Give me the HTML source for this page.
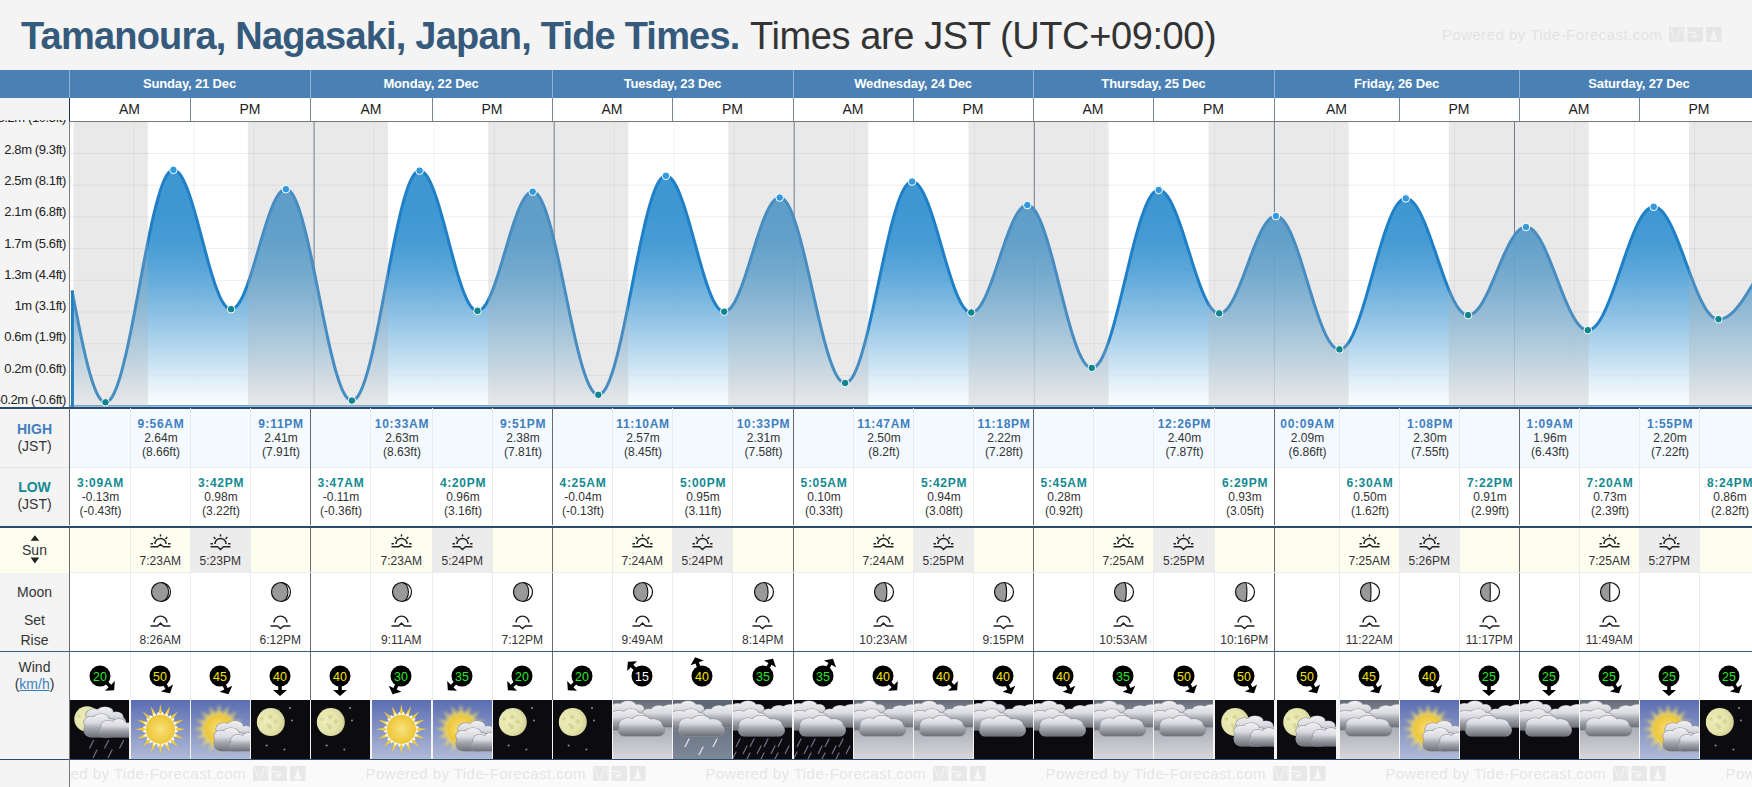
<!DOCTYPE html><html><head><meta charset="utf-8"><style>
*{margin:0;padding:0;box-sizing:border-box}
html,body{width:1752px;height:787px;overflow:hidden;background:#f4f4f4;font-family:"Liberation Sans",sans-serif;color:#222}
.a{position:absolute}
.c{position:absolute;text-align:center;white-space:nowrap}
</style></head><body><div class="a" style="left:21px;top:13px;font-size:38px;line-height:46px;white-space:nowrap"><b style="color:#355a7c;letter-spacing:-0.8px;margin-right:0px">Tamanoura, Nagasaki, Japan, Tide Times.</b> <span style="color:#333;letter-spacing:-0.4px">Times are JST (UTC+09:00)</span></div>
<div class="a" style="left:1442.0px;top:26.3px;font-size:15px;line-height:18px;letter-spacing:0.46px;color:#e3e3e3;white-space:nowrap">Powered by Tide-Forecast.com</div><svg class="a" style="left:1669.0px;top:26.9px" width="53" height="15" viewBox="0 0 53 15"><rect x="0" y="0" width="15.6" height="15" fill="#e6e6e6"/><rect x="18.5" y="0" width="15.4" height="15" fill="#e6e6e6"/><rect x="37" y="0" width="15.5" height="15" fill="#e6e6e6"/><path d="M1 1 C3 1 4 14 6.5 14 C9 14 10 1 12.5 1 C14 1 14.5 8 15.5 10" fill="none" stroke="#f4f4f4" stroke-width="1"/><path d="M18.5 5.5 H25.5 V10.5 M22.5 8 L25.5 11 L28.5 8" fill="none" stroke="#f4f4f4" stroke-width="1.1"/><path d="M44.7 1.5 L48.3 13.5 H41.2 Z" fill="#f4f4f4"/></svg>
<div class="a" style="left:0;top:70px;width:1752px;height:28px;background:#4a80b4"></div>
<div class="c" style="left:69px;top:70px;width:241px;height:28px;line-height:28px;color:#fff;font-weight:bold;font-size:13px;letter-spacing:-0.15px">Sunday, 21 Dec</div>
<div class="a" style="left:69px;top:70px;width:1px;height:28px;background:#8fb3d6"></div>
<div class="c" style="left:310px;top:70px;width:242px;height:28px;line-height:28px;color:#fff;font-weight:bold;font-size:13px;letter-spacing:-0.15px">Monday, 22 Dec</div>
<div class="a" style="left:310px;top:70px;width:1px;height:28px;background:#8fb3d6"></div>
<div class="c" style="left:552px;top:70px;width:241px;height:28px;line-height:28px;color:#fff;font-weight:bold;font-size:13px;letter-spacing:-0.15px">Tuesday, 23 Dec</div>
<div class="a" style="left:552px;top:70px;width:1px;height:28px;background:#8fb3d6"></div>
<div class="c" style="left:793px;top:70px;width:240px;height:28px;line-height:28px;color:#fff;font-weight:bold;font-size:13px;letter-spacing:-0.15px">Wednesday, 24 Dec</div>
<div class="a" style="left:793px;top:70px;width:1px;height:28px;background:#8fb3d6"></div>
<div class="c" style="left:1033px;top:70px;width:241px;height:28px;line-height:28px;color:#fff;font-weight:bold;font-size:13px;letter-spacing:-0.15px">Thursday, 25 Dec</div>
<div class="a" style="left:1033px;top:70px;width:1px;height:28px;background:#8fb3d6"></div>
<div class="c" style="left:1274px;top:70px;width:245px;height:28px;line-height:28px;color:#fff;font-weight:bold;font-size:13px;letter-spacing:-0.15px">Friday, 26 Dec</div>
<div class="a" style="left:1274px;top:70px;width:1px;height:28px;background:#8fb3d6"></div>
<div class="c" style="left:1519px;top:70px;width:240px;height:28px;line-height:28px;color:#fff;font-weight:bold;font-size:13px;letter-spacing:-0.15px">Saturday, 27 Dec</div>
<div class="a" style="left:1519px;top:70px;width:1px;height:28px;background:#8fb3d6"></div>
<div class="a" style="left:70px;top:98px;width:1682px;height:23px;background:#fff"></div>
<div class="c" style="left:69px;top:98px;width:121px;height:23px;line-height:23px;font-size:14px">AM</div>
<div class="c" style="left:190px;top:98px;width:120px;height:23px;line-height:23px;font-size:14px">PM</div>
<div class="a" style="left:190px;top:98px;width:1px;height:23px;background:#778899"></div>
<div class="a" style="left:69px;top:98px;width:1px;height:23px;background:#778899"></div>
<div class="c" style="left:310px;top:98px;width:122px;height:23px;line-height:23px;font-size:14px">AM</div>
<div class="c" style="left:432px;top:98px;width:120px;height:23px;line-height:23px;font-size:14px">PM</div>
<div class="a" style="left:432px;top:98px;width:1px;height:23px;background:#778899"></div>
<div class="a" style="left:310px;top:98px;width:1px;height:23px;background:#778899"></div>
<div class="c" style="left:552px;top:98px;width:120px;height:23px;line-height:23px;font-size:14px">AM</div>
<div class="c" style="left:672px;top:98px;width:121px;height:23px;line-height:23px;font-size:14px">PM</div>
<div class="a" style="left:672px;top:98px;width:1px;height:23px;background:#778899"></div>
<div class="a" style="left:552px;top:98px;width:1px;height:23px;background:#778899"></div>
<div class="c" style="left:793px;top:98px;width:120px;height:23px;line-height:23px;font-size:14px">AM</div>
<div class="c" style="left:913px;top:98px;width:120px;height:23px;line-height:23px;font-size:14px">PM</div>
<div class="a" style="left:913px;top:98px;width:1px;height:23px;background:#778899"></div>
<div class="a" style="left:793px;top:98px;width:1px;height:23px;background:#778899"></div>
<div class="c" style="left:1033px;top:98px;width:120px;height:23px;line-height:23px;font-size:14px">AM</div>
<div class="c" style="left:1153px;top:98px;width:121px;height:23px;line-height:23px;font-size:14px">PM</div>
<div class="a" style="left:1153px;top:98px;width:1px;height:23px;background:#778899"></div>
<div class="a" style="left:1033px;top:98px;width:1px;height:23px;background:#778899"></div>
<div class="c" style="left:1274px;top:98px;width:125px;height:23px;line-height:23px;font-size:14px">AM</div>
<div class="c" style="left:1399px;top:98px;width:120px;height:23px;line-height:23px;font-size:14px">PM</div>
<div class="a" style="left:1399px;top:98px;width:1px;height:23px;background:#778899"></div>
<div class="a" style="left:1274px;top:98px;width:1px;height:23px;background:#778899"></div>
<div class="c" style="left:1519px;top:98px;width:120px;height:23px;line-height:23px;font-size:14px">AM</div>
<div class="c" style="left:1639px;top:98px;width:120px;height:23px;line-height:23px;font-size:14px">PM</div>
<div class="a" style="left:1639px;top:98px;width:1px;height:23px;background:#778899"></div>
<div class="a" style="left:1519px;top:98px;width:1px;height:23px;background:#778899"></div>
<div class="a" style="left:69px;top:98px;width:1px;height:23px;background:#1d3550"></div>
<div class="a" style="left:69px;top:121px;width:1683px;height:1px;background:#7a7a7a"></div>
<svg class="a" style="left:0;top:0" width="1752" height="787" viewBox="0 0 1752 787"><defs><linearGradient id="fg" gradientUnits="userSpaceOnUse" x1="0" y1="170" x2="0" y2="407"><stop offset="0.000" stop-color="#2a8ccd" stop-opacity="0.90"/><stop offset="0.169" stop-color="#2a8ccd" stop-opacity="0.90"/><stop offset="0.295" stop-color="#2a8ccd" stop-opacity="0.87"/><stop offset="0.422" stop-color="#2a8ccd" stop-opacity="0.77"/><stop offset="0.549" stop-color="#2a8ccd" stop-opacity="0.62"/><stop offset="0.675" stop-color="#2a8ccd" stop-opacity="0.45"/><stop offset="0.802" stop-color="#2a8ccd" stop-opacity="0.27"/><stop offset="0.907" stop-color="#2a8ccd" stop-opacity="0.12"/><stop offset="1.000" stop-color="#2a8ccd" stop-opacity="0.00"/></linearGradient><clipPath id="cc"><rect x="70" y="122" width="1682" height="285"/></clipPath></defs><g clip-path="url(#cc)"><rect x="70" y="122" width="1682" height="285" fill="#fff"/><line x1="70" x2="1752" y1="121.8" y2="121.8" stroke="#000" stroke-opacity="0.07" stroke-width="1"/><line x1="70" x2="1752" y1="153.5" y2="153.5" stroke="#000" stroke-opacity="0.07" stroke-width="1"/><line x1="70" x2="1752" y1="185.2" y2="185.2" stroke="#000" stroke-opacity="0.07" stroke-width="1"/><line x1="70" x2="1752" y1="216.9" y2="216.9" stroke="#000" stroke-opacity="0.07" stroke-width="1"/><line x1="70" x2="1752" y1="248.6" y2="248.6" stroke="#000" stroke-opacity="0.07" stroke-width="1"/><line x1="70" x2="1752" y1="280.3" y2="280.3" stroke="#000" stroke-opacity="0.07" stroke-width="1"/><line x1="70" x2="1752" y1="312.0" y2="312.0" stroke="#000" stroke-opacity="0.07" stroke-width="1"/><line x1="70" x2="1752" y1="343.7" y2="343.7" stroke="#000" stroke-opacity="0.07" stroke-width="1"/><line x1="70" x2="1752" y1="375.4" y2="375.4" stroke="#000" stroke-opacity="0.07" stroke-width="1"/><line x1="70" x2="1752" y1="407.1" y2="407.1" stroke="#000" stroke-opacity="0.07" stroke-width="1"/><line x1="134.0" x2="134.0" y1="122" y2="407" stroke="#000" stroke-opacity="0.06" stroke-width="1"/><line x1="194.0" x2="194.0" y1="122" y2="407" stroke="#000" stroke-opacity="0.06" stroke-width="1"/><line x1="254.1" x2="254.1" y1="122" y2="407" stroke="#000" stroke-opacity="0.06" stroke-width="1"/><line x1="374.1" x2="374.1" y1="122" y2="407" stroke="#000" stroke-opacity="0.06" stroke-width="1"/><line x1="434.1" x2="434.1" y1="122" y2="407" stroke="#000" stroke-opacity="0.06" stroke-width="1"/><line x1="494.1" x2="494.1" y1="122" y2="407" stroke="#000" stroke-opacity="0.06" stroke-width="1"/><line x1="614.2" x2="614.2" y1="122" y2="407" stroke="#000" stroke-opacity="0.06" stroke-width="1"/><line x1="674.2" x2="674.2" y1="122" y2="407" stroke="#000" stroke-opacity="0.06" stroke-width="1"/><line x1="734.2" x2="734.2" y1="122" y2="407" stroke="#000" stroke-opacity="0.06" stroke-width="1"/><line x1="854.3" x2="854.3" y1="122" y2="407" stroke="#000" stroke-opacity="0.06" stroke-width="1"/><line x1="914.3" x2="914.3" y1="122" y2="407" stroke="#000" stroke-opacity="0.06" stroke-width="1"/><line x1="974.3" x2="974.3" y1="122" y2="407" stroke="#000" stroke-opacity="0.06" stroke-width="1"/><line x1="1094.3" x2="1094.3" y1="122" y2="407" stroke="#000" stroke-opacity="0.06" stroke-width="1"/><line x1="1154.4" x2="1154.4" y1="122" y2="407" stroke="#000" stroke-opacity="0.06" stroke-width="1"/><line x1="1214.4" x2="1214.4" y1="122" y2="407" stroke="#000" stroke-opacity="0.06" stroke-width="1"/><line x1="1334.4" x2="1334.4" y1="122" y2="407" stroke="#000" stroke-opacity="0.06" stroke-width="1"/><line x1="1394.4" x2="1394.4" y1="122" y2="407" stroke="#000" stroke-opacity="0.06" stroke-width="1"/><line x1="1454.5" x2="1454.5" y1="122" y2="407" stroke="#000" stroke-opacity="0.06" stroke-width="1"/><line x1="1574.5" x2="1574.5" y1="122" y2="407" stroke="#000" stroke-opacity="0.06" stroke-width="1"/><line x1="1634.5" x2="1634.5" y1="122" y2="407" stroke="#000" stroke-opacity="0.06" stroke-width="1"/><line x1="1694.5" x2="1694.5" y1="122" y2="407" stroke="#000" stroke-opacity="0.06" stroke-width="1"/><line x1="314.1" x2="314.1" y1="122" y2="407" stroke="#5a6a7a" stroke-width="1"/><line x1="554.2" x2="554.2" y1="122" y2="407" stroke="#5a6a7a" stroke-width="1"/><line x1="794.2" x2="794.2" y1="122" y2="407" stroke="#5a6a7a" stroke-width="1"/><line x1="1034.3" x2="1034.3" y1="122" y2="407" stroke="#5a6a7a" stroke-width="1"/><line x1="1274.4" x2="1274.4" y1="122" y2="407" stroke="#5a6a7a" stroke-width="1"/><line x1="1514.5" x2="1514.5" y1="122" y2="407" stroke="#5a6a7a" stroke-width="1"/><line x1="1754.6" x2="1754.6" y1="122" y2="407" stroke="#5a6a7a" stroke-width="1"/><path d="M72.00,290.62 L73.00,295.79 L74.00,300.96 L75.00,306.11 L76.00,311.24 L77.00,316.32 L78.00,321.36 L79.00,326.34 L80.00,331.24 L81.00,336.05 L82.00,340.78 L83.00,345.39 L84.00,349.89 L85.00,354.26 L86.00,358.49 L87.00,362.58 L88.01,366.51 L89.01,370.27 L90.01,373.86 L91.01,377.27 L92.01,380.49 L93.01,383.51 L94.01,386.32 L95.01,388.92 L96.01,391.31 L97.01,393.47 L98.01,395.41 L99.01,397.11 L100.01,398.58 L101.01,399.81 L102.01,400.79 L103.01,401.53 L104.01,402.03 L105.01,402.28 L106.01,402.28 L107.01,402.03 L108.01,401.53 L109.01,400.78 L110.01,399.79 L111.01,398.56 L112.01,397.08 L113.01,395.37 L114.01,393.42 L115.01,391.24 L116.01,388.83 L117.02,386.21 L118.02,383.37 L119.02,380.32 L120.02,377.07 L121.02,373.63 L122.02,369.99 L123.02,366.18 L124.02,362.19 L125.02,358.05 L126.02,353.74 L127.02,349.30 L128.02,344.72 L129.02,340.01 L130.02,335.18 L131.02,330.25 L132.02,325.23 L133.02,320.12 L134.02,314.94 L135.02,309.70 L136.02,304.40 L137.02,299.07 L138.02,293.71 L139.02,288.34 L140.02,282.95 L141.02,277.58 L142.02,272.22 L143.02,266.90 L144.02,261.61 L145.02,256.38 L146.02,251.21 L147.02,246.11 L148.03,241.11 L149.03,236.19 L150.03,231.39 L151.03,226.70 L152.03,222.14 L153.03,217.72 L154.03,213.44 L155.03,209.32 L156.03,205.37 L157.03,201.58 L158.03,197.98 L159.03,194.57 L160.03,191.35 L161.03,188.34 L162.03,185.54 L163.03,182.95 L164.03,180.58 L165.03,178.44 L166.03,176.54 L167.03,174.86 L168.03,173.43 L169.03,172.23 L170.03,171.28 L171.03,170.58 L172.03,170.12 L173.03,169.92 L174.03,169.95 L175.03,170.19 L176.03,170.64 L177.03,171.29 L178.04,172.15 L179.04,173.20 L180.04,174.45 L181.04,175.90 L182.04,177.53 L183.04,179.35 L184.04,181.34 L185.04,183.51 L186.04,185.84 L187.04,188.34 L188.04,190.98 L189.04,193.77 L190.04,196.70 L191.04,199.75 L192.04,202.92 L193.04,206.20 L194.04,209.58 L195.04,213.05 L196.04,216.59 L197.04,220.21 L198.04,223.88 L199.04,227.60 L200.04,231.35 L201.04,235.13 L202.04,238.92 L203.04,242.71 L204.04,246.49 L205.04,250.26 L206.04,253.99 L207.04,257.67 L208.05,261.31 L209.05,264.88 L210.05,268.37 L211.05,271.78 L212.05,275.09 L213.05,278.30 L214.05,281.39 L215.05,284.36 L216.05,287.20 L217.05,289.89 L218.05,292.44 L219.05,294.82 L220.05,297.05 L221.05,299.10 L222.05,300.98 L223.05,302.67 L224.05,304.18 L225.05,305.49 L226.05,306.61 L227.05,307.53 L228.05,308.25 L229.05,308.77 L230.05,309.07 L231.05,309.18 L232.05,309.08 L233.05,308.78 L234.05,308.29 L235.05,307.61 L236.05,306.73 L237.05,305.67 L238.06,304.42 L239.06,302.98 L240.06,301.38 L241.06,299.60 L242.06,297.65 L243.06,295.55 L244.06,293.29 L245.06,290.89 L246.06,288.35 L247.06,285.68 L248.06,282.90 L249.06,280.00 L250.06,277.00 L251.06,273.91 L252.06,270.74 L253.06,267.50 L254.06,264.20 L255.06,260.85 L256.06,257.46 L257.06,254.05 L258.06,250.61 L259.06,247.18 L260.06,243.75 L261.06,240.33 L262.06,236.95 L263.06,233.61 L264.06,230.32 L265.06,227.09 L266.06,223.93 L267.07,220.86 L268.07,217.87 L269.07,215.00 L270.07,212.23 L271.07,209.58 L272.07,207.07 L273.07,204.69 L274.07,202.46 L275.07,200.38 L276.07,198.47 L277.07,196.72 L278.07,195.14 L279.07,193.74 L280.07,192.52 L281.07,191.48 L282.07,190.64 L283.07,189.99 L284.07,189.53 L285.07,189.27 L286.07,189.20 L287.07,189.37 L288.07,189.76 L289.07,190.40 L290.07,191.28 L291.07,192.39 L292.07,193.73 L293.07,195.30 L294.07,197.10 L295.07,199.11 L296.07,201.35 L297.08,203.80 L298.08,206.45 L299.08,209.30 L300.08,212.35 L301.08,215.59 L302.08,219.00 L303.08,222.59 L304.08,226.34 L305.08,230.24 L306.08,234.30 L307.08,238.49 L308.08,242.80 L309.08,247.24 L310.08,251.78 L311.08,256.42 L312.08,261.15 L313.08,265.96 L314.08,270.83 L315.08,275.75 L316.08,280.72 L317.08,285.72 L318.08,290.74 L319.08,295.77 L320.08,300.80 L321.08,305.82 L322.08,310.81 L323.08,315.76 L324.08,320.67 L325.08,325.52 L326.08,330.30 L327.09,335.00 L328.09,339.61 L329.09,344.12 L330.09,348.51 L331.09,352.79 L332.09,356.93 L333.09,360.94 L334.09,364.79 L335.09,368.49 L336.09,372.01 L337.09,375.37 L338.09,378.54 L339.09,381.52 L340.09,384.31 L341.09,386.89 L342.09,389.27 L343.09,391.43 L344.09,393.37 L345.09,395.09 L346.09,396.59 L347.09,397.85 L348.09,398.88 L349.09,399.67 L350.09,400.23 L351.09,400.55 L352.09,400.63 L353.09,400.46 L354.09,400.05 L355.09,399.39 L356.09,398.48 L357.10,397.33 L358.10,395.94 L359.10,394.32 L360.10,392.46 L361.10,390.37 L362.10,388.05 L363.10,385.52 L364.10,382.76 L365.10,379.80 L366.10,376.64 L367.10,373.28 L368.10,369.73 L369.10,366.00 L370.10,362.10 L371.10,358.03 L372.10,353.81 L373.10,349.44 L374.10,344.93 L375.10,340.30 L376.10,335.54 L377.10,330.68 L378.10,325.73 L379.10,320.68 L380.10,315.57 L381.10,310.38 L382.10,305.15 L383.10,299.87 L384.10,294.56 L385.10,289.23 L386.10,283.89 L387.11,278.56 L388.11,273.25 L389.11,267.96 L390.11,262.71 L391.11,257.50 L392.11,252.36 L393.11,247.29 L394.11,242.31 L395.11,237.41 L396.11,232.62 L397.11,227.95 L398.11,223.40 L399.11,218.98 L400.11,214.71 L401.11,210.59 L402.11,206.63 L403.11,202.85 L404.11,199.24 L405.11,195.82 L406.11,192.59 L407.11,189.56 L408.11,186.74 L409.11,184.13 L410.11,181.74 L411.11,179.58 L412.11,177.64 L413.11,175.94 L414.11,174.47 L415.11,173.24 L416.11,172.26 L417.12,171.52 L418.12,171.02 L419.12,170.77 L420.12,170.77 L421.12,170.98 L422.12,171.39 L423.12,172.01 L424.12,172.83 L425.12,173.85 L426.12,175.07 L427.12,176.48 L428.12,178.08 L429.12,179.87 L430.12,181.84 L431.12,183.98 L432.12,186.29 L433.12,188.76 L434.12,191.38 L435.12,194.15 L436.12,197.05 L437.12,200.09 L438.12,203.25 L439.12,206.51 L440.12,209.88 L441.12,213.34 L442.12,216.88 L443.12,220.49 L444.12,224.16 L445.12,227.88 L446.12,231.64 L447.13,235.42 L448.13,239.22 L449.13,243.03 L450.13,246.83 L451.13,250.61 L452.13,254.36 L453.13,258.07 L454.13,261.73 L455.13,265.33 L456.13,268.86 L457.13,272.30 L458.13,275.65 L459.13,278.90 L460.13,282.04 L461.13,285.05 L462.13,287.94 L463.13,290.68 L464.13,293.28 L465.13,295.72 L466.13,298.00 L467.13,300.11 L468.13,302.05 L469.13,303.81 L470.13,305.38 L471.13,306.76 L472.13,307.94 L473.13,308.93 L474.13,309.71 L475.13,310.30 L476.13,310.67 L477.14,310.84 L478.14,310.81 L479.14,310.59 L480.14,310.17 L481.14,309.56 L482.14,308.76 L483.14,307.78 L484.14,306.61 L485.14,305.26 L486.14,303.74 L487.14,302.05 L488.14,300.19 L489.14,298.18 L490.14,296.01 L491.14,293.70 L492.14,291.25 L493.14,288.67 L494.14,285.97 L495.14,283.16 L496.14,280.24 L497.14,277.23 L498.14,274.14 L499.14,270.97 L500.14,267.74 L501.14,264.46 L502.14,261.13 L503.14,257.77 L504.14,254.39 L505.14,251.00 L506.14,247.61 L507.15,244.23 L508.15,240.87 L509.15,237.55 L510.15,234.28 L511.15,231.05 L512.15,227.90 L513.15,224.82 L514.15,221.82 L515.15,218.93 L516.15,216.13 L517.15,213.45 L518.15,210.89 L519.15,208.47 L520.15,206.18 L521.15,204.04 L522.15,202.05 L523.15,200.22 L524.15,198.56 L525.15,197.07 L526.15,195.75 L527.15,194.62 L528.15,193.66 L529.15,192.90 L530.15,192.32 L531.15,191.93 L532.15,191.74 L533.15,191.75 L534.15,191.98 L535.15,192.44 L536.15,193.14 L537.16,194.06 L538.16,195.21 L539.16,196.59 L540.16,198.18 L541.16,200.00 L542.16,202.02 L543.16,204.26 L544.16,206.70 L545.16,209.34 L546.16,212.17 L547.16,215.18 L548.16,218.37 L549.16,221.74 L550.16,225.27 L551.16,228.95 L552.16,232.78 L553.16,236.75 L554.16,240.85 L555.16,245.07 L556.16,249.40 L557.16,253.82 L558.16,258.34 L559.16,262.94 L560.16,267.61 L561.16,272.34 L562.16,277.11 L563.16,281.92 L564.16,286.76 L565.16,291.61 L566.16,296.47 L567.17,301.32 L568.17,306.15 L569.17,310.95 L570.17,315.71 L571.17,320.42 L572.17,325.06 L573.17,329.64 L574.17,334.13 L575.17,338.52 L576.17,342.82 L577.17,347.00 L578.17,351.05 L579.17,354.98 L580.17,358.76 L581.17,362.39 L582.17,365.87 L583.17,369.18 L584.17,372.31 L585.17,375.27 L586.17,378.03 L587.17,380.61 L588.17,382.98 L589.17,385.14 L590.17,387.10 L591.17,388.84 L592.17,390.37 L593.17,391.67 L594.17,392.74 L595.17,393.59 L596.17,394.21 L597.18,394.60 L598.18,394.75 L599.18,394.67 L600.18,394.36 L601.18,393.81 L602.18,393.02 L603.18,392.00 L604.18,390.75 L605.18,389.27 L606.18,387.56 L607.18,385.64 L608.18,383.49 L609.18,381.14 L610.18,378.57 L611.18,375.81 L612.18,372.84 L613.18,369.69 L614.18,366.36 L615.18,362.85 L616.18,359.17 L617.18,355.33 L618.18,351.34 L619.18,347.21 L620.18,342.94 L621.18,338.55 L622.18,334.04 L623.18,329.42 L624.18,324.71 L625.18,319.92 L626.18,315.05 L627.19,310.12 L628.19,305.13 L629.19,300.10 L630.19,295.03 L631.19,289.95 L632.19,284.86 L633.19,279.76 L634.19,274.68 L635.19,269.62 L636.19,264.60 L637.19,259.62 L638.19,254.69 L639.19,249.83 L640.19,245.05 L641.19,240.36 L642.19,235.76 L643.19,231.27 L644.19,226.90 L645.19,222.65 L646.19,218.54 L647.19,214.57 L648.19,210.76 L649.19,207.11 L650.19,203.63 L651.19,200.32 L652.19,197.20 L653.19,194.27 L654.19,191.53 L655.19,189.00 L656.19,186.68 L657.20,184.57 L658.20,182.68 L659.20,181.01 L660.20,179.57 L661.20,178.35 L662.20,177.37 L663.20,176.62 L664.20,176.11 L665.20,175.83 L666.20,175.79 L667.20,175.95 L668.20,176.31 L669.20,176.87 L670.20,177.62 L671.20,178.56 L672.20,179.69 L673.20,181.01 L674.20,182.50 L675.20,184.18 L676.20,186.03 L677.20,188.04 L678.20,190.22 L679.20,192.55 L680.20,195.03 L681.20,197.66 L682.20,200.41 L683.20,203.29 L684.20,206.29 L685.20,209.40 L686.20,212.61 L687.21,215.90 L688.21,219.28 L689.21,222.73 L690.21,226.24 L691.21,229.80 L692.21,233.40 L693.21,237.03 L694.21,240.68 L695.21,244.34 L696.21,248.00 L697.21,251.64 L698.21,255.27 L699.21,258.86 L700.21,262.40 L701.21,265.89 L702.21,269.32 L703.21,272.67 L704.21,275.94 L705.21,279.11 L706.21,282.19 L707.21,285.15 L708.21,287.99 L709.21,290.70 L710.21,293.28 L711.21,295.71 L712.21,297.99 L713.21,300.11 L714.21,302.08 L715.21,303.87 L716.21,305.48 L717.22,306.92 L718.22,308.18 L719.22,309.25 L720.22,310.12 L721.22,310.81 L722.22,311.30 L723.22,311.60 L724.22,311.69 L725.22,311.60 L726.22,311.33 L727.22,310.87 L728.22,310.24 L729.22,309.42 L730.22,308.44 L731.22,307.27 L732.22,305.94 L733.22,304.45 L734.22,302.80 L735.22,300.99 L736.22,299.03 L737.22,296.93 L738.22,294.70 L739.22,292.33 L740.22,289.85 L741.22,287.25 L742.22,284.55 L743.22,281.76 L744.22,278.87 L745.22,275.91 L746.22,272.88 L747.23,269.80 L748.23,266.66 L749.23,263.49 L750.23,260.28 L751.23,257.06 L752.23,253.83 L753.23,250.61 L754.23,247.39 L755.23,244.20 L756.23,241.05 L757.23,237.93 L758.23,234.88 L759.23,231.88 L760.23,228.96 L761.23,226.12 L762.23,223.37 L763.23,220.72 L764.23,218.18 L765.23,215.75 L766.23,213.45 L767.23,211.29 L768.23,209.26 L769.23,207.37 L770.23,205.64 L771.23,204.07 L772.23,202.65 L773.23,201.41 L774.23,200.33 L775.23,199.43 L776.23,198.71 L777.24,198.16 L778.24,197.80 L779.24,197.61 L780.24,197.62 L781.24,197.83 L782.24,198.26 L783.24,198.90 L784.24,199.75 L785.24,200.82 L786.24,202.08 L787.24,203.56 L788.24,205.23 L789.24,207.10 L790.24,209.16 L791.24,211.41 L792.24,213.84 L793.24,216.45 L794.24,219.23 L795.24,222.18 L796.24,225.28 L797.24,228.53 L798.24,231.92 L799.24,235.45 L800.24,239.11 L801.24,242.88 L802.24,246.77 L803.24,250.75 L804.24,254.83 L805.24,258.99 L806.24,263.22 L807.25,267.51 L808.25,271.86 L809.25,276.25 L810.25,280.67 L811.25,285.11 L812.25,289.57 L813.25,294.03 L814.25,298.47 L815.25,302.90 L816.25,307.30 L817.25,311.67 L818.25,315.98 L819.25,320.23 L820.25,324.41 L821.25,328.52 L822.25,332.53 L823.25,336.45 L824.25,340.26 L825.25,343.96 L826.25,347.53 L827.25,350.97 L828.25,354.27 L829.25,357.42 L830.25,360.42 L831.25,363.25 L832.25,365.92 L833.25,368.41 L834.25,370.72 L835.25,372.84 L836.25,374.78 L837.25,376.52 L838.26,378.06 L839.26,379.39 L840.26,380.52 L841.26,381.44 L842.26,382.15 L843.26,382.65 L844.26,382.94 L845.26,383.01 L846.26,382.86 L847.26,382.49 L848.26,381.90 L849.26,381.09 L850.26,380.07 L851.26,378.82 L852.26,377.37 L853.26,375.71 L854.26,373.84 L855.26,371.78 L856.26,369.51 L857.26,367.06 L858.26,364.41 L859.26,361.59 L860.26,358.59 L861.26,355.43 L862.26,352.10 L863.26,348.62 L864.26,345.00 L865.26,341.24 L866.26,337.35 L867.26,333.33 L868.27,329.21 L869.27,324.98 L870.27,320.66 L871.27,316.25 L872.27,311.77 L873.27,307.23 L874.27,302.63 L875.27,297.98 L876.27,293.30 L877.27,288.60 L878.27,283.88 L879.27,279.16 L880.27,274.45 L881.27,269.76 L882.27,265.09 L883.27,260.46 L884.27,255.87 L885.27,251.35 L886.27,246.89 L887.27,242.52 L888.27,238.22 L889.27,234.03 L890.27,229.94 L891.27,225.97 L892.27,222.12 L893.27,218.41 L894.27,214.83 L895.27,211.40 L896.27,208.13 L897.27,205.02 L898.28,202.09 L899.28,199.32 L900.28,196.74 L901.28,194.35 L902.28,192.16 L903.28,190.16 L904.28,188.36 L905.28,186.77 L906.28,185.39 L907.28,184.22 L908.28,183.27 L909.28,182.53 L910.28,182.02 L911.28,181.73 L912.28,181.65 L913.28,181.78 L914.28,182.08 L915.28,182.58 L916.28,183.25 L917.28,184.10 L918.28,185.13 L919.28,186.34 L920.28,187.71 L921.28,189.26 L922.28,190.96 L923.28,192.83 L924.28,194.84 L925.28,197.01 L926.28,199.32 L927.28,201.76 L928.29,204.32 L929.29,207.01 L930.29,209.82 L931.29,212.72 L932.29,215.73 L933.29,218.82 L934.29,221.99 L935.29,225.23 L936.29,228.54 L937.29,231.89 L938.29,235.29 L939.29,238.73 L940.29,242.18 L941.29,245.65 L942.29,249.13 L943.29,252.60 L944.29,256.05 L945.29,259.48 L946.29,262.87 L947.29,266.22 L948.29,269.51 L949.29,272.74 L950.29,275.90 L951.29,278.98 L952.29,281.97 L953.29,284.86 L954.29,287.64 L955.29,290.31 L956.29,292.86 L957.29,295.27 L958.30,297.56 L959.30,299.70 L960.30,301.69 L961.30,303.53 L962.30,305.20 L963.30,306.72 L964.30,308.07 L965.30,309.24 L966.30,310.24 L967.30,311.06 L968.30,311.71 L969.30,312.17 L970.30,312.44 L971.30,312.53 L972.30,312.45 L973.30,312.20 L974.30,311.77 L975.30,311.19 L976.30,310.43 L977.30,309.52 L978.30,308.45 L979.30,307.22 L980.30,305.83 L981.30,304.30 L982.30,302.63 L983.30,300.82 L984.30,298.87 L985.30,296.81 L986.30,294.62 L987.30,292.32 L988.31,289.91 L989.31,287.40 L990.31,284.81 L991.31,282.13 L992.31,279.38 L993.31,276.57 L994.31,273.70 L995.31,270.78 L996.31,267.83 L997.31,264.85 L998.31,261.85 L999.31,258.84 L1000.31,255.83 L1001.31,252.82 L1002.31,249.84 L1003.31,246.89 L1004.31,243.97 L1005.31,241.10 L1006.31,238.29 L1007.31,235.54 L1008.31,232.86 L1009.31,230.27 L1010.31,227.76 L1011.31,225.36 L1012.31,223.06 L1013.31,220.87 L1014.31,218.80 L1015.31,216.86 L1016.31,215.04 L1017.31,213.37 L1018.32,211.84 L1019.32,210.46 L1020.32,209.23 L1021.32,208.15 L1022.32,207.24 L1023.32,206.49 L1024.32,205.90 L1025.32,205.48 L1026.32,205.23 L1027.32,205.14 L1028.32,205.24 L1029.32,205.53 L1030.32,206.01 L1031.32,206.68 L1032.32,207.54 L1033.32,208.59 L1034.32,209.83 L1035.32,211.24 L1036.32,212.84 L1037.32,214.61 L1038.32,216.55 L1039.32,218.65 L1040.32,220.92 L1041.32,223.34 L1042.32,225.91 L1043.32,228.63 L1044.32,231.48 L1045.32,234.47 L1046.32,237.58 L1047.32,240.80 L1048.33,244.13 L1049.33,247.56 L1050.33,251.09 L1051.33,254.70 L1052.33,258.38 L1053.33,262.13 L1054.33,265.94 L1055.33,269.80 L1056.33,273.70 L1057.33,277.63 L1058.33,281.58 L1059.33,285.54 L1060.33,289.50 L1061.33,293.46 L1062.33,297.40 L1063.33,301.31 L1064.33,305.19 L1065.33,309.02 L1066.33,312.80 L1067.33,316.52 L1068.33,320.17 L1069.33,323.74 L1070.33,327.22 L1071.33,330.60 L1072.33,333.88 L1073.33,337.05 L1074.33,340.09 L1075.33,343.01 L1076.33,345.80 L1077.33,348.44 L1078.34,350.94 L1079.34,353.29 L1080.34,355.47 L1081.34,357.50 L1082.34,359.35 L1083.34,361.03 L1084.34,362.54 L1085.34,363.86 L1086.34,365.01 L1087.34,365.96 L1088.34,366.73 L1089.34,367.31 L1090.34,367.69 L1091.34,367.88 L1092.34,367.88 L1093.34,367.69 L1094.34,367.29 L1095.34,366.71 L1096.34,365.92 L1097.34,364.95 L1098.34,363.79 L1099.34,362.44 L1100.34,360.90 L1101.34,359.18 L1102.34,357.29 L1103.34,355.22 L1104.34,352.99 L1105.34,350.59 L1106.34,348.03 L1107.34,345.32 L1108.35,342.47 L1109.35,339.47 L1110.35,336.34 L1111.35,333.09 L1112.35,329.71 L1113.35,326.22 L1114.35,322.63 L1115.35,318.94 L1116.35,315.16 L1117.35,311.30 L1118.35,307.37 L1119.35,303.38 L1120.35,299.34 L1121.35,295.25 L1122.35,291.12 L1123.35,286.97 L1124.35,282.80 L1125.35,278.62 L1126.35,274.44 L1127.35,270.27 L1128.35,266.12 L1129.35,262.00 L1130.35,257.91 L1131.35,253.88 L1132.35,249.90 L1133.35,245.98 L1134.35,242.13 L1135.35,238.37 L1136.35,234.70 L1137.35,231.12 L1138.36,227.65 L1139.36,224.30 L1140.36,221.06 L1141.36,217.95 L1142.36,214.98 L1143.36,212.15 L1144.36,209.47 L1145.36,206.93 L1146.36,204.56 L1147.36,202.36 L1148.36,200.32 L1149.36,198.46 L1150.36,196.77 L1151.36,195.27 L1152.36,193.95 L1153.36,192.82 L1154.36,191.88 L1155.36,191.13 L1156.36,190.57 L1157.36,190.21 L1158.36,190.05 L1159.36,190.08 L1160.36,190.27 L1161.36,190.63 L1162.36,191.16 L1163.36,191.84 L1164.36,192.69 L1165.36,193.70 L1166.36,194.87 L1167.36,196.19 L1168.37,197.65 L1169.37,199.27 L1170.37,201.02 L1171.37,202.91 L1172.37,204.94 L1173.37,207.09 L1174.37,209.35 L1175.37,211.74 L1176.37,214.23 L1177.37,216.82 L1178.37,219.51 L1179.37,222.28 L1180.37,225.13 L1181.37,228.06 L1182.37,231.05 L1183.37,234.09 L1184.37,237.18 L1185.37,240.31 L1186.37,243.47 L1187.37,246.65 L1188.37,249.85 L1189.37,253.05 L1190.37,256.25 L1191.37,259.44 L1192.37,262.60 L1193.37,265.74 L1194.37,268.84 L1195.37,271.89 L1196.37,274.89 L1197.37,277.82 L1198.38,280.68 L1199.38,283.47 L1200.38,286.17 L1201.38,288.78 L1202.38,291.29 L1203.38,293.69 L1204.38,295.98 L1205.38,298.14 L1206.38,300.19 L1207.38,302.10 L1208.38,303.88 L1209.38,305.51 L1210.38,307.00 L1211.38,308.35 L1212.38,309.54 L1213.38,310.57 L1214.38,311.44 L1215.38,312.16 L1216.38,312.71 L1217.38,313.09 L1218.38,313.32 L1219.38,313.37 L1220.38,313.27 L1221.38,313.02 L1222.38,312.62 L1223.38,312.08 L1224.38,311.39 L1225.38,310.55 L1226.38,309.58 L1227.38,308.47 L1228.39,307.22 L1229.39,305.84 L1230.39,304.34 L1231.39,302.71 L1232.39,300.97 L1233.39,299.11 L1234.39,297.15 L1235.39,295.10 L1236.39,292.94 L1237.39,290.70 L1238.39,288.38 L1239.39,285.99 L1240.39,283.53 L1241.39,281.02 L1242.39,278.45 L1243.39,275.85 L1244.39,273.20 L1245.39,270.54 L1246.39,267.85 L1247.39,265.15 L1248.39,262.46 L1249.39,259.77 L1250.39,257.09 L1251.39,254.44 L1252.39,251.82 L1253.39,249.24 L1254.39,246.71 L1255.39,244.23 L1256.39,241.82 L1257.39,239.47 L1258.40,237.21 L1259.40,235.02 L1260.40,232.93 L1261.40,230.94 L1262.40,229.05 L1263.40,227.27 L1264.40,225.61 L1265.40,224.06 L1266.40,222.64 L1267.40,221.35 L1268.40,220.19 L1269.40,219.17 L1270.40,218.29 L1271.40,217.55 L1272.40,216.96 L1273.40,216.52 L1274.40,216.22 L1275.40,216.07 L1276.40,216.07 L1277.40,216.23 L1278.40,216.56 L1279.40,217.05 L1280.40,217.70 L1281.40,218.50 L1282.40,219.47 L1283.40,220.59 L1284.40,221.86 L1285.40,223.28 L1286.40,224.85 L1287.40,226.56 L1288.41,228.40 L1289.41,230.38 L1290.41,232.49 L1291.41,234.72 L1292.41,237.07 L1293.41,239.53 L1294.41,242.09 L1295.41,244.76 L1296.41,247.51 L1297.41,250.36 L1298.41,253.28 L1299.41,256.28 L1300.41,259.34 L1301.41,262.45 L1302.41,265.62 L1303.41,268.83 L1304.41,272.07 L1305.41,275.34 L1306.41,278.63 L1307.41,281.93 L1308.41,285.23 L1309.41,288.52 L1310.41,291.80 L1311.41,295.06 L1312.41,298.28 L1313.41,301.47 L1314.41,304.61 L1315.41,307.70 L1316.41,310.73 L1317.41,313.69 L1318.42,316.58 L1319.42,319.38 L1320.42,322.09 L1321.42,324.71 L1322.42,327.22 L1323.42,329.62 L1324.42,331.91 L1325.42,334.08 L1326.42,336.12 L1327.42,338.04 L1328.42,339.82 L1329.42,341.45 L1330.42,342.95 L1331.42,344.29 L1332.42,345.49 L1333.42,346.53 L1334.42,347.42 L1335.42,348.15 L1336.42,348.72 L1337.42,349.12 L1338.42,349.37 L1339.42,349.45 L1340.42,349.37 L1341.42,349.11 L1342.42,348.69 L1343.42,348.10 L1344.42,347.34 L1345.42,346.42 L1346.42,345.34 L1347.42,344.09 L1348.43,342.69 L1349.43,341.14 L1350.43,339.43 L1351.43,337.58 L1352.43,335.58 L1353.43,333.45 L1354.43,331.18 L1355.43,328.78 L1356.43,326.27 L1357.43,323.63 L1358.43,320.88 L1359.43,318.03 L1360.43,315.08 L1361.43,312.03 L1362.43,308.90 L1363.43,305.70 L1364.43,302.42 L1365.43,299.07 L1366.43,295.67 L1367.43,292.23 L1368.43,288.74 L1369.43,285.21 L1370.43,281.67 L1371.43,278.10 L1372.43,274.53 L1373.43,270.95 L1374.43,267.38 L1375.43,263.83 L1376.43,260.30 L1377.43,256.80 L1378.44,253.33 L1379.44,249.92 L1380.44,246.56 L1381.44,243.25 L1382.44,240.02 L1383.44,236.87 L1384.44,233.79 L1385.44,230.81 L1386.44,227.92 L1387.44,225.14 L1388.44,222.47 L1389.44,219.91 L1390.44,217.47 L1391.44,215.16 L1392.44,212.98 L1393.44,210.94 L1394.44,209.04 L1395.44,207.29 L1396.44,205.68 L1397.44,204.23 L1398.44,202.93 L1399.44,201.80 L1400.44,200.82 L1401.44,200.01 L1402.44,199.37 L1403.44,198.89 L1404.44,198.58 L1405.44,198.44 L1406.44,198.46 L1407.44,198.64 L1408.45,198.96 L1409.45,199.42 L1410.45,200.04 L1411.45,200.79 L1412.45,201.69 L1413.45,202.73 L1414.45,203.91 L1415.45,205.22 L1416.45,206.66 L1417.45,208.23 L1418.45,209.92 L1419.45,211.73 L1420.45,213.65 L1421.45,215.69 L1422.45,217.83 L1423.45,220.06 L1424.45,222.39 L1425.45,224.81 L1426.45,227.31 L1427.45,229.88 L1428.45,232.52 L1429.45,235.22 L1430.45,237.98 L1431.45,240.79 L1432.45,243.63 L1433.45,246.51 L1434.45,249.42 L1435.45,252.34 L1436.45,255.27 L1437.45,258.21 L1438.46,261.15 L1439.46,264.07 L1440.46,266.97 L1441.46,269.85 L1442.46,272.70 L1443.46,275.50 L1444.46,278.26 L1445.46,280.96 L1446.46,283.60 L1447.46,286.18 L1448.46,288.68 L1449.46,291.09 L1450.46,293.42 L1451.46,295.66 L1452.46,297.80 L1453.46,299.83 L1454.46,301.75 L1455.46,303.56 L1456.46,305.26 L1457.46,306.82 L1458.46,308.26 L1459.46,309.57 L1460.46,310.75 L1461.46,311.79 L1462.46,312.69 L1463.46,313.44 L1464.46,314.06 L1465.46,314.52 L1466.46,314.84 L1467.46,315.02 L1468.47,315.04 L1469.47,314.94 L1470.47,314.70 L1471.47,314.33 L1472.47,313.84 L1473.47,313.22 L1474.47,312.47 L1475.47,311.60 L1476.47,310.62 L1477.47,309.51 L1478.47,308.29 L1479.47,306.97 L1480.47,305.53 L1481.47,304.00 L1482.47,302.36 L1483.47,300.64 L1484.47,298.82 L1485.47,296.93 L1486.47,294.96 L1487.47,292.92 L1488.47,290.81 L1489.47,288.64 L1490.47,286.43 L1491.47,284.16 L1492.47,281.86 L1493.47,279.53 L1494.47,277.17 L1495.47,274.79 L1496.47,272.40 L1497.47,270.01 L1498.48,267.62 L1499.48,265.24 L1500.48,262.88 L1501.48,260.54 L1502.48,258.23 L1503.48,255.96 L1504.48,253.73 L1505.48,251.56 L1506.48,249.44 L1507.48,247.39 L1508.48,245.40 L1509.48,243.50 L1510.48,241.67 L1511.48,239.93 L1512.48,238.28 L1513.48,236.73 L1514.48,235.27 L1515.48,233.93 L1516.48,232.69 L1517.48,231.57 L1518.48,230.56 L1519.48,229.67 L1520.48,228.91 L1521.48,228.27 L1522.48,227.75 L1523.48,227.36 L1524.48,227.10 L1525.48,226.97 L1526.48,226.97 L1527.48,227.11 L1528.49,227.37 L1529.49,227.77 L1530.49,228.30 L1531.49,228.96 L1532.49,229.75 L1533.49,230.66 L1534.49,231.69 L1535.49,232.85 L1536.49,234.13 L1537.49,235.52 L1538.49,237.02 L1539.49,238.63 L1540.49,240.34 L1541.49,242.15 L1542.49,244.05 L1543.49,246.05 L1544.49,248.12 L1545.49,250.28 L1546.49,252.51 L1547.49,254.80 L1548.49,257.16 L1549.49,259.57 L1550.49,262.03 L1551.49,264.54 L1552.49,267.08 L1553.49,269.65 L1554.49,272.24 L1555.49,274.85 L1556.49,277.47 L1557.49,280.09 L1558.50,282.71 L1559.50,285.31 L1560.50,287.90 L1561.50,290.47 L1562.50,293.00 L1563.50,295.50 L1564.50,297.95 L1565.50,300.36 L1566.50,302.70 L1567.50,304.99 L1568.50,307.20 L1569.50,309.35 L1570.50,311.41 L1571.50,313.39 L1572.50,315.28 L1573.50,317.07 L1574.50,318.76 L1575.50,320.35 L1576.50,321.84 L1577.50,323.21 L1578.50,324.46 L1579.50,325.60 L1580.50,326.62 L1581.50,327.51 L1582.50,328.27 L1583.50,328.91 L1584.50,329.42 L1585.50,329.79 L1586.50,330.04 L1587.50,330.15 L1588.51,330.12 L1589.51,329.96 L1590.51,329.65 L1591.51,329.21 L1592.51,328.63 L1593.51,327.91 L1594.51,327.06 L1595.51,326.07 L1596.51,324.95 L1597.51,323.70 L1598.51,322.33 L1599.51,320.84 L1600.51,319.22 L1601.51,317.49 L1602.51,315.65 L1603.51,313.70 L1604.51,311.65 L1605.51,309.50 L1606.51,307.26 L1607.51,304.93 L1608.51,302.51 L1609.51,300.02 L1610.51,297.46 L1611.51,294.83 L1612.51,292.14 L1613.51,289.39 L1614.51,286.60 L1615.51,283.77 L1616.51,280.90 L1617.51,278.01 L1618.52,275.09 L1619.52,272.16 L1620.52,269.22 L1621.52,266.28 L1622.52,263.34 L1623.52,260.42 L1624.52,257.51 L1625.52,254.63 L1626.52,251.78 L1627.52,248.96 L1628.52,246.20 L1629.52,243.48 L1630.52,240.82 L1631.52,238.22 L1632.52,235.69 L1633.52,233.24 L1634.52,230.87 L1635.52,228.58 L1636.52,226.38 L1637.52,224.28 L1638.52,222.28 L1639.52,220.39 L1640.52,218.60 L1641.52,216.93 L1642.52,215.37 L1643.52,213.94 L1644.52,212.63 L1645.52,211.45 L1646.52,210.39 L1647.52,209.47 L1648.53,208.69 L1649.53,208.04 L1650.53,207.52 L1651.53,207.15 L1652.53,206.92 L1653.53,206.82 L1654.53,206.87 L1655.53,207.04 L1656.53,207.35 L1657.53,207.79 L1658.53,208.35 L1659.53,209.05 L1660.53,209.87 L1661.53,210.82 L1662.53,211.89 L1663.53,213.08 L1664.53,214.39 L1665.53,215.81 L1666.53,217.34 L1667.53,218.98 L1668.53,220.72 L1669.53,222.57 L1670.53,224.50 L1671.53,226.53 L1672.53,228.64 L1673.53,230.84 L1674.53,233.11 L1675.53,235.45 L1676.53,237.85 L1677.53,240.32 L1678.54,242.84 L1679.54,245.40 L1680.54,248.01 L1681.54,250.65 L1682.54,253.32 L1683.54,256.01 L1684.54,258.72 L1685.54,261.44 L1686.54,264.17 L1687.54,266.89 L1688.54,269.60 L1689.54,272.29 L1690.54,274.97 L1691.54,277.62 L1692.54,280.23 L1693.54,282.80 L1694.54,285.33 L1695.54,287.80 L1696.54,290.22 L1697.54,292.57 L1698.54,294.85 L1699.54,297.06 L1700.54,299.18 L1701.54,301.23 L1702.54,303.18 L1703.54,305.04 L1704.54,306.80 L1705.54,308.46 L1706.54,310.01 L1707.54,311.45 L1708.55,312.77 L1709.55,313.98 L1710.55,315.08 L1711.55,316.04 L1712.55,316.89 L1713.55,317.60 L1714.55,318.19 L1715.55,318.65 L1716.55,318.98 L1717.55,319.18 L1718.55,319.25 L1719.55,319.21 L1720.55,319.10 L1721.55,318.92 L1722.55,318.68 L1723.55,318.36 L1724.55,317.97 L1725.55,317.51 L1726.55,316.98 L1727.55,316.39 L1728.55,315.73 L1729.55,315.00 L1730.55,314.21 L1731.55,313.36 L1732.55,312.45 L1733.55,311.47 L1734.55,310.44 L1735.55,309.36 L1736.55,308.22 L1737.55,307.02 L1738.56,305.78 L1739.56,304.49 L1740.56,303.16 L1741.56,301.78 L1742.56,300.36 L1743.56,298.90 L1744.56,297.41 L1745.56,295.88 L1746.56,294.32 L1747.56,292.74 L1748.56,291.13 L1749.56,289.50 L1750.56,287.85 L1751.56,286.18 L1752.56,284.50 L1753.56,282.81 L1754.56,281.11 L1755.56,279.41 L1756.00,278.66 L1756.00,407 L72.00,407 Z" fill="#fff" fill-opacity="0.75"/><path d="M72.00,290.62 L73.00,295.79 L74.00,300.96 L75.00,306.11 L76.00,311.24 L77.00,316.32 L78.00,321.36 L79.00,326.34 L80.00,331.24 L81.00,336.05 L82.00,340.78 L83.00,345.39 L84.00,349.89 L85.00,354.26 L86.00,358.49 L87.00,362.58 L88.01,366.51 L89.01,370.27 L90.01,373.86 L91.01,377.27 L92.01,380.49 L93.01,383.51 L94.01,386.32 L95.01,388.92 L96.01,391.31 L97.01,393.47 L98.01,395.41 L99.01,397.11 L100.01,398.58 L101.01,399.81 L102.01,400.79 L103.01,401.53 L104.01,402.03 L105.01,402.28 L106.01,402.28 L107.01,402.03 L108.01,401.53 L109.01,400.78 L110.01,399.79 L111.01,398.56 L112.01,397.08 L113.01,395.37 L114.01,393.42 L115.01,391.24 L116.01,388.83 L117.02,386.21 L118.02,383.37 L119.02,380.32 L120.02,377.07 L121.02,373.63 L122.02,369.99 L123.02,366.18 L124.02,362.19 L125.02,358.05 L126.02,353.74 L127.02,349.30 L128.02,344.72 L129.02,340.01 L130.02,335.18 L131.02,330.25 L132.02,325.23 L133.02,320.12 L134.02,314.94 L135.02,309.70 L136.02,304.40 L137.02,299.07 L138.02,293.71 L139.02,288.34 L140.02,282.95 L141.02,277.58 L142.02,272.22 L143.02,266.90 L144.02,261.61 L145.02,256.38 L146.02,251.21 L147.02,246.11 L148.03,241.11 L149.03,236.19 L150.03,231.39 L151.03,226.70 L152.03,222.14 L153.03,217.72 L154.03,213.44 L155.03,209.32 L156.03,205.37 L157.03,201.58 L158.03,197.98 L159.03,194.57 L160.03,191.35 L161.03,188.34 L162.03,185.54 L163.03,182.95 L164.03,180.58 L165.03,178.44 L166.03,176.54 L167.03,174.86 L168.03,173.43 L169.03,172.23 L170.03,171.28 L171.03,170.58 L172.03,170.12 L173.03,169.92 L174.03,169.95 L175.03,170.19 L176.03,170.64 L177.03,171.29 L178.04,172.15 L179.04,173.20 L180.04,174.45 L181.04,175.90 L182.04,177.53 L183.04,179.35 L184.04,181.34 L185.04,183.51 L186.04,185.84 L187.04,188.34 L188.04,190.98 L189.04,193.77 L190.04,196.70 L191.04,199.75 L192.04,202.92 L193.04,206.20 L194.04,209.58 L195.04,213.05 L196.04,216.59 L197.04,220.21 L198.04,223.88 L199.04,227.60 L200.04,231.35 L201.04,235.13 L202.04,238.92 L203.04,242.71 L204.04,246.49 L205.04,250.26 L206.04,253.99 L207.04,257.67 L208.05,261.31 L209.05,264.88 L210.05,268.37 L211.05,271.78 L212.05,275.09 L213.05,278.30 L214.05,281.39 L215.05,284.36 L216.05,287.20 L217.05,289.89 L218.05,292.44 L219.05,294.82 L220.05,297.05 L221.05,299.10 L222.05,300.98 L223.05,302.67 L224.05,304.18 L225.05,305.49 L226.05,306.61 L227.05,307.53 L228.05,308.25 L229.05,308.77 L230.05,309.07 L231.05,309.18 L232.05,309.08 L233.05,308.78 L234.05,308.29 L235.05,307.61 L236.05,306.73 L237.05,305.67 L238.06,304.42 L239.06,302.98 L240.06,301.38 L241.06,299.60 L242.06,297.65 L243.06,295.55 L244.06,293.29 L245.06,290.89 L246.06,288.35 L247.06,285.68 L248.06,282.90 L249.06,280.00 L250.06,277.00 L251.06,273.91 L252.06,270.74 L253.06,267.50 L254.06,264.20 L255.06,260.85 L256.06,257.46 L257.06,254.05 L258.06,250.61 L259.06,247.18 L260.06,243.75 L261.06,240.33 L262.06,236.95 L263.06,233.61 L264.06,230.32 L265.06,227.09 L266.06,223.93 L267.07,220.86 L268.07,217.87 L269.07,215.00 L270.07,212.23 L271.07,209.58 L272.07,207.07 L273.07,204.69 L274.07,202.46 L275.07,200.38 L276.07,198.47 L277.07,196.72 L278.07,195.14 L279.07,193.74 L280.07,192.52 L281.07,191.48 L282.07,190.64 L283.07,189.99 L284.07,189.53 L285.07,189.27 L286.07,189.20 L287.07,189.37 L288.07,189.76 L289.07,190.40 L290.07,191.28 L291.07,192.39 L292.07,193.73 L293.07,195.30 L294.07,197.10 L295.07,199.11 L296.07,201.35 L297.08,203.80 L298.08,206.45 L299.08,209.30 L300.08,212.35 L301.08,215.59 L302.08,219.00 L303.08,222.59 L304.08,226.34 L305.08,230.24 L306.08,234.30 L307.08,238.49 L308.08,242.80 L309.08,247.24 L310.08,251.78 L311.08,256.42 L312.08,261.15 L313.08,265.96 L314.08,270.83 L315.08,275.75 L316.08,280.72 L317.08,285.72 L318.08,290.74 L319.08,295.77 L320.08,300.80 L321.08,305.82 L322.08,310.81 L323.08,315.76 L324.08,320.67 L325.08,325.52 L326.08,330.30 L327.09,335.00 L328.09,339.61 L329.09,344.12 L330.09,348.51 L331.09,352.79 L332.09,356.93 L333.09,360.94 L334.09,364.79 L335.09,368.49 L336.09,372.01 L337.09,375.37 L338.09,378.54 L339.09,381.52 L340.09,384.31 L341.09,386.89 L342.09,389.27 L343.09,391.43 L344.09,393.37 L345.09,395.09 L346.09,396.59 L347.09,397.85 L348.09,398.88 L349.09,399.67 L350.09,400.23 L351.09,400.55 L352.09,400.63 L353.09,400.46 L354.09,400.05 L355.09,399.39 L356.09,398.48 L357.10,397.33 L358.10,395.94 L359.10,394.32 L360.10,392.46 L361.10,390.37 L362.10,388.05 L363.10,385.52 L364.10,382.76 L365.10,379.80 L366.10,376.64 L367.10,373.28 L368.10,369.73 L369.10,366.00 L370.10,362.10 L371.10,358.03 L372.10,353.81 L373.10,349.44 L374.10,344.93 L375.10,340.30 L376.10,335.54 L377.10,330.68 L378.10,325.73 L379.10,320.68 L380.10,315.57 L381.10,310.38 L382.10,305.15 L383.10,299.87 L384.10,294.56 L385.10,289.23 L386.10,283.89 L387.11,278.56 L388.11,273.25 L389.11,267.96 L390.11,262.71 L391.11,257.50 L392.11,252.36 L393.11,247.29 L394.11,242.31 L395.11,237.41 L396.11,232.62 L397.11,227.95 L398.11,223.40 L399.11,218.98 L400.11,214.71 L401.11,210.59 L402.11,206.63 L403.11,202.85 L404.11,199.24 L405.11,195.82 L406.11,192.59 L407.11,189.56 L408.11,186.74 L409.11,184.13 L410.11,181.74 L411.11,179.58 L412.11,177.64 L413.11,175.94 L414.11,174.47 L415.11,173.24 L416.11,172.26 L417.12,171.52 L418.12,171.02 L419.12,170.77 L420.12,170.77 L421.12,170.98 L422.12,171.39 L423.12,172.01 L424.12,172.83 L425.12,173.85 L426.12,175.07 L427.12,176.48 L428.12,178.08 L429.12,179.87 L430.12,181.84 L431.12,183.98 L432.12,186.29 L433.12,188.76 L434.12,191.38 L435.12,194.15 L436.12,197.05 L437.12,200.09 L438.12,203.25 L439.12,206.51 L440.12,209.88 L441.12,213.34 L442.12,216.88 L443.12,220.49 L444.12,224.16 L445.12,227.88 L446.12,231.64 L447.13,235.42 L448.13,239.22 L449.13,243.03 L450.13,246.83 L451.13,250.61 L452.13,254.36 L453.13,258.07 L454.13,261.73 L455.13,265.33 L456.13,268.86 L457.13,272.30 L458.13,275.65 L459.13,278.90 L460.13,282.04 L461.13,285.05 L462.13,287.94 L463.13,290.68 L464.13,293.28 L465.13,295.72 L466.13,298.00 L467.13,300.11 L468.13,302.05 L469.13,303.81 L470.13,305.38 L471.13,306.76 L472.13,307.94 L473.13,308.93 L474.13,309.71 L475.13,310.30 L476.13,310.67 L477.14,310.84 L478.14,310.81 L479.14,310.59 L480.14,310.17 L481.14,309.56 L482.14,308.76 L483.14,307.78 L484.14,306.61 L485.14,305.26 L486.14,303.74 L487.14,302.05 L488.14,300.19 L489.14,298.18 L490.14,296.01 L491.14,293.70 L492.14,291.25 L493.14,288.67 L494.14,285.97 L495.14,283.16 L496.14,280.24 L497.14,277.23 L498.14,274.14 L499.14,270.97 L500.14,267.74 L501.14,264.46 L502.14,261.13 L503.14,257.77 L504.14,254.39 L505.14,251.00 L506.14,247.61 L507.15,244.23 L508.15,240.87 L509.15,237.55 L510.15,234.28 L511.15,231.05 L512.15,227.90 L513.15,224.82 L514.15,221.82 L515.15,218.93 L516.15,216.13 L517.15,213.45 L518.15,210.89 L519.15,208.47 L520.15,206.18 L521.15,204.04 L522.15,202.05 L523.15,200.22 L524.15,198.56 L525.15,197.07 L526.15,195.75 L527.15,194.62 L528.15,193.66 L529.15,192.90 L530.15,192.32 L531.15,191.93 L532.15,191.74 L533.15,191.75 L534.15,191.98 L535.15,192.44 L536.15,193.14 L537.16,194.06 L538.16,195.21 L539.16,196.59 L540.16,198.18 L541.16,200.00 L542.16,202.02 L543.16,204.26 L544.16,206.70 L545.16,209.34 L546.16,212.17 L547.16,215.18 L548.16,218.37 L549.16,221.74 L550.16,225.27 L551.16,228.95 L552.16,232.78 L553.16,236.75 L554.16,240.85 L555.16,245.07 L556.16,249.40 L557.16,253.82 L558.16,258.34 L559.16,262.94 L560.16,267.61 L561.16,272.34 L562.16,277.11 L563.16,281.92 L564.16,286.76 L565.16,291.61 L566.16,296.47 L567.17,301.32 L568.17,306.15 L569.17,310.95 L570.17,315.71 L571.17,320.42 L572.17,325.06 L573.17,329.64 L574.17,334.13 L575.17,338.52 L576.17,342.82 L577.17,347.00 L578.17,351.05 L579.17,354.98 L580.17,358.76 L581.17,362.39 L582.17,365.87 L583.17,369.18 L584.17,372.31 L585.17,375.27 L586.17,378.03 L587.17,380.61 L588.17,382.98 L589.17,385.14 L590.17,387.10 L591.17,388.84 L592.17,390.37 L593.17,391.67 L594.17,392.74 L595.17,393.59 L596.17,394.21 L597.18,394.60 L598.18,394.75 L599.18,394.67 L600.18,394.36 L601.18,393.81 L602.18,393.02 L603.18,392.00 L604.18,390.75 L605.18,389.27 L606.18,387.56 L607.18,385.64 L608.18,383.49 L609.18,381.14 L610.18,378.57 L611.18,375.81 L612.18,372.84 L613.18,369.69 L614.18,366.36 L615.18,362.85 L616.18,359.17 L617.18,355.33 L618.18,351.34 L619.18,347.21 L620.18,342.94 L621.18,338.55 L622.18,334.04 L623.18,329.42 L624.18,324.71 L625.18,319.92 L626.18,315.05 L627.19,310.12 L628.19,305.13 L629.19,300.10 L630.19,295.03 L631.19,289.95 L632.19,284.86 L633.19,279.76 L634.19,274.68 L635.19,269.62 L636.19,264.60 L637.19,259.62 L638.19,254.69 L639.19,249.83 L640.19,245.05 L641.19,240.36 L642.19,235.76 L643.19,231.27 L644.19,226.90 L645.19,222.65 L646.19,218.54 L647.19,214.57 L648.19,210.76 L649.19,207.11 L650.19,203.63 L651.19,200.32 L652.19,197.20 L653.19,194.27 L654.19,191.53 L655.19,189.00 L656.19,186.68 L657.20,184.57 L658.20,182.68 L659.20,181.01 L660.20,179.57 L661.20,178.35 L662.20,177.37 L663.20,176.62 L664.20,176.11 L665.20,175.83 L666.20,175.79 L667.20,175.95 L668.20,176.31 L669.20,176.87 L670.20,177.62 L671.20,178.56 L672.20,179.69 L673.20,181.01 L674.20,182.50 L675.20,184.18 L676.20,186.03 L677.20,188.04 L678.20,190.22 L679.20,192.55 L680.20,195.03 L681.20,197.66 L682.20,200.41 L683.20,203.29 L684.20,206.29 L685.20,209.40 L686.20,212.61 L687.21,215.90 L688.21,219.28 L689.21,222.73 L690.21,226.24 L691.21,229.80 L692.21,233.40 L693.21,237.03 L694.21,240.68 L695.21,244.34 L696.21,248.00 L697.21,251.64 L698.21,255.27 L699.21,258.86 L700.21,262.40 L701.21,265.89 L702.21,269.32 L703.21,272.67 L704.21,275.94 L705.21,279.11 L706.21,282.19 L707.21,285.15 L708.21,287.99 L709.21,290.70 L710.21,293.28 L711.21,295.71 L712.21,297.99 L713.21,300.11 L714.21,302.08 L715.21,303.87 L716.21,305.48 L717.22,306.92 L718.22,308.18 L719.22,309.25 L720.22,310.12 L721.22,310.81 L722.22,311.30 L723.22,311.60 L724.22,311.69 L725.22,311.60 L726.22,311.33 L727.22,310.87 L728.22,310.24 L729.22,309.42 L730.22,308.44 L731.22,307.27 L732.22,305.94 L733.22,304.45 L734.22,302.80 L735.22,300.99 L736.22,299.03 L737.22,296.93 L738.22,294.70 L739.22,292.33 L740.22,289.85 L741.22,287.25 L742.22,284.55 L743.22,281.76 L744.22,278.87 L745.22,275.91 L746.22,272.88 L747.23,269.80 L748.23,266.66 L749.23,263.49 L750.23,260.28 L751.23,257.06 L752.23,253.83 L753.23,250.61 L754.23,247.39 L755.23,244.20 L756.23,241.05 L757.23,237.93 L758.23,234.88 L759.23,231.88 L760.23,228.96 L761.23,226.12 L762.23,223.37 L763.23,220.72 L764.23,218.18 L765.23,215.75 L766.23,213.45 L767.23,211.29 L768.23,209.26 L769.23,207.37 L770.23,205.64 L771.23,204.07 L772.23,202.65 L773.23,201.41 L774.23,200.33 L775.23,199.43 L776.23,198.71 L777.24,198.16 L778.24,197.80 L779.24,197.61 L780.24,197.62 L781.24,197.83 L782.24,198.26 L783.24,198.90 L784.24,199.75 L785.24,200.82 L786.24,202.08 L787.24,203.56 L788.24,205.23 L789.24,207.10 L790.24,209.16 L791.24,211.41 L792.24,213.84 L793.24,216.45 L794.24,219.23 L795.24,222.18 L796.24,225.28 L797.24,228.53 L798.24,231.92 L799.24,235.45 L800.24,239.11 L801.24,242.88 L802.24,246.77 L803.24,250.75 L804.24,254.83 L805.24,258.99 L806.24,263.22 L807.25,267.51 L808.25,271.86 L809.25,276.25 L810.25,280.67 L811.25,285.11 L812.25,289.57 L813.25,294.03 L814.25,298.47 L815.25,302.90 L816.25,307.30 L817.25,311.67 L818.25,315.98 L819.25,320.23 L820.25,324.41 L821.25,328.52 L822.25,332.53 L823.25,336.45 L824.25,340.26 L825.25,343.96 L826.25,347.53 L827.25,350.97 L828.25,354.27 L829.25,357.42 L830.25,360.42 L831.25,363.25 L832.25,365.92 L833.25,368.41 L834.25,370.72 L835.25,372.84 L836.25,374.78 L837.25,376.52 L838.26,378.06 L839.26,379.39 L840.26,380.52 L841.26,381.44 L842.26,382.15 L843.26,382.65 L844.26,382.94 L845.26,383.01 L846.26,382.86 L847.26,382.49 L848.26,381.90 L849.26,381.09 L850.26,380.07 L851.26,378.82 L852.26,377.37 L853.26,375.71 L854.26,373.84 L855.26,371.78 L856.26,369.51 L857.26,367.06 L858.26,364.41 L859.26,361.59 L860.26,358.59 L861.26,355.43 L862.26,352.10 L863.26,348.62 L864.26,345.00 L865.26,341.24 L866.26,337.35 L867.26,333.33 L868.27,329.21 L869.27,324.98 L870.27,320.66 L871.27,316.25 L872.27,311.77 L873.27,307.23 L874.27,302.63 L875.27,297.98 L876.27,293.30 L877.27,288.60 L878.27,283.88 L879.27,279.16 L880.27,274.45 L881.27,269.76 L882.27,265.09 L883.27,260.46 L884.27,255.87 L885.27,251.35 L886.27,246.89 L887.27,242.52 L888.27,238.22 L889.27,234.03 L890.27,229.94 L891.27,225.97 L892.27,222.12 L893.27,218.41 L894.27,214.83 L895.27,211.40 L896.27,208.13 L897.27,205.02 L898.28,202.09 L899.28,199.32 L900.28,196.74 L901.28,194.35 L902.28,192.16 L903.28,190.16 L904.28,188.36 L905.28,186.77 L906.28,185.39 L907.28,184.22 L908.28,183.27 L909.28,182.53 L910.28,182.02 L911.28,181.73 L912.28,181.65 L913.28,181.78 L914.28,182.08 L915.28,182.58 L916.28,183.25 L917.28,184.10 L918.28,185.13 L919.28,186.34 L920.28,187.71 L921.28,189.26 L922.28,190.96 L923.28,192.83 L924.28,194.84 L925.28,197.01 L926.28,199.32 L927.28,201.76 L928.29,204.32 L929.29,207.01 L930.29,209.82 L931.29,212.72 L932.29,215.73 L933.29,218.82 L934.29,221.99 L935.29,225.23 L936.29,228.54 L937.29,231.89 L938.29,235.29 L939.29,238.73 L940.29,242.18 L941.29,245.65 L942.29,249.13 L943.29,252.60 L944.29,256.05 L945.29,259.48 L946.29,262.87 L947.29,266.22 L948.29,269.51 L949.29,272.74 L950.29,275.90 L951.29,278.98 L952.29,281.97 L953.29,284.86 L954.29,287.64 L955.29,290.31 L956.29,292.86 L957.29,295.27 L958.30,297.56 L959.30,299.70 L960.30,301.69 L961.30,303.53 L962.30,305.20 L963.30,306.72 L964.30,308.07 L965.30,309.24 L966.30,310.24 L967.30,311.06 L968.30,311.71 L969.30,312.17 L970.30,312.44 L971.30,312.53 L972.30,312.45 L973.30,312.20 L974.30,311.77 L975.30,311.19 L976.30,310.43 L977.30,309.52 L978.30,308.45 L979.30,307.22 L980.30,305.83 L981.30,304.30 L982.30,302.63 L983.30,300.82 L984.30,298.87 L985.30,296.81 L986.30,294.62 L987.30,292.32 L988.31,289.91 L989.31,287.40 L990.31,284.81 L991.31,282.13 L992.31,279.38 L993.31,276.57 L994.31,273.70 L995.31,270.78 L996.31,267.83 L997.31,264.85 L998.31,261.85 L999.31,258.84 L1000.31,255.83 L1001.31,252.82 L1002.31,249.84 L1003.31,246.89 L1004.31,243.97 L1005.31,241.10 L1006.31,238.29 L1007.31,235.54 L1008.31,232.86 L1009.31,230.27 L1010.31,227.76 L1011.31,225.36 L1012.31,223.06 L1013.31,220.87 L1014.31,218.80 L1015.31,216.86 L1016.31,215.04 L1017.31,213.37 L1018.32,211.84 L1019.32,210.46 L1020.32,209.23 L1021.32,208.15 L1022.32,207.24 L1023.32,206.49 L1024.32,205.90 L1025.32,205.48 L1026.32,205.23 L1027.32,205.14 L1028.32,205.24 L1029.32,205.53 L1030.32,206.01 L1031.32,206.68 L1032.32,207.54 L1033.32,208.59 L1034.32,209.83 L1035.32,211.24 L1036.32,212.84 L1037.32,214.61 L1038.32,216.55 L1039.32,218.65 L1040.32,220.92 L1041.32,223.34 L1042.32,225.91 L1043.32,228.63 L1044.32,231.48 L1045.32,234.47 L1046.32,237.58 L1047.32,240.80 L1048.33,244.13 L1049.33,247.56 L1050.33,251.09 L1051.33,254.70 L1052.33,258.38 L1053.33,262.13 L1054.33,265.94 L1055.33,269.80 L1056.33,273.70 L1057.33,277.63 L1058.33,281.58 L1059.33,285.54 L1060.33,289.50 L1061.33,293.46 L1062.33,297.40 L1063.33,301.31 L1064.33,305.19 L1065.33,309.02 L1066.33,312.80 L1067.33,316.52 L1068.33,320.17 L1069.33,323.74 L1070.33,327.22 L1071.33,330.60 L1072.33,333.88 L1073.33,337.05 L1074.33,340.09 L1075.33,343.01 L1076.33,345.80 L1077.33,348.44 L1078.34,350.94 L1079.34,353.29 L1080.34,355.47 L1081.34,357.50 L1082.34,359.35 L1083.34,361.03 L1084.34,362.54 L1085.34,363.86 L1086.34,365.01 L1087.34,365.96 L1088.34,366.73 L1089.34,367.31 L1090.34,367.69 L1091.34,367.88 L1092.34,367.88 L1093.34,367.69 L1094.34,367.29 L1095.34,366.71 L1096.34,365.92 L1097.34,364.95 L1098.34,363.79 L1099.34,362.44 L1100.34,360.90 L1101.34,359.18 L1102.34,357.29 L1103.34,355.22 L1104.34,352.99 L1105.34,350.59 L1106.34,348.03 L1107.34,345.32 L1108.35,342.47 L1109.35,339.47 L1110.35,336.34 L1111.35,333.09 L1112.35,329.71 L1113.35,326.22 L1114.35,322.63 L1115.35,318.94 L1116.35,315.16 L1117.35,311.30 L1118.35,307.37 L1119.35,303.38 L1120.35,299.34 L1121.35,295.25 L1122.35,291.12 L1123.35,286.97 L1124.35,282.80 L1125.35,278.62 L1126.35,274.44 L1127.35,270.27 L1128.35,266.12 L1129.35,262.00 L1130.35,257.91 L1131.35,253.88 L1132.35,249.90 L1133.35,245.98 L1134.35,242.13 L1135.35,238.37 L1136.35,234.70 L1137.35,231.12 L1138.36,227.65 L1139.36,224.30 L1140.36,221.06 L1141.36,217.95 L1142.36,214.98 L1143.36,212.15 L1144.36,209.47 L1145.36,206.93 L1146.36,204.56 L1147.36,202.36 L1148.36,200.32 L1149.36,198.46 L1150.36,196.77 L1151.36,195.27 L1152.36,193.95 L1153.36,192.82 L1154.36,191.88 L1155.36,191.13 L1156.36,190.57 L1157.36,190.21 L1158.36,190.05 L1159.36,190.08 L1160.36,190.27 L1161.36,190.63 L1162.36,191.16 L1163.36,191.84 L1164.36,192.69 L1165.36,193.70 L1166.36,194.87 L1167.36,196.19 L1168.37,197.65 L1169.37,199.27 L1170.37,201.02 L1171.37,202.91 L1172.37,204.94 L1173.37,207.09 L1174.37,209.35 L1175.37,211.74 L1176.37,214.23 L1177.37,216.82 L1178.37,219.51 L1179.37,222.28 L1180.37,225.13 L1181.37,228.06 L1182.37,231.05 L1183.37,234.09 L1184.37,237.18 L1185.37,240.31 L1186.37,243.47 L1187.37,246.65 L1188.37,249.85 L1189.37,253.05 L1190.37,256.25 L1191.37,259.44 L1192.37,262.60 L1193.37,265.74 L1194.37,268.84 L1195.37,271.89 L1196.37,274.89 L1197.37,277.82 L1198.38,280.68 L1199.38,283.47 L1200.38,286.17 L1201.38,288.78 L1202.38,291.29 L1203.38,293.69 L1204.38,295.98 L1205.38,298.14 L1206.38,300.19 L1207.38,302.10 L1208.38,303.88 L1209.38,305.51 L1210.38,307.00 L1211.38,308.35 L1212.38,309.54 L1213.38,310.57 L1214.38,311.44 L1215.38,312.16 L1216.38,312.71 L1217.38,313.09 L1218.38,313.32 L1219.38,313.37 L1220.38,313.27 L1221.38,313.02 L1222.38,312.62 L1223.38,312.08 L1224.38,311.39 L1225.38,310.55 L1226.38,309.58 L1227.38,308.47 L1228.39,307.22 L1229.39,305.84 L1230.39,304.34 L1231.39,302.71 L1232.39,300.97 L1233.39,299.11 L1234.39,297.15 L1235.39,295.10 L1236.39,292.94 L1237.39,290.70 L1238.39,288.38 L1239.39,285.99 L1240.39,283.53 L1241.39,281.02 L1242.39,278.45 L1243.39,275.85 L1244.39,273.20 L1245.39,270.54 L1246.39,267.85 L1247.39,265.15 L1248.39,262.46 L1249.39,259.77 L1250.39,257.09 L1251.39,254.44 L1252.39,251.82 L1253.39,249.24 L1254.39,246.71 L1255.39,244.23 L1256.39,241.82 L1257.39,239.47 L1258.40,237.21 L1259.40,235.02 L1260.40,232.93 L1261.40,230.94 L1262.40,229.05 L1263.40,227.27 L1264.40,225.61 L1265.40,224.06 L1266.40,222.64 L1267.40,221.35 L1268.40,220.19 L1269.40,219.17 L1270.40,218.29 L1271.40,217.55 L1272.40,216.96 L1273.40,216.52 L1274.40,216.22 L1275.40,216.07 L1276.40,216.07 L1277.40,216.23 L1278.40,216.56 L1279.40,217.05 L1280.40,217.70 L1281.40,218.50 L1282.40,219.47 L1283.40,220.59 L1284.40,221.86 L1285.40,223.28 L1286.40,224.85 L1287.40,226.56 L1288.41,228.40 L1289.41,230.38 L1290.41,232.49 L1291.41,234.72 L1292.41,237.07 L1293.41,239.53 L1294.41,242.09 L1295.41,244.76 L1296.41,247.51 L1297.41,250.36 L1298.41,253.28 L1299.41,256.28 L1300.41,259.34 L1301.41,262.45 L1302.41,265.62 L1303.41,268.83 L1304.41,272.07 L1305.41,275.34 L1306.41,278.63 L1307.41,281.93 L1308.41,285.23 L1309.41,288.52 L1310.41,291.80 L1311.41,295.06 L1312.41,298.28 L1313.41,301.47 L1314.41,304.61 L1315.41,307.70 L1316.41,310.73 L1317.41,313.69 L1318.42,316.58 L1319.42,319.38 L1320.42,322.09 L1321.42,324.71 L1322.42,327.22 L1323.42,329.62 L1324.42,331.91 L1325.42,334.08 L1326.42,336.12 L1327.42,338.04 L1328.42,339.82 L1329.42,341.45 L1330.42,342.95 L1331.42,344.29 L1332.42,345.49 L1333.42,346.53 L1334.42,347.42 L1335.42,348.15 L1336.42,348.72 L1337.42,349.12 L1338.42,349.37 L1339.42,349.45 L1340.42,349.37 L1341.42,349.11 L1342.42,348.69 L1343.42,348.10 L1344.42,347.34 L1345.42,346.42 L1346.42,345.34 L1347.42,344.09 L1348.43,342.69 L1349.43,341.14 L1350.43,339.43 L1351.43,337.58 L1352.43,335.58 L1353.43,333.45 L1354.43,331.18 L1355.43,328.78 L1356.43,326.27 L1357.43,323.63 L1358.43,320.88 L1359.43,318.03 L1360.43,315.08 L1361.43,312.03 L1362.43,308.90 L1363.43,305.70 L1364.43,302.42 L1365.43,299.07 L1366.43,295.67 L1367.43,292.23 L1368.43,288.74 L1369.43,285.21 L1370.43,281.67 L1371.43,278.10 L1372.43,274.53 L1373.43,270.95 L1374.43,267.38 L1375.43,263.83 L1376.43,260.30 L1377.43,256.80 L1378.44,253.33 L1379.44,249.92 L1380.44,246.56 L1381.44,243.25 L1382.44,240.02 L1383.44,236.87 L1384.44,233.79 L1385.44,230.81 L1386.44,227.92 L1387.44,225.14 L1388.44,222.47 L1389.44,219.91 L1390.44,217.47 L1391.44,215.16 L1392.44,212.98 L1393.44,210.94 L1394.44,209.04 L1395.44,207.29 L1396.44,205.68 L1397.44,204.23 L1398.44,202.93 L1399.44,201.80 L1400.44,200.82 L1401.44,200.01 L1402.44,199.37 L1403.44,198.89 L1404.44,198.58 L1405.44,198.44 L1406.44,198.46 L1407.44,198.64 L1408.45,198.96 L1409.45,199.42 L1410.45,200.04 L1411.45,200.79 L1412.45,201.69 L1413.45,202.73 L1414.45,203.91 L1415.45,205.22 L1416.45,206.66 L1417.45,208.23 L1418.45,209.92 L1419.45,211.73 L1420.45,213.65 L1421.45,215.69 L1422.45,217.83 L1423.45,220.06 L1424.45,222.39 L1425.45,224.81 L1426.45,227.31 L1427.45,229.88 L1428.45,232.52 L1429.45,235.22 L1430.45,237.98 L1431.45,240.79 L1432.45,243.63 L1433.45,246.51 L1434.45,249.42 L1435.45,252.34 L1436.45,255.27 L1437.45,258.21 L1438.46,261.15 L1439.46,264.07 L1440.46,266.97 L1441.46,269.85 L1442.46,272.70 L1443.46,275.50 L1444.46,278.26 L1445.46,280.96 L1446.46,283.60 L1447.46,286.18 L1448.46,288.68 L1449.46,291.09 L1450.46,293.42 L1451.46,295.66 L1452.46,297.80 L1453.46,299.83 L1454.46,301.75 L1455.46,303.56 L1456.46,305.26 L1457.46,306.82 L1458.46,308.26 L1459.46,309.57 L1460.46,310.75 L1461.46,311.79 L1462.46,312.69 L1463.46,313.44 L1464.46,314.06 L1465.46,314.52 L1466.46,314.84 L1467.46,315.02 L1468.47,315.04 L1469.47,314.94 L1470.47,314.70 L1471.47,314.33 L1472.47,313.84 L1473.47,313.22 L1474.47,312.47 L1475.47,311.60 L1476.47,310.62 L1477.47,309.51 L1478.47,308.29 L1479.47,306.97 L1480.47,305.53 L1481.47,304.00 L1482.47,302.36 L1483.47,300.64 L1484.47,298.82 L1485.47,296.93 L1486.47,294.96 L1487.47,292.92 L1488.47,290.81 L1489.47,288.64 L1490.47,286.43 L1491.47,284.16 L1492.47,281.86 L1493.47,279.53 L1494.47,277.17 L1495.47,274.79 L1496.47,272.40 L1497.47,270.01 L1498.48,267.62 L1499.48,265.24 L1500.48,262.88 L1501.48,260.54 L1502.48,258.23 L1503.48,255.96 L1504.48,253.73 L1505.48,251.56 L1506.48,249.44 L1507.48,247.39 L1508.48,245.40 L1509.48,243.50 L1510.48,241.67 L1511.48,239.93 L1512.48,238.28 L1513.48,236.73 L1514.48,235.27 L1515.48,233.93 L1516.48,232.69 L1517.48,231.57 L1518.48,230.56 L1519.48,229.67 L1520.48,228.91 L1521.48,228.27 L1522.48,227.75 L1523.48,227.36 L1524.48,227.10 L1525.48,226.97 L1526.48,226.97 L1527.48,227.11 L1528.49,227.37 L1529.49,227.77 L1530.49,228.30 L1531.49,228.96 L1532.49,229.75 L1533.49,230.66 L1534.49,231.69 L1535.49,232.85 L1536.49,234.13 L1537.49,235.52 L1538.49,237.02 L1539.49,238.63 L1540.49,240.34 L1541.49,242.15 L1542.49,244.05 L1543.49,246.05 L1544.49,248.12 L1545.49,250.28 L1546.49,252.51 L1547.49,254.80 L1548.49,257.16 L1549.49,259.57 L1550.49,262.03 L1551.49,264.54 L1552.49,267.08 L1553.49,269.65 L1554.49,272.24 L1555.49,274.85 L1556.49,277.47 L1557.49,280.09 L1558.50,282.71 L1559.50,285.31 L1560.50,287.90 L1561.50,290.47 L1562.50,293.00 L1563.50,295.50 L1564.50,297.95 L1565.50,300.36 L1566.50,302.70 L1567.50,304.99 L1568.50,307.20 L1569.50,309.35 L1570.50,311.41 L1571.50,313.39 L1572.50,315.28 L1573.50,317.07 L1574.50,318.76 L1575.50,320.35 L1576.50,321.84 L1577.50,323.21 L1578.50,324.46 L1579.50,325.60 L1580.50,326.62 L1581.50,327.51 L1582.50,328.27 L1583.50,328.91 L1584.50,329.42 L1585.50,329.79 L1586.50,330.04 L1587.50,330.15 L1588.51,330.12 L1589.51,329.96 L1590.51,329.65 L1591.51,329.21 L1592.51,328.63 L1593.51,327.91 L1594.51,327.06 L1595.51,326.07 L1596.51,324.95 L1597.51,323.70 L1598.51,322.33 L1599.51,320.84 L1600.51,319.22 L1601.51,317.49 L1602.51,315.65 L1603.51,313.70 L1604.51,311.65 L1605.51,309.50 L1606.51,307.26 L1607.51,304.93 L1608.51,302.51 L1609.51,300.02 L1610.51,297.46 L1611.51,294.83 L1612.51,292.14 L1613.51,289.39 L1614.51,286.60 L1615.51,283.77 L1616.51,280.90 L1617.51,278.01 L1618.52,275.09 L1619.52,272.16 L1620.52,269.22 L1621.52,266.28 L1622.52,263.34 L1623.52,260.42 L1624.52,257.51 L1625.52,254.63 L1626.52,251.78 L1627.52,248.96 L1628.52,246.20 L1629.52,243.48 L1630.52,240.82 L1631.52,238.22 L1632.52,235.69 L1633.52,233.24 L1634.52,230.87 L1635.52,228.58 L1636.52,226.38 L1637.52,224.28 L1638.52,222.28 L1639.52,220.39 L1640.52,218.60 L1641.52,216.93 L1642.52,215.37 L1643.52,213.94 L1644.52,212.63 L1645.52,211.45 L1646.52,210.39 L1647.52,209.47 L1648.53,208.69 L1649.53,208.04 L1650.53,207.52 L1651.53,207.15 L1652.53,206.92 L1653.53,206.82 L1654.53,206.87 L1655.53,207.04 L1656.53,207.35 L1657.53,207.79 L1658.53,208.35 L1659.53,209.05 L1660.53,209.87 L1661.53,210.82 L1662.53,211.89 L1663.53,213.08 L1664.53,214.39 L1665.53,215.81 L1666.53,217.34 L1667.53,218.98 L1668.53,220.72 L1669.53,222.57 L1670.53,224.50 L1671.53,226.53 L1672.53,228.64 L1673.53,230.84 L1674.53,233.11 L1675.53,235.45 L1676.53,237.85 L1677.53,240.32 L1678.54,242.84 L1679.54,245.40 L1680.54,248.01 L1681.54,250.65 L1682.54,253.32 L1683.54,256.01 L1684.54,258.72 L1685.54,261.44 L1686.54,264.17 L1687.54,266.89 L1688.54,269.60 L1689.54,272.29 L1690.54,274.97 L1691.54,277.62 L1692.54,280.23 L1693.54,282.80 L1694.54,285.33 L1695.54,287.80 L1696.54,290.22 L1697.54,292.57 L1698.54,294.85 L1699.54,297.06 L1700.54,299.18 L1701.54,301.23 L1702.54,303.18 L1703.54,305.04 L1704.54,306.80 L1705.54,308.46 L1706.54,310.01 L1707.54,311.45 L1708.55,312.77 L1709.55,313.98 L1710.55,315.08 L1711.55,316.04 L1712.55,316.89 L1713.55,317.60 L1714.55,318.19 L1715.55,318.65 L1716.55,318.98 L1717.55,319.18 L1718.55,319.25 L1719.55,319.21 L1720.55,319.10 L1721.55,318.92 L1722.55,318.68 L1723.55,318.36 L1724.55,317.97 L1725.55,317.51 L1726.55,316.98 L1727.55,316.39 L1728.55,315.73 L1729.55,315.00 L1730.55,314.21 L1731.55,313.36 L1732.55,312.45 L1733.55,311.47 L1734.55,310.44 L1735.55,309.36 L1736.55,308.22 L1737.55,307.02 L1738.56,305.78 L1739.56,304.49 L1740.56,303.16 L1741.56,301.78 L1742.56,300.36 L1743.56,298.90 L1744.56,297.41 L1745.56,295.88 L1746.56,294.32 L1747.56,292.74 L1748.56,291.13 L1749.56,289.50 L1750.56,287.85 L1751.56,286.18 L1752.56,284.50 L1753.56,282.81 L1754.56,281.11 L1755.56,279.41 L1756.00,278.66 L1756.00,407 L72.00,407 Z" fill="url(#fg)"/><path d="M72.00,290.62 L73.00,295.79 L74.00,300.96 L75.00,306.11 L76.00,311.24 L77.00,316.32 L78.00,321.36 L79.00,326.34 L80.00,331.24 L81.00,336.05 L82.00,340.78 L83.00,345.39 L84.00,349.89 L85.00,354.26 L86.00,358.49 L87.00,362.58 L88.01,366.51 L89.01,370.27 L90.01,373.86 L91.01,377.27 L92.01,380.49 L93.01,383.51 L94.01,386.32 L95.01,388.92 L96.01,391.31 L97.01,393.47 L98.01,395.41 L99.01,397.11 L100.01,398.58 L101.01,399.81 L102.01,400.79 L103.01,401.53 L104.01,402.03 L105.01,402.28 L106.01,402.28 L107.01,402.03 L108.01,401.53 L109.01,400.78 L110.01,399.79 L111.01,398.56 L112.01,397.08 L113.01,395.37 L114.01,393.42 L115.01,391.24 L116.01,388.83 L117.02,386.21 L118.02,383.37 L119.02,380.32 L120.02,377.07 L121.02,373.63 L122.02,369.99 L123.02,366.18 L124.02,362.19 L125.02,358.05 L126.02,353.74 L127.02,349.30 L128.02,344.72 L129.02,340.01 L130.02,335.18 L131.02,330.25 L132.02,325.23 L133.02,320.12 L134.02,314.94 L135.02,309.70 L136.02,304.40 L137.02,299.07 L138.02,293.71 L139.02,288.34 L140.02,282.95 L141.02,277.58 L142.02,272.22 L143.02,266.90 L144.02,261.61 L145.02,256.38 L146.02,251.21 L147.02,246.11 L148.03,241.11 L149.03,236.19 L150.03,231.39 L151.03,226.70 L152.03,222.14 L153.03,217.72 L154.03,213.44 L155.03,209.32 L156.03,205.37 L157.03,201.58 L158.03,197.98 L159.03,194.57 L160.03,191.35 L161.03,188.34 L162.03,185.54 L163.03,182.95 L164.03,180.58 L165.03,178.44 L166.03,176.54 L167.03,174.86 L168.03,173.43 L169.03,172.23 L170.03,171.28 L171.03,170.58 L172.03,170.12 L173.03,169.92 L174.03,169.95 L175.03,170.19 L176.03,170.64 L177.03,171.29 L178.04,172.15 L179.04,173.20 L180.04,174.45 L181.04,175.90 L182.04,177.53 L183.04,179.35 L184.04,181.34 L185.04,183.51 L186.04,185.84 L187.04,188.34 L188.04,190.98 L189.04,193.77 L190.04,196.70 L191.04,199.75 L192.04,202.92 L193.04,206.20 L194.04,209.58 L195.04,213.05 L196.04,216.59 L197.04,220.21 L198.04,223.88 L199.04,227.60 L200.04,231.35 L201.04,235.13 L202.04,238.92 L203.04,242.71 L204.04,246.49 L205.04,250.26 L206.04,253.99 L207.04,257.67 L208.05,261.31 L209.05,264.88 L210.05,268.37 L211.05,271.78 L212.05,275.09 L213.05,278.30 L214.05,281.39 L215.05,284.36 L216.05,287.20 L217.05,289.89 L218.05,292.44 L219.05,294.82 L220.05,297.05 L221.05,299.10 L222.05,300.98 L223.05,302.67 L224.05,304.18 L225.05,305.49 L226.05,306.61 L227.05,307.53 L228.05,308.25 L229.05,308.77 L230.05,309.07 L231.05,309.18 L232.05,309.08 L233.05,308.78 L234.05,308.29 L235.05,307.61 L236.05,306.73 L237.05,305.67 L238.06,304.42 L239.06,302.98 L240.06,301.38 L241.06,299.60 L242.06,297.65 L243.06,295.55 L244.06,293.29 L245.06,290.89 L246.06,288.35 L247.06,285.68 L248.06,282.90 L249.06,280.00 L250.06,277.00 L251.06,273.91 L252.06,270.74 L253.06,267.50 L254.06,264.20 L255.06,260.85 L256.06,257.46 L257.06,254.05 L258.06,250.61 L259.06,247.18 L260.06,243.75 L261.06,240.33 L262.06,236.95 L263.06,233.61 L264.06,230.32 L265.06,227.09 L266.06,223.93 L267.07,220.86 L268.07,217.87 L269.07,215.00 L270.07,212.23 L271.07,209.58 L272.07,207.07 L273.07,204.69 L274.07,202.46 L275.07,200.38 L276.07,198.47 L277.07,196.72 L278.07,195.14 L279.07,193.74 L280.07,192.52 L281.07,191.48 L282.07,190.64 L283.07,189.99 L284.07,189.53 L285.07,189.27 L286.07,189.20 L287.07,189.37 L288.07,189.76 L289.07,190.40 L290.07,191.28 L291.07,192.39 L292.07,193.73 L293.07,195.30 L294.07,197.10 L295.07,199.11 L296.07,201.35 L297.08,203.80 L298.08,206.45 L299.08,209.30 L300.08,212.35 L301.08,215.59 L302.08,219.00 L303.08,222.59 L304.08,226.34 L305.08,230.24 L306.08,234.30 L307.08,238.49 L308.08,242.80 L309.08,247.24 L310.08,251.78 L311.08,256.42 L312.08,261.15 L313.08,265.96 L314.08,270.83 L315.08,275.75 L316.08,280.72 L317.08,285.72 L318.08,290.74 L319.08,295.77 L320.08,300.80 L321.08,305.82 L322.08,310.81 L323.08,315.76 L324.08,320.67 L325.08,325.52 L326.08,330.30 L327.09,335.00 L328.09,339.61 L329.09,344.12 L330.09,348.51 L331.09,352.79 L332.09,356.93 L333.09,360.94 L334.09,364.79 L335.09,368.49 L336.09,372.01 L337.09,375.37 L338.09,378.54 L339.09,381.52 L340.09,384.31 L341.09,386.89 L342.09,389.27 L343.09,391.43 L344.09,393.37 L345.09,395.09 L346.09,396.59 L347.09,397.85 L348.09,398.88 L349.09,399.67 L350.09,400.23 L351.09,400.55 L352.09,400.63 L353.09,400.46 L354.09,400.05 L355.09,399.39 L356.09,398.48 L357.10,397.33 L358.10,395.94 L359.10,394.32 L360.10,392.46 L361.10,390.37 L362.10,388.05 L363.10,385.52 L364.10,382.76 L365.10,379.80 L366.10,376.64 L367.10,373.28 L368.10,369.73 L369.10,366.00 L370.10,362.10 L371.10,358.03 L372.10,353.81 L373.10,349.44 L374.10,344.93 L375.10,340.30 L376.10,335.54 L377.10,330.68 L378.10,325.73 L379.10,320.68 L380.10,315.57 L381.10,310.38 L382.10,305.15 L383.10,299.87 L384.10,294.56 L385.10,289.23 L386.10,283.89 L387.11,278.56 L388.11,273.25 L389.11,267.96 L390.11,262.71 L391.11,257.50 L392.11,252.36 L393.11,247.29 L394.11,242.31 L395.11,237.41 L396.11,232.62 L397.11,227.95 L398.11,223.40 L399.11,218.98 L400.11,214.71 L401.11,210.59 L402.11,206.63 L403.11,202.85 L404.11,199.24 L405.11,195.82 L406.11,192.59 L407.11,189.56 L408.11,186.74 L409.11,184.13 L410.11,181.74 L411.11,179.58 L412.11,177.64 L413.11,175.94 L414.11,174.47 L415.11,173.24 L416.11,172.26 L417.12,171.52 L418.12,171.02 L419.12,170.77 L420.12,170.77 L421.12,170.98 L422.12,171.39 L423.12,172.01 L424.12,172.83 L425.12,173.85 L426.12,175.07 L427.12,176.48 L428.12,178.08 L429.12,179.87 L430.12,181.84 L431.12,183.98 L432.12,186.29 L433.12,188.76 L434.12,191.38 L435.12,194.15 L436.12,197.05 L437.12,200.09 L438.12,203.25 L439.12,206.51 L440.12,209.88 L441.12,213.34 L442.12,216.88 L443.12,220.49 L444.12,224.16 L445.12,227.88 L446.12,231.64 L447.13,235.42 L448.13,239.22 L449.13,243.03 L450.13,246.83 L451.13,250.61 L452.13,254.36 L453.13,258.07 L454.13,261.73 L455.13,265.33 L456.13,268.86 L457.13,272.30 L458.13,275.65 L459.13,278.90 L460.13,282.04 L461.13,285.05 L462.13,287.94 L463.13,290.68 L464.13,293.28 L465.13,295.72 L466.13,298.00 L467.13,300.11 L468.13,302.05 L469.13,303.81 L470.13,305.38 L471.13,306.76 L472.13,307.94 L473.13,308.93 L474.13,309.71 L475.13,310.30 L476.13,310.67 L477.14,310.84 L478.14,310.81 L479.14,310.59 L480.14,310.17 L481.14,309.56 L482.14,308.76 L483.14,307.78 L484.14,306.61 L485.14,305.26 L486.14,303.74 L487.14,302.05 L488.14,300.19 L489.14,298.18 L490.14,296.01 L491.14,293.70 L492.14,291.25 L493.14,288.67 L494.14,285.97 L495.14,283.16 L496.14,280.24 L497.14,277.23 L498.14,274.14 L499.14,270.97 L500.14,267.74 L501.14,264.46 L502.14,261.13 L503.14,257.77 L504.14,254.39 L505.14,251.00 L506.14,247.61 L507.15,244.23 L508.15,240.87 L509.15,237.55 L510.15,234.28 L511.15,231.05 L512.15,227.90 L513.15,224.82 L514.15,221.82 L515.15,218.93 L516.15,216.13 L517.15,213.45 L518.15,210.89 L519.15,208.47 L520.15,206.18 L521.15,204.04 L522.15,202.05 L523.15,200.22 L524.15,198.56 L525.15,197.07 L526.15,195.75 L527.15,194.62 L528.15,193.66 L529.15,192.90 L530.15,192.32 L531.15,191.93 L532.15,191.74 L533.15,191.75 L534.15,191.98 L535.15,192.44 L536.15,193.14 L537.16,194.06 L538.16,195.21 L539.16,196.59 L540.16,198.18 L541.16,200.00 L542.16,202.02 L543.16,204.26 L544.16,206.70 L545.16,209.34 L546.16,212.17 L547.16,215.18 L548.16,218.37 L549.16,221.74 L550.16,225.27 L551.16,228.95 L552.16,232.78 L553.16,236.75 L554.16,240.85 L555.16,245.07 L556.16,249.40 L557.16,253.82 L558.16,258.34 L559.16,262.94 L560.16,267.61 L561.16,272.34 L562.16,277.11 L563.16,281.92 L564.16,286.76 L565.16,291.61 L566.16,296.47 L567.17,301.32 L568.17,306.15 L569.17,310.95 L570.17,315.71 L571.17,320.42 L572.17,325.06 L573.17,329.64 L574.17,334.13 L575.17,338.52 L576.17,342.82 L577.17,347.00 L578.17,351.05 L579.17,354.98 L580.17,358.76 L581.17,362.39 L582.17,365.87 L583.17,369.18 L584.17,372.31 L585.17,375.27 L586.17,378.03 L587.17,380.61 L588.17,382.98 L589.17,385.14 L590.17,387.10 L591.17,388.84 L592.17,390.37 L593.17,391.67 L594.17,392.74 L595.17,393.59 L596.17,394.21 L597.18,394.60 L598.18,394.75 L599.18,394.67 L600.18,394.36 L601.18,393.81 L602.18,393.02 L603.18,392.00 L604.18,390.75 L605.18,389.27 L606.18,387.56 L607.18,385.64 L608.18,383.49 L609.18,381.14 L610.18,378.57 L611.18,375.81 L612.18,372.84 L613.18,369.69 L614.18,366.36 L615.18,362.85 L616.18,359.17 L617.18,355.33 L618.18,351.34 L619.18,347.21 L620.18,342.94 L621.18,338.55 L622.18,334.04 L623.18,329.42 L624.18,324.71 L625.18,319.92 L626.18,315.05 L627.19,310.12 L628.19,305.13 L629.19,300.10 L630.19,295.03 L631.19,289.95 L632.19,284.86 L633.19,279.76 L634.19,274.68 L635.19,269.62 L636.19,264.60 L637.19,259.62 L638.19,254.69 L639.19,249.83 L640.19,245.05 L641.19,240.36 L642.19,235.76 L643.19,231.27 L644.19,226.90 L645.19,222.65 L646.19,218.54 L647.19,214.57 L648.19,210.76 L649.19,207.11 L650.19,203.63 L651.19,200.32 L652.19,197.20 L653.19,194.27 L654.19,191.53 L655.19,189.00 L656.19,186.68 L657.20,184.57 L658.20,182.68 L659.20,181.01 L660.20,179.57 L661.20,178.35 L662.20,177.37 L663.20,176.62 L664.20,176.11 L665.20,175.83 L666.20,175.79 L667.20,175.95 L668.20,176.31 L669.20,176.87 L670.20,177.62 L671.20,178.56 L672.20,179.69 L673.20,181.01 L674.20,182.50 L675.20,184.18 L676.20,186.03 L677.20,188.04 L678.20,190.22 L679.20,192.55 L680.20,195.03 L681.20,197.66 L682.20,200.41 L683.20,203.29 L684.20,206.29 L685.20,209.40 L686.20,212.61 L687.21,215.90 L688.21,219.28 L689.21,222.73 L690.21,226.24 L691.21,229.80 L692.21,233.40 L693.21,237.03 L694.21,240.68 L695.21,244.34 L696.21,248.00 L697.21,251.64 L698.21,255.27 L699.21,258.86 L700.21,262.40 L701.21,265.89 L702.21,269.32 L703.21,272.67 L704.21,275.94 L705.21,279.11 L706.21,282.19 L707.21,285.15 L708.21,287.99 L709.21,290.70 L710.21,293.28 L711.21,295.71 L712.21,297.99 L713.21,300.11 L714.21,302.08 L715.21,303.87 L716.21,305.48 L717.22,306.92 L718.22,308.18 L719.22,309.25 L720.22,310.12 L721.22,310.81 L722.22,311.30 L723.22,311.60 L724.22,311.69 L725.22,311.60 L726.22,311.33 L727.22,310.87 L728.22,310.24 L729.22,309.42 L730.22,308.44 L731.22,307.27 L732.22,305.94 L733.22,304.45 L734.22,302.80 L735.22,300.99 L736.22,299.03 L737.22,296.93 L738.22,294.70 L739.22,292.33 L740.22,289.85 L741.22,287.25 L742.22,284.55 L743.22,281.76 L744.22,278.87 L745.22,275.91 L746.22,272.88 L747.23,269.80 L748.23,266.66 L749.23,263.49 L750.23,260.28 L751.23,257.06 L752.23,253.83 L753.23,250.61 L754.23,247.39 L755.23,244.20 L756.23,241.05 L757.23,237.93 L758.23,234.88 L759.23,231.88 L760.23,228.96 L761.23,226.12 L762.23,223.37 L763.23,220.72 L764.23,218.18 L765.23,215.75 L766.23,213.45 L767.23,211.29 L768.23,209.26 L769.23,207.37 L770.23,205.64 L771.23,204.07 L772.23,202.65 L773.23,201.41 L774.23,200.33 L775.23,199.43 L776.23,198.71 L777.24,198.16 L778.24,197.80 L779.24,197.61 L780.24,197.62 L781.24,197.83 L782.24,198.26 L783.24,198.90 L784.24,199.75 L785.24,200.82 L786.24,202.08 L787.24,203.56 L788.24,205.23 L789.24,207.10 L790.24,209.16 L791.24,211.41 L792.24,213.84 L793.24,216.45 L794.24,219.23 L795.24,222.18 L796.24,225.28 L797.24,228.53 L798.24,231.92 L799.24,235.45 L800.24,239.11 L801.24,242.88 L802.24,246.77 L803.24,250.75 L804.24,254.83 L805.24,258.99 L806.24,263.22 L807.25,267.51 L808.25,271.86 L809.25,276.25 L810.25,280.67 L811.25,285.11 L812.25,289.57 L813.25,294.03 L814.25,298.47 L815.25,302.90 L816.25,307.30 L817.25,311.67 L818.25,315.98 L819.25,320.23 L820.25,324.41 L821.25,328.52 L822.25,332.53 L823.25,336.45 L824.25,340.26 L825.25,343.96 L826.25,347.53 L827.25,350.97 L828.25,354.27 L829.25,357.42 L830.25,360.42 L831.25,363.25 L832.25,365.92 L833.25,368.41 L834.25,370.72 L835.25,372.84 L836.25,374.78 L837.25,376.52 L838.26,378.06 L839.26,379.39 L840.26,380.52 L841.26,381.44 L842.26,382.15 L843.26,382.65 L844.26,382.94 L845.26,383.01 L846.26,382.86 L847.26,382.49 L848.26,381.90 L849.26,381.09 L850.26,380.07 L851.26,378.82 L852.26,377.37 L853.26,375.71 L854.26,373.84 L855.26,371.78 L856.26,369.51 L857.26,367.06 L858.26,364.41 L859.26,361.59 L860.26,358.59 L861.26,355.43 L862.26,352.10 L863.26,348.62 L864.26,345.00 L865.26,341.24 L866.26,337.35 L867.26,333.33 L868.27,329.21 L869.27,324.98 L870.27,320.66 L871.27,316.25 L872.27,311.77 L873.27,307.23 L874.27,302.63 L875.27,297.98 L876.27,293.30 L877.27,288.60 L878.27,283.88 L879.27,279.16 L880.27,274.45 L881.27,269.76 L882.27,265.09 L883.27,260.46 L884.27,255.87 L885.27,251.35 L886.27,246.89 L887.27,242.52 L888.27,238.22 L889.27,234.03 L890.27,229.94 L891.27,225.97 L892.27,222.12 L893.27,218.41 L894.27,214.83 L895.27,211.40 L896.27,208.13 L897.27,205.02 L898.28,202.09 L899.28,199.32 L900.28,196.74 L901.28,194.35 L902.28,192.16 L903.28,190.16 L904.28,188.36 L905.28,186.77 L906.28,185.39 L907.28,184.22 L908.28,183.27 L909.28,182.53 L910.28,182.02 L911.28,181.73 L912.28,181.65 L913.28,181.78 L914.28,182.08 L915.28,182.58 L916.28,183.25 L917.28,184.10 L918.28,185.13 L919.28,186.34 L920.28,187.71 L921.28,189.26 L922.28,190.96 L923.28,192.83 L924.28,194.84 L925.28,197.01 L926.28,199.32 L927.28,201.76 L928.29,204.32 L929.29,207.01 L930.29,209.82 L931.29,212.72 L932.29,215.73 L933.29,218.82 L934.29,221.99 L935.29,225.23 L936.29,228.54 L937.29,231.89 L938.29,235.29 L939.29,238.73 L940.29,242.18 L941.29,245.65 L942.29,249.13 L943.29,252.60 L944.29,256.05 L945.29,259.48 L946.29,262.87 L947.29,266.22 L948.29,269.51 L949.29,272.74 L950.29,275.90 L951.29,278.98 L952.29,281.97 L953.29,284.86 L954.29,287.64 L955.29,290.31 L956.29,292.86 L957.29,295.27 L958.30,297.56 L959.30,299.70 L960.30,301.69 L961.30,303.53 L962.30,305.20 L963.30,306.72 L964.30,308.07 L965.30,309.24 L966.30,310.24 L967.30,311.06 L968.30,311.71 L969.30,312.17 L970.30,312.44 L971.30,312.53 L972.30,312.45 L973.30,312.20 L974.30,311.77 L975.30,311.19 L976.30,310.43 L977.30,309.52 L978.30,308.45 L979.30,307.22 L980.30,305.83 L981.30,304.30 L982.30,302.63 L983.30,300.82 L984.30,298.87 L985.30,296.81 L986.30,294.62 L987.30,292.32 L988.31,289.91 L989.31,287.40 L990.31,284.81 L991.31,282.13 L992.31,279.38 L993.31,276.57 L994.31,273.70 L995.31,270.78 L996.31,267.83 L997.31,264.85 L998.31,261.85 L999.31,258.84 L1000.31,255.83 L1001.31,252.82 L1002.31,249.84 L1003.31,246.89 L1004.31,243.97 L1005.31,241.10 L1006.31,238.29 L1007.31,235.54 L1008.31,232.86 L1009.31,230.27 L1010.31,227.76 L1011.31,225.36 L1012.31,223.06 L1013.31,220.87 L1014.31,218.80 L1015.31,216.86 L1016.31,215.04 L1017.31,213.37 L1018.32,211.84 L1019.32,210.46 L1020.32,209.23 L1021.32,208.15 L1022.32,207.24 L1023.32,206.49 L1024.32,205.90 L1025.32,205.48 L1026.32,205.23 L1027.32,205.14 L1028.32,205.24 L1029.32,205.53 L1030.32,206.01 L1031.32,206.68 L1032.32,207.54 L1033.32,208.59 L1034.32,209.83 L1035.32,211.24 L1036.32,212.84 L1037.32,214.61 L1038.32,216.55 L1039.32,218.65 L1040.32,220.92 L1041.32,223.34 L1042.32,225.91 L1043.32,228.63 L1044.32,231.48 L1045.32,234.47 L1046.32,237.58 L1047.32,240.80 L1048.33,244.13 L1049.33,247.56 L1050.33,251.09 L1051.33,254.70 L1052.33,258.38 L1053.33,262.13 L1054.33,265.94 L1055.33,269.80 L1056.33,273.70 L1057.33,277.63 L1058.33,281.58 L1059.33,285.54 L1060.33,289.50 L1061.33,293.46 L1062.33,297.40 L1063.33,301.31 L1064.33,305.19 L1065.33,309.02 L1066.33,312.80 L1067.33,316.52 L1068.33,320.17 L1069.33,323.74 L1070.33,327.22 L1071.33,330.60 L1072.33,333.88 L1073.33,337.05 L1074.33,340.09 L1075.33,343.01 L1076.33,345.80 L1077.33,348.44 L1078.34,350.94 L1079.34,353.29 L1080.34,355.47 L1081.34,357.50 L1082.34,359.35 L1083.34,361.03 L1084.34,362.54 L1085.34,363.86 L1086.34,365.01 L1087.34,365.96 L1088.34,366.73 L1089.34,367.31 L1090.34,367.69 L1091.34,367.88 L1092.34,367.88 L1093.34,367.69 L1094.34,367.29 L1095.34,366.71 L1096.34,365.92 L1097.34,364.95 L1098.34,363.79 L1099.34,362.44 L1100.34,360.90 L1101.34,359.18 L1102.34,357.29 L1103.34,355.22 L1104.34,352.99 L1105.34,350.59 L1106.34,348.03 L1107.34,345.32 L1108.35,342.47 L1109.35,339.47 L1110.35,336.34 L1111.35,333.09 L1112.35,329.71 L1113.35,326.22 L1114.35,322.63 L1115.35,318.94 L1116.35,315.16 L1117.35,311.30 L1118.35,307.37 L1119.35,303.38 L1120.35,299.34 L1121.35,295.25 L1122.35,291.12 L1123.35,286.97 L1124.35,282.80 L1125.35,278.62 L1126.35,274.44 L1127.35,270.27 L1128.35,266.12 L1129.35,262.00 L1130.35,257.91 L1131.35,253.88 L1132.35,249.90 L1133.35,245.98 L1134.35,242.13 L1135.35,238.37 L1136.35,234.70 L1137.35,231.12 L1138.36,227.65 L1139.36,224.30 L1140.36,221.06 L1141.36,217.95 L1142.36,214.98 L1143.36,212.15 L1144.36,209.47 L1145.36,206.93 L1146.36,204.56 L1147.36,202.36 L1148.36,200.32 L1149.36,198.46 L1150.36,196.77 L1151.36,195.27 L1152.36,193.95 L1153.36,192.82 L1154.36,191.88 L1155.36,191.13 L1156.36,190.57 L1157.36,190.21 L1158.36,190.05 L1159.36,190.08 L1160.36,190.27 L1161.36,190.63 L1162.36,191.16 L1163.36,191.84 L1164.36,192.69 L1165.36,193.70 L1166.36,194.87 L1167.36,196.19 L1168.37,197.65 L1169.37,199.27 L1170.37,201.02 L1171.37,202.91 L1172.37,204.94 L1173.37,207.09 L1174.37,209.35 L1175.37,211.74 L1176.37,214.23 L1177.37,216.82 L1178.37,219.51 L1179.37,222.28 L1180.37,225.13 L1181.37,228.06 L1182.37,231.05 L1183.37,234.09 L1184.37,237.18 L1185.37,240.31 L1186.37,243.47 L1187.37,246.65 L1188.37,249.85 L1189.37,253.05 L1190.37,256.25 L1191.37,259.44 L1192.37,262.60 L1193.37,265.74 L1194.37,268.84 L1195.37,271.89 L1196.37,274.89 L1197.37,277.82 L1198.38,280.68 L1199.38,283.47 L1200.38,286.17 L1201.38,288.78 L1202.38,291.29 L1203.38,293.69 L1204.38,295.98 L1205.38,298.14 L1206.38,300.19 L1207.38,302.10 L1208.38,303.88 L1209.38,305.51 L1210.38,307.00 L1211.38,308.35 L1212.38,309.54 L1213.38,310.57 L1214.38,311.44 L1215.38,312.16 L1216.38,312.71 L1217.38,313.09 L1218.38,313.32 L1219.38,313.37 L1220.38,313.27 L1221.38,313.02 L1222.38,312.62 L1223.38,312.08 L1224.38,311.39 L1225.38,310.55 L1226.38,309.58 L1227.38,308.47 L1228.39,307.22 L1229.39,305.84 L1230.39,304.34 L1231.39,302.71 L1232.39,300.97 L1233.39,299.11 L1234.39,297.15 L1235.39,295.10 L1236.39,292.94 L1237.39,290.70 L1238.39,288.38 L1239.39,285.99 L1240.39,283.53 L1241.39,281.02 L1242.39,278.45 L1243.39,275.85 L1244.39,273.20 L1245.39,270.54 L1246.39,267.85 L1247.39,265.15 L1248.39,262.46 L1249.39,259.77 L1250.39,257.09 L1251.39,254.44 L1252.39,251.82 L1253.39,249.24 L1254.39,246.71 L1255.39,244.23 L1256.39,241.82 L1257.39,239.47 L1258.40,237.21 L1259.40,235.02 L1260.40,232.93 L1261.40,230.94 L1262.40,229.05 L1263.40,227.27 L1264.40,225.61 L1265.40,224.06 L1266.40,222.64 L1267.40,221.35 L1268.40,220.19 L1269.40,219.17 L1270.40,218.29 L1271.40,217.55 L1272.40,216.96 L1273.40,216.52 L1274.40,216.22 L1275.40,216.07 L1276.40,216.07 L1277.40,216.23 L1278.40,216.56 L1279.40,217.05 L1280.40,217.70 L1281.40,218.50 L1282.40,219.47 L1283.40,220.59 L1284.40,221.86 L1285.40,223.28 L1286.40,224.85 L1287.40,226.56 L1288.41,228.40 L1289.41,230.38 L1290.41,232.49 L1291.41,234.72 L1292.41,237.07 L1293.41,239.53 L1294.41,242.09 L1295.41,244.76 L1296.41,247.51 L1297.41,250.36 L1298.41,253.28 L1299.41,256.28 L1300.41,259.34 L1301.41,262.45 L1302.41,265.62 L1303.41,268.83 L1304.41,272.07 L1305.41,275.34 L1306.41,278.63 L1307.41,281.93 L1308.41,285.23 L1309.41,288.52 L1310.41,291.80 L1311.41,295.06 L1312.41,298.28 L1313.41,301.47 L1314.41,304.61 L1315.41,307.70 L1316.41,310.73 L1317.41,313.69 L1318.42,316.58 L1319.42,319.38 L1320.42,322.09 L1321.42,324.71 L1322.42,327.22 L1323.42,329.62 L1324.42,331.91 L1325.42,334.08 L1326.42,336.12 L1327.42,338.04 L1328.42,339.82 L1329.42,341.45 L1330.42,342.95 L1331.42,344.29 L1332.42,345.49 L1333.42,346.53 L1334.42,347.42 L1335.42,348.15 L1336.42,348.72 L1337.42,349.12 L1338.42,349.37 L1339.42,349.45 L1340.42,349.37 L1341.42,349.11 L1342.42,348.69 L1343.42,348.10 L1344.42,347.34 L1345.42,346.42 L1346.42,345.34 L1347.42,344.09 L1348.43,342.69 L1349.43,341.14 L1350.43,339.43 L1351.43,337.58 L1352.43,335.58 L1353.43,333.45 L1354.43,331.18 L1355.43,328.78 L1356.43,326.27 L1357.43,323.63 L1358.43,320.88 L1359.43,318.03 L1360.43,315.08 L1361.43,312.03 L1362.43,308.90 L1363.43,305.70 L1364.43,302.42 L1365.43,299.07 L1366.43,295.67 L1367.43,292.23 L1368.43,288.74 L1369.43,285.21 L1370.43,281.67 L1371.43,278.10 L1372.43,274.53 L1373.43,270.95 L1374.43,267.38 L1375.43,263.83 L1376.43,260.30 L1377.43,256.80 L1378.44,253.33 L1379.44,249.92 L1380.44,246.56 L1381.44,243.25 L1382.44,240.02 L1383.44,236.87 L1384.44,233.79 L1385.44,230.81 L1386.44,227.92 L1387.44,225.14 L1388.44,222.47 L1389.44,219.91 L1390.44,217.47 L1391.44,215.16 L1392.44,212.98 L1393.44,210.94 L1394.44,209.04 L1395.44,207.29 L1396.44,205.68 L1397.44,204.23 L1398.44,202.93 L1399.44,201.80 L1400.44,200.82 L1401.44,200.01 L1402.44,199.37 L1403.44,198.89 L1404.44,198.58 L1405.44,198.44 L1406.44,198.46 L1407.44,198.64 L1408.45,198.96 L1409.45,199.42 L1410.45,200.04 L1411.45,200.79 L1412.45,201.69 L1413.45,202.73 L1414.45,203.91 L1415.45,205.22 L1416.45,206.66 L1417.45,208.23 L1418.45,209.92 L1419.45,211.73 L1420.45,213.65 L1421.45,215.69 L1422.45,217.83 L1423.45,220.06 L1424.45,222.39 L1425.45,224.81 L1426.45,227.31 L1427.45,229.88 L1428.45,232.52 L1429.45,235.22 L1430.45,237.98 L1431.45,240.79 L1432.45,243.63 L1433.45,246.51 L1434.45,249.42 L1435.45,252.34 L1436.45,255.27 L1437.45,258.21 L1438.46,261.15 L1439.46,264.07 L1440.46,266.97 L1441.46,269.85 L1442.46,272.70 L1443.46,275.50 L1444.46,278.26 L1445.46,280.96 L1446.46,283.60 L1447.46,286.18 L1448.46,288.68 L1449.46,291.09 L1450.46,293.42 L1451.46,295.66 L1452.46,297.80 L1453.46,299.83 L1454.46,301.75 L1455.46,303.56 L1456.46,305.26 L1457.46,306.82 L1458.46,308.26 L1459.46,309.57 L1460.46,310.75 L1461.46,311.79 L1462.46,312.69 L1463.46,313.44 L1464.46,314.06 L1465.46,314.52 L1466.46,314.84 L1467.46,315.02 L1468.47,315.04 L1469.47,314.94 L1470.47,314.70 L1471.47,314.33 L1472.47,313.84 L1473.47,313.22 L1474.47,312.47 L1475.47,311.60 L1476.47,310.62 L1477.47,309.51 L1478.47,308.29 L1479.47,306.97 L1480.47,305.53 L1481.47,304.00 L1482.47,302.36 L1483.47,300.64 L1484.47,298.82 L1485.47,296.93 L1486.47,294.96 L1487.47,292.92 L1488.47,290.81 L1489.47,288.64 L1490.47,286.43 L1491.47,284.16 L1492.47,281.86 L1493.47,279.53 L1494.47,277.17 L1495.47,274.79 L1496.47,272.40 L1497.47,270.01 L1498.48,267.62 L1499.48,265.24 L1500.48,262.88 L1501.48,260.54 L1502.48,258.23 L1503.48,255.96 L1504.48,253.73 L1505.48,251.56 L1506.48,249.44 L1507.48,247.39 L1508.48,245.40 L1509.48,243.50 L1510.48,241.67 L1511.48,239.93 L1512.48,238.28 L1513.48,236.73 L1514.48,235.27 L1515.48,233.93 L1516.48,232.69 L1517.48,231.57 L1518.48,230.56 L1519.48,229.67 L1520.48,228.91 L1521.48,228.27 L1522.48,227.75 L1523.48,227.36 L1524.48,227.10 L1525.48,226.97 L1526.48,226.97 L1527.48,227.11 L1528.49,227.37 L1529.49,227.77 L1530.49,228.30 L1531.49,228.96 L1532.49,229.75 L1533.49,230.66 L1534.49,231.69 L1535.49,232.85 L1536.49,234.13 L1537.49,235.52 L1538.49,237.02 L1539.49,238.63 L1540.49,240.34 L1541.49,242.15 L1542.49,244.05 L1543.49,246.05 L1544.49,248.12 L1545.49,250.28 L1546.49,252.51 L1547.49,254.80 L1548.49,257.16 L1549.49,259.57 L1550.49,262.03 L1551.49,264.54 L1552.49,267.08 L1553.49,269.65 L1554.49,272.24 L1555.49,274.85 L1556.49,277.47 L1557.49,280.09 L1558.50,282.71 L1559.50,285.31 L1560.50,287.90 L1561.50,290.47 L1562.50,293.00 L1563.50,295.50 L1564.50,297.95 L1565.50,300.36 L1566.50,302.70 L1567.50,304.99 L1568.50,307.20 L1569.50,309.35 L1570.50,311.41 L1571.50,313.39 L1572.50,315.28 L1573.50,317.07 L1574.50,318.76 L1575.50,320.35 L1576.50,321.84 L1577.50,323.21 L1578.50,324.46 L1579.50,325.60 L1580.50,326.62 L1581.50,327.51 L1582.50,328.27 L1583.50,328.91 L1584.50,329.42 L1585.50,329.79 L1586.50,330.04 L1587.50,330.15 L1588.51,330.12 L1589.51,329.96 L1590.51,329.65 L1591.51,329.21 L1592.51,328.63 L1593.51,327.91 L1594.51,327.06 L1595.51,326.07 L1596.51,324.95 L1597.51,323.70 L1598.51,322.33 L1599.51,320.84 L1600.51,319.22 L1601.51,317.49 L1602.51,315.65 L1603.51,313.70 L1604.51,311.65 L1605.51,309.50 L1606.51,307.26 L1607.51,304.93 L1608.51,302.51 L1609.51,300.02 L1610.51,297.46 L1611.51,294.83 L1612.51,292.14 L1613.51,289.39 L1614.51,286.60 L1615.51,283.77 L1616.51,280.90 L1617.51,278.01 L1618.52,275.09 L1619.52,272.16 L1620.52,269.22 L1621.52,266.28 L1622.52,263.34 L1623.52,260.42 L1624.52,257.51 L1625.52,254.63 L1626.52,251.78 L1627.52,248.96 L1628.52,246.20 L1629.52,243.48 L1630.52,240.82 L1631.52,238.22 L1632.52,235.69 L1633.52,233.24 L1634.52,230.87 L1635.52,228.58 L1636.52,226.38 L1637.52,224.28 L1638.52,222.28 L1639.52,220.39 L1640.52,218.60 L1641.52,216.93 L1642.52,215.37 L1643.52,213.94 L1644.52,212.63 L1645.52,211.45 L1646.52,210.39 L1647.52,209.47 L1648.53,208.69 L1649.53,208.04 L1650.53,207.52 L1651.53,207.15 L1652.53,206.92 L1653.53,206.82 L1654.53,206.87 L1655.53,207.04 L1656.53,207.35 L1657.53,207.79 L1658.53,208.35 L1659.53,209.05 L1660.53,209.87 L1661.53,210.82 L1662.53,211.89 L1663.53,213.08 L1664.53,214.39 L1665.53,215.81 L1666.53,217.34 L1667.53,218.98 L1668.53,220.72 L1669.53,222.57 L1670.53,224.50 L1671.53,226.53 L1672.53,228.64 L1673.53,230.84 L1674.53,233.11 L1675.53,235.45 L1676.53,237.85 L1677.53,240.32 L1678.54,242.84 L1679.54,245.40 L1680.54,248.01 L1681.54,250.65 L1682.54,253.32 L1683.54,256.01 L1684.54,258.72 L1685.54,261.44 L1686.54,264.17 L1687.54,266.89 L1688.54,269.60 L1689.54,272.29 L1690.54,274.97 L1691.54,277.62 L1692.54,280.23 L1693.54,282.80 L1694.54,285.33 L1695.54,287.80 L1696.54,290.22 L1697.54,292.57 L1698.54,294.85 L1699.54,297.06 L1700.54,299.18 L1701.54,301.23 L1702.54,303.18 L1703.54,305.04 L1704.54,306.80 L1705.54,308.46 L1706.54,310.01 L1707.54,311.45 L1708.55,312.77 L1709.55,313.98 L1710.55,315.08 L1711.55,316.04 L1712.55,316.89 L1713.55,317.60 L1714.55,318.19 L1715.55,318.65 L1716.55,318.98 L1717.55,319.18 L1718.55,319.25 L1719.55,319.21 L1720.55,319.10 L1721.55,318.92 L1722.55,318.68 L1723.55,318.36 L1724.55,317.97 L1725.55,317.51 L1726.55,316.98 L1727.55,316.39 L1728.55,315.73 L1729.55,315.00 L1730.55,314.21 L1731.55,313.36 L1732.55,312.45 L1733.55,311.47 L1734.55,310.44 L1735.55,309.36 L1736.55,308.22 L1737.55,307.02 L1738.56,305.78 L1739.56,304.49 L1740.56,303.16 L1741.56,301.78 L1742.56,300.36 L1743.56,298.90 L1744.56,297.41 L1745.56,295.88 L1746.56,294.32 L1747.56,292.74 L1748.56,291.13 L1749.56,289.50 L1750.56,287.85 L1751.56,286.18 L1752.56,284.50 L1753.56,282.81 L1754.56,281.11 L1755.56,279.41 L1756.00,278.66" fill="none" stroke="#1f80c8" stroke-width="3" stroke-linejoin="round"/><line x1="72.5" x2="72.5" y1="290.6" y2="407" stroke="#1f80c8" stroke-width="3"/><line x1="70" x2="1752" y1="405.8" y2="405.8" stroke="#2a86cf" stroke-width="1.2"/><rect x="73.50" y="122" width="74.35" height="285" fill="#b0b0b0" fill-opacity="0.28"/><rect x="247.89" y="122" width="140.05" height="285" fill="#b0b0b0" fill-opacity="0.28"/><rect x="488.14" y="122" width="140.05" height="285" fill="#b0b0b0" fill-opacity="0.28"/><rect x="728.22" y="122" width="140.05" height="285" fill="#b0b0b0" fill-opacity="0.28"/><rect x="968.47" y="122" width="140.05" height="285" fill="#b0b0b0" fill-opacity="0.28"/><rect x="1208.55" y="122" width="140.05" height="285" fill="#b0b0b0" fill-opacity="0.28"/><rect x="1448.79" y="122" width="139.89" height="285" fill="#b0b0b0" fill-opacity="0.28"/><rect x="1689.04" y="122" width="139.75" height="285" fill="#b0b0b0" fill-opacity="0.28"/><circle cx="40.0" cy="186.7" r="3.8" fill="#3399dd" stroke="#fff" stroke-width="1"/><circle cx="105.5" cy="402.3" r="3.8" fill="#0f8590" stroke="#fff" stroke-width="1"/><circle cx="173.4" cy="169.9" r="3.8" fill="#3399dd" stroke="#fff" stroke-width="1"/><circle cx="231.1" cy="309.2" r="3.8" fill="#0f8590" stroke="#fff" stroke-width="1"/><circle cx="285.9" cy="189.2" r="3.8" fill="#3399dd" stroke="#fff" stroke-width="1"/><circle cx="351.9" cy="400.6" r="3.8" fill="#0f8590" stroke="#fff" stroke-width="1"/><circle cx="419.6" cy="170.7" r="3.8" fill="#3399dd" stroke="#fff" stroke-width="1"/><circle cx="477.5" cy="310.9" r="3.8" fill="#0f8590" stroke="#fff" stroke-width="1"/><circle cx="532.7" cy="191.7" r="3.8" fill="#3399dd" stroke="#fff" stroke-width="1"/><circle cx="598.3" cy="394.8" r="3.8" fill="#0f8590" stroke="#fff" stroke-width="1"/><circle cx="665.9" cy="175.8" r="3.8" fill="#3399dd" stroke="#fff" stroke-width="1"/><circle cx="724.2" cy="311.7" r="3.8" fill="#0f8590" stroke="#fff" stroke-width="1"/><circle cx="779.7" cy="197.6" r="3.8" fill="#3399dd" stroke="#fff" stroke-width="1"/><circle cx="845.1" cy="383.0" r="3.8" fill="#0f8590" stroke="#fff" stroke-width="1"/><circle cx="912.1" cy="181.6" r="3.8" fill="#3399dd" stroke="#fff" stroke-width="1"/><circle cx="971.3" cy="312.5" r="3.8" fill="#0f8590" stroke="#fff" stroke-width="1"/><circle cx="1027.3" cy="205.1" r="3.8" fill="#3399dd" stroke="#fff" stroke-width="1"/><circle cx="1091.8" cy="367.9" r="3.8" fill="#0f8590" stroke="#fff" stroke-width="1"/><circle cx="1158.7" cy="190.0" r="3.8" fill="#3399dd" stroke="#fff" stroke-width="1"/><circle cx="1219.2" cy="313.4" r="3.8" fill="#0f8590" stroke="#fff" stroke-width="1"/><circle cx="1275.9" cy="216.0" r="3.8" fill="#3399dd" stroke="#fff" stroke-width="1"/><circle cx="1339.4" cy="349.4" r="3.8" fill="#0f8590" stroke="#fff" stroke-width="1"/><circle cx="1405.8" cy="198.4" r="3.8" fill="#3399dd" stroke="#fff" stroke-width="1"/><circle cx="1468.1" cy="315.1" r="3.8" fill="#0f8590" stroke="#fff" stroke-width="1"/><circle cx="1526.0" cy="227.0" r="3.8" fill="#3399dd" stroke="#fff" stroke-width="1"/><circle cx="1587.8" cy="330.2" r="3.8" fill="#0f8590" stroke="#fff" stroke-width="1"/><circle cx="1653.7" cy="206.8" r="3.8" fill="#3399dd" stroke="#fff" stroke-width="1"/><circle cx="1718.5" cy="319.2" r="3.8" fill="#0f8590" stroke="#fff" stroke-width="1"/><circle cx="1793.6" cy="237.9" r="3.8" fill="#3399dd" stroke="#fff" stroke-width="1"/></g><line x1="69.5" x2="69.5" y1="121" y2="407" stroke="#808080" stroke-width="1"/></svg>
<div class="a ylab" style="right:1686px;top:111.3px;font-size:13px;line-height:14px;letter-spacing:-0.4px;white-space:nowrap;color:#222">3.2m (10.5ft)</div>
<div class="a ylab" style="right:1686px;top:142.6px;font-size:13px;line-height:14px;letter-spacing:-0.4px;white-space:nowrap;color:#222">2.8m (9.3ft)</div>
<div class="a ylab" style="right:1686px;top:173.9px;font-size:13px;line-height:14px;letter-spacing:-0.4px;white-space:nowrap;color:#222">2.5m (8.1ft)</div>
<div class="a ylab" style="right:1686px;top:205.2px;font-size:13px;line-height:14px;letter-spacing:-0.4px;white-space:nowrap;color:#222">2.1m (6.8ft)</div>
<div class="a ylab" style="right:1686px;top:236.5px;font-size:13px;line-height:14px;letter-spacing:-0.4px;white-space:nowrap;color:#222">1.7m (5.6ft)</div>
<div class="a ylab" style="right:1686px;top:267.8px;font-size:13px;line-height:14px;letter-spacing:-0.4px;white-space:nowrap;color:#222">1.3m (4.4ft)</div>
<div class="a ylab" style="right:1686px;top:299.1px;font-size:13px;line-height:14px;letter-spacing:-0.4px;white-space:nowrap;color:#222">1m (3.1ft)</div>
<div class="a ylab" style="right:1686px;top:330.4px;font-size:13px;line-height:14px;letter-spacing:-0.4px;white-space:nowrap;color:#222">0.6m (1.9ft)</div>
<div class="a ylab" style="right:1686px;top:361.7px;font-size:13px;line-height:14px;letter-spacing:-0.4px;white-space:nowrap;color:#222">0.2m (0.6ft)</div>
<div class="a ylab" style="right:1686px;top:393.0px;font-size:13px;line-height:14px;letter-spacing:-0.4px;white-space:nowrap;color:#222">-0.2m (-0.6ft)</div>
<div class="a" style="left:0;top:98px;width:69px;height:22px;background:#f4f4f4"></div>
<div class="a" style="left:0;top:407px;width:1752px;height:2px;background:#2c4a6a"></div>
<div class="a" style="left:0;top:409px;width:69px;height:117px;background:#f4f4f4"></div>
<div class="a" style="left:70px;top:409px;width:1682px;height:58px;background:#f4faff"></div>
<div class="a" style="left:70px;top:468px;width:1682px;height:58px;background:#fff"></div>
<div class="a" style="left:70px;top:467px;width:1682px;height:1px;background:#e9eef2"></div>
<div class="a" style="left:69px;top:408px;width:1px;height:117px;background:#6a6a6a"></div>
<div class="a" style="left:130px;top:408px;width:1px;height:117px;background:#e8ecef"></div>
<div class="a" style="left:190px;top:408px;width:1px;height:117px;background:#e8ecef"></div>
<div class="a" style="left:250px;top:408px;width:1px;height:117px;background:#e8ecef"></div>
<div class="a" style="left:310px;top:408px;width:1px;height:117px;background:#6a6a6a"></div>
<div class="a" style="left:370px;top:408px;width:1px;height:117px;background:#e8ecef"></div>
<div class="a" style="left:432px;top:408px;width:1px;height:117px;background:#e8ecef"></div>
<div class="a" style="left:492px;top:408px;width:1px;height:117px;background:#e8ecef"></div>
<div class="a" style="left:552px;top:408px;width:1px;height:117px;background:#6a6a6a"></div>
<div class="a" style="left:612px;top:408px;width:1px;height:117px;background:#e8ecef"></div>
<div class="a" style="left:672px;top:408px;width:1px;height:117px;background:#e8ecef"></div>
<div class="a" style="left:732px;top:408px;width:1px;height:117px;background:#e8ecef"></div>
<div class="a" style="left:793px;top:408px;width:1px;height:117px;background:#6a6a6a"></div>
<div class="a" style="left:853px;top:408px;width:1px;height:117px;background:#e8ecef"></div>
<div class="a" style="left:913px;top:408px;width:1px;height:117px;background:#e8ecef"></div>
<div class="a" style="left:973px;top:408px;width:1px;height:117px;background:#e8ecef"></div>
<div class="a" style="left:1033px;top:408px;width:1px;height:117px;background:#6a6a6a"></div>
<div class="a" style="left:1093px;top:408px;width:1px;height:117px;background:#e8ecef"></div>
<div class="a" style="left:1153px;top:408px;width:1px;height:117px;background:#e8ecef"></div>
<div class="a" style="left:1214px;top:408px;width:1px;height:117px;background:#e8ecef"></div>
<div class="a" style="left:1274px;top:408px;width:1px;height:117px;background:#6a6a6a"></div>
<div class="a" style="left:1339px;top:408px;width:1px;height:117px;background:#e8ecef"></div>
<div class="a" style="left:1399px;top:408px;width:1px;height:117px;background:#e8ecef"></div>
<div class="a" style="left:1459px;top:408px;width:1px;height:117px;background:#e8ecef"></div>
<div class="a" style="left:1519px;top:408px;width:1px;height:117px;background:#6a6a6a"></div>
<div class="a" style="left:1579px;top:408px;width:1px;height:117px;background:#e8ecef"></div>
<div class="a" style="left:1639px;top:408px;width:1px;height:117px;background:#e8ecef"></div>
<div class="a" style="left:1699px;top:408px;width:1px;height:117px;background:#e8ecef"></div>
<div class="a" style="left:0;top:467px;width:69px;height:1px;background:#e6e6e6"></div><div class="c" style="left:0;top:421px;width:69px;font-size:14px;line-height:17px"><b style="color:#3f7fbf">HIGH</b><br><span style="color:#333">(JST)</span></div>
<div class="c" style="left:0;top:479px;width:69px;font-size:14px;line-height:17px"><b style="color:#138a92">LOW</b><br><span style="color:#333">(JST)</span></div>
<div class="c" style="left:131px;top:417px;width:60px;font-size:12px;line-height:14px;color:#333"><b style="color:#3f7fbf;letter-spacing:0.7px">9:56AM</b><br>2.64m<br>(8.66ft)</div>
<div class="c" style="left:251px;top:417px;width:60px;font-size:12px;line-height:14px;color:#333"><b style="color:#3f7fbf;letter-spacing:0.7px">9:11PM</b><br>2.41m<br>(7.91ft)</div>
<div class="c" style="left:493px;top:417px;width:60px;font-size:12px;line-height:14px;color:#333"><b style="color:#3f7fbf;letter-spacing:0.7px">9:51PM</b><br>2.38m<br>(7.81ft)</div>
<div class="c" style="left:613px;top:417px;width:60px;font-size:12px;line-height:14px;color:#333"><b style="color:#3f7fbf;letter-spacing:0.7px">11:10AM</b><br>2.57m<br>(8.45ft)</div>
<div class="c" style="left:733px;top:417px;width:61px;font-size:12px;line-height:14px;color:#333"><b style="color:#3f7fbf;letter-spacing:0.7px">10:33PM</b><br>2.31m<br>(7.58ft)</div>
<div class="c" style="left:854px;top:417px;width:60px;font-size:12px;line-height:14px;color:#333"><b style="color:#3f7fbf;letter-spacing:0.7px">11:47AM</b><br>2.50m<br>(8.2ft)</div>
<div class="c" style="left:974px;top:417px;width:60px;font-size:12px;line-height:14px;color:#333"><b style="color:#3f7fbf;letter-spacing:0.7px">11:18PM</b><br>2.22m<br>(7.28ft)</div>
<div class="c" style="left:1154px;top:417px;width:61px;font-size:12px;line-height:14px;color:#333"><b style="color:#3f7fbf;letter-spacing:0.7px">12:26PM</b><br>2.40m<br>(7.87ft)</div>
<div class="c" style="left:1275px;top:417px;width:65px;font-size:12px;line-height:14px;color:#333"><b style="color:#3f7fbf;letter-spacing:0.7px">00:09AM</b><br>2.09m<br>(6.86ft)</div>
<div class="c" style="left:1400px;top:417px;width:60px;font-size:12px;line-height:14px;color:#333"><b style="color:#3f7fbf;letter-spacing:0.7px">1:08PM</b><br>2.30m<br>(7.55ft)</div>
<div class="c" style="left:1520px;top:417px;width:60px;font-size:12px;line-height:14px;color:#333"><b style="color:#3f7fbf;letter-spacing:0.7px">1:09AM</b><br>1.96m<br>(6.43ft)</div>
<div class="c" style="left:1640px;top:417px;width:60px;font-size:12px;line-height:14px;color:#333"><b style="color:#3f7fbf;letter-spacing:0.7px">1:55PM</b><br>2.20m<br>(7.22ft)</div>
<div class="c" style="left:371px;top:417px;width:62px;font-size:12px;line-height:14px;color:#333"><b style="color:#3f7fbf;letter-spacing:0.7px">10:33AM</b><br>2.63m<br>(8.63ft)</div>
<div class="c" style="left:70px;top:476px;width:61px;font-size:12px;line-height:14px;color:#333"><b style="color:#138a92;letter-spacing:0.7px">3:09AM</b><br>-0.13m<br>(-0.43ft)</div>
<div class="c" style="left:191px;top:476px;width:60px;font-size:12px;line-height:14px;color:#333"><b style="color:#138a92;letter-spacing:0.7px">3:42PM</b><br>0.98m<br>(3.22ft)</div>
<div class="c" style="left:311px;top:476px;width:60px;font-size:12px;line-height:14px;color:#333"><b style="color:#138a92;letter-spacing:0.7px">3:47AM</b><br>-0.11m<br>(-0.36ft)</div>
<div class="c" style="left:433px;top:476px;width:60px;font-size:12px;line-height:14px;color:#333"><b style="color:#138a92;letter-spacing:0.7px">4:20PM</b><br>0.96m<br>(3.16ft)</div>
<div class="c" style="left:553px;top:476px;width:60px;font-size:12px;line-height:14px;color:#333"><b style="color:#138a92;letter-spacing:0.7px">4:25AM</b><br>-0.04m<br>(-0.13ft)</div>
<div class="c" style="left:673px;top:476px;width:60px;font-size:12px;line-height:14px;color:#333"><b style="color:#138a92;letter-spacing:0.7px">5:00PM</b><br>0.95m<br>(3.11ft)</div>
<div class="c" style="left:794px;top:476px;width:60px;font-size:12px;line-height:14px;color:#333"><b style="color:#138a92;letter-spacing:0.7px">5:05AM</b><br>0.10m<br>(0.33ft)</div>
<div class="c" style="left:914px;top:476px;width:60px;font-size:12px;line-height:14px;color:#333"><b style="color:#138a92;letter-spacing:0.7px">5:42PM</b><br>0.94m<br>(3.08ft)</div>
<div class="c" style="left:1034px;top:476px;width:60px;font-size:12px;line-height:14px;color:#333"><b style="color:#138a92;letter-spacing:0.7px">5:45AM</b><br>0.28m<br>(0.92ft)</div>
<div class="c" style="left:1215px;top:476px;width:60px;font-size:12px;line-height:14px;color:#333"><b style="color:#138a92;letter-spacing:0.7px">6:29PM</b><br>0.93m<br>(3.05ft)</div>
<div class="c" style="left:1340px;top:476px;width:60px;font-size:12px;line-height:14px;color:#333"><b style="color:#138a92;letter-spacing:0.7px">6:30AM</b><br>0.50m<br>(1.62ft)</div>
<div class="c" style="left:1460px;top:476px;width:60px;font-size:12px;line-height:14px;color:#333"><b style="color:#138a92;letter-spacing:0.7px">7:22PM</b><br>0.91m<br>(2.99ft)</div>
<div class="c" style="left:1580px;top:476px;width:60px;font-size:12px;line-height:14px;color:#333"><b style="color:#138a92;letter-spacing:0.7px">7:20AM</b><br>0.73m<br>(2.39ft)</div>
<div class="c" style="left:1700px;top:476px;width:60px;font-size:12px;line-height:14px;color:#333"><b style="color:#138a92;letter-spacing:0.7px">8:24PM</b><br>0.86m<br>(2.82ft)</div>
<div class="a" style="left:0;top:526px;width:1752px;height:2px;background:#2c4a6a"></div>
<div class="a" style="left:0;top:528px;width:1752px;height:45px;background:#fdfdf0"></div>
<div class="a" style="left:70px;top:573px;width:1682px;height:79px;background:#fff"></div>
<div class="a" style="left:0;top:573px;width:69px;height:79px;background:#f4f4f4"></div>
<div class="a" style="left:190px;top:528px;width:60px;height:45px;background:#ececec"></div>
<div class="a" style="left:432px;top:528px;width:60px;height:45px;background:#ececec"></div>
<div class="a" style="left:672px;top:528px;width:60px;height:45px;background:#ececec"></div>
<div class="a" style="left:913px;top:528px;width:60px;height:45px;background:#ececec"></div>
<div class="a" style="left:1153px;top:528px;width:61px;height:45px;background:#ececec"></div>
<div class="a" style="left:1399px;top:528px;width:60px;height:45px;background:#ececec"></div>
<div class="a" style="left:1639px;top:528px;width:60px;height:45px;background:#ececec"></div>
<div class="a" style="left:69px;top:528px;width:1px;height:124px;background:#6a6a6a"></div>
<div class="a" style="left:130px;top:528px;width:1px;height:124px;background:#ebebeb"></div>
<div class="a" style="left:190px;top:528px;width:1px;height:124px;background:#ebebeb"></div>
<div class="a" style="left:250px;top:528px;width:1px;height:124px;background:#ebebeb"></div>
<div class="a" style="left:310px;top:528px;width:1px;height:124px;background:#6a6a6a"></div>
<div class="a" style="left:370px;top:528px;width:1px;height:124px;background:#ebebeb"></div>
<div class="a" style="left:432px;top:528px;width:1px;height:124px;background:#ebebeb"></div>
<div class="a" style="left:492px;top:528px;width:1px;height:124px;background:#ebebeb"></div>
<div class="a" style="left:552px;top:528px;width:1px;height:124px;background:#6a6a6a"></div>
<div class="a" style="left:612px;top:528px;width:1px;height:124px;background:#ebebeb"></div>
<div class="a" style="left:672px;top:528px;width:1px;height:124px;background:#ebebeb"></div>
<div class="a" style="left:732px;top:528px;width:1px;height:124px;background:#ebebeb"></div>
<div class="a" style="left:793px;top:528px;width:1px;height:124px;background:#6a6a6a"></div>
<div class="a" style="left:853px;top:528px;width:1px;height:124px;background:#ebebeb"></div>
<div class="a" style="left:913px;top:528px;width:1px;height:124px;background:#ebebeb"></div>
<div class="a" style="left:973px;top:528px;width:1px;height:124px;background:#ebebeb"></div>
<div class="a" style="left:1033px;top:528px;width:1px;height:124px;background:#6a6a6a"></div>
<div class="a" style="left:1093px;top:528px;width:1px;height:124px;background:#ebebeb"></div>
<div class="a" style="left:1153px;top:528px;width:1px;height:124px;background:#ebebeb"></div>
<div class="a" style="left:1214px;top:528px;width:1px;height:124px;background:#ebebeb"></div>
<div class="a" style="left:1274px;top:528px;width:1px;height:124px;background:#6a6a6a"></div>
<div class="a" style="left:1339px;top:528px;width:1px;height:124px;background:#ebebeb"></div>
<div class="a" style="left:1399px;top:528px;width:1px;height:124px;background:#ebebeb"></div>
<div class="a" style="left:1459px;top:528px;width:1px;height:124px;background:#ebebeb"></div>
<div class="a" style="left:1519px;top:528px;width:1px;height:124px;background:#6a6a6a"></div>
<div class="a" style="left:1579px;top:528px;width:1px;height:124px;background:#ebebeb"></div>
<div class="a" style="left:1639px;top:528px;width:1px;height:124px;background:#ebebeb"></div>
<div class="a" style="left:1699px;top:528px;width:1px;height:124px;background:#ebebeb"></div>
<div class="a" style="left:70px;top:572px;width:1682px;height:1px;background:#ececec"></div>
<svg class="a" style="left:149.8px;top:533px" width="21" height="19" viewBox="0 0 21 19"><g fill="none" stroke="#222" stroke-width="1.4"><path d="M10.5 1.2 V3.6 M3.7 4.1 L5.5 5.9 M17.3 4.1 L15.5 5.9 M0.5 10.7 H3 M18 10.7 H20.5"/><path d="M5 11 A5.5 5.5 0 0 1 16 11"/><path d="M0.5 13.8 H7.6 L10.5 11.3 L13.4 13.8 H20.5"/></g></svg>
<div class="c" style="left:120.3px;top:553.8px;width:80px;font-size:12px;line-height:14px;color:#333">7:23AM</div>
<svg class="a" style="left:209.8px;top:533px" width="21" height="19" viewBox="0 0 21 19"><g fill="none" stroke="#222" stroke-width="1.4"><path d="M10.5 1.2 V3.6 M3.7 4.1 L5.5 5.9 M17.3 4.1 L15.5 5.9 M0.5 10.7 H3 M18 10.7 H20.5"/><path d="M5 11 A5.5 5.5 0 0 1 16 11"/><path d="M0.5 13.8 H7.6 L10.5 16.6 L13.4 13.8 H20.5"/></g></svg>
<div class="c" style="left:180.3px;top:553.8px;width:80px;font-size:12px;line-height:14px;color:#333">5:23PM</div>
<svg class="a" style="left:150.3px;top:581px" width="22" height="22" viewBox="-11 -11 22 22"><circle r="9.50" fill="#fff"/><path d="M0 -9.50 A9.50 9.50 0 0 0 0 9.50 A7.60 9.50 0 0 0 0 -9.50 Z" fill="#999"/><path d="M0 -9.50 A7.60 9.50 0 0 1 0 9.50" fill="none" stroke="#111" stroke-width="1.1"/><circle r="9.50" fill="none" stroke="#111" stroke-width="1.2"/></svg>
<svg class="a" style="left:149.8px;top:613px" width="21" height="17" viewBox="0 0 21 17"><g fill="none" stroke="#222" stroke-width="1.4"><path d="M4 9.6 A6.5 6.5 0 0 1 17 9.6"/><path d="M0.5 13 H7.5 L10.5 10 L13.5 13 H20.5"/></g></svg>
<div class="c" style="left:120.3px;top:632.6px;width:80px;font-size:12px;line-height:14px;color:#333">8:26AM</div>
<svg class="a" style="left:270.3px;top:581px" width="22" height="22" viewBox="-11 -11 22 22"><circle r="9.50" fill="#fff"/><path d="M0 -9.50 A9.50 9.50 0 0 0 0 9.50 A7.03 9.50 0 0 0 0 -9.50 Z" fill="#999"/><path d="M0 -9.50 A7.03 9.50 0 0 1 0 9.50" fill="none" stroke="#111" stroke-width="1.1"/><circle r="9.50" fill="none" stroke="#111" stroke-width="1.2"/></svg>
<svg class="a" style="left:269.8px;top:613px" width="21" height="17" viewBox="0 0 21 17"><g fill="none" stroke="#222" stroke-width="1.4"><path d="M4 9.6 A6.5 6.5 0 0 1 17 9.6"/><path d="M0.5 13 H7.5 L10.5 15.5 L13.5 13 H20.5"/></g></svg>
<div class="c" style="left:240.3px;top:632.6px;width:80px;font-size:12px;line-height:14px;color:#333">6:12PM</div>
<svg class="a" style="left:390.8px;top:533px" width="21" height="19" viewBox="0 0 21 19"><g fill="none" stroke="#222" stroke-width="1.4"><path d="M10.5 1.2 V3.6 M3.7 4.1 L5.5 5.9 M17.3 4.1 L15.5 5.9 M0.5 10.7 H3 M18 10.7 H20.5"/><path d="M5 11 A5.5 5.5 0 0 1 16 11"/><path d="M0.5 13.8 H7.6 L10.5 11.3 L13.4 13.8 H20.5"/></g></svg>
<div class="c" style="left:361.3px;top:553.8px;width:80px;font-size:12px;line-height:14px;color:#333">7:23AM</div>
<svg class="a" style="left:451.8px;top:533px" width="21" height="19" viewBox="0 0 21 19"><g fill="none" stroke="#222" stroke-width="1.4"><path d="M10.5 1.2 V3.6 M3.7 4.1 L5.5 5.9 M17.3 4.1 L15.5 5.9 M0.5 10.7 H3 M18 10.7 H20.5"/><path d="M5 11 A5.5 5.5 0 0 1 16 11"/><path d="M0.5 13.8 H7.6 L10.5 16.6 L13.4 13.8 H20.5"/></g></svg>
<div class="c" style="left:422.3px;top:553.8px;width:80px;font-size:12px;line-height:14px;color:#333">5:24PM</div>
<svg class="a" style="left:391.3px;top:581px" width="22" height="22" viewBox="-11 -11 22 22"><circle r="9.50" fill="#fff"/><path d="M0 -9.50 A9.50 9.50 0 0 0 0 9.50 A6.46 9.50 0 0 0 0 -9.50 Z" fill="#999"/><path d="M0 -9.50 A6.46 9.50 0 0 1 0 9.50" fill="none" stroke="#111" stroke-width="1.1"/><circle r="9.50" fill="none" stroke="#111" stroke-width="1.2"/></svg>
<svg class="a" style="left:390.8px;top:613px" width="21" height="17" viewBox="0 0 21 17"><g fill="none" stroke="#222" stroke-width="1.4"><path d="M4 9.6 A6.5 6.5 0 0 1 17 9.6"/><path d="M0.5 13 H7.5 L10.5 10 L13.5 13 H20.5"/></g></svg>
<div class="c" style="left:361.3px;top:632.6px;width:80px;font-size:12px;line-height:14px;color:#333">9:11AM</div>
<svg class="a" style="left:512.3px;top:581px" width="22" height="22" viewBox="-11 -11 22 22"><circle r="9.50" fill="#fff"/><path d="M0 -9.50 A9.50 9.50 0 0 0 0 9.50 A5.70 9.50 0 0 0 0 -9.50 Z" fill="#999"/><path d="M0 -9.50 A5.70 9.50 0 0 1 0 9.50" fill="none" stroke="#111" stroke-width="1.1"/><circle r="9.50" fill="none" stroke="#111" stroke-width="1.2"/></svg>
<svg class="a" style="left:511.8px;top:613px" width="21" height="17" viewBox="0 0 21 17"><g fill="none" stroke="#222" stroke-width="1.4"><path d="M4 9.6 A6.5 6.5 0 0 1 17 9.6"/><path d="M0.5 13 H7.5 L10.5 15.5 L13.5 13 H20.5"/></g></svg>
<div class="c" style="left:482.3px;top:632.6px;width:80px;font-size:12px;line-height:14px;color:#333">7:12PM</div>
<svg class="a" style="left:631.8px;top:533px" width="21" height="19" viewBox="0 0 21 19"><g fill="none" stroke="#222" stroke-width="1.4"><path d="M10.5 1.2 V3.6 M3.7 4.1 L5.5 5.9 M17.3 4.1 L15.5 5.9 M0.5 10.7 H3 M18 10.7 H20.5"/><path d="M5 11 A5.5 5.5 0 0 1 16 11"/><path d="M0.5 13.8 H7.6 L10.5 11.3 L13.4 13.8 H20.5"/></g></svg>
<div class="c" style="left:602.3px;top:553.8px;width:80px;font-size:12px;line-height:14px;color:#333">7:24AM</div>
<svg class="a" style="left:691.8px;top:533px" width="21" height="19" viewBox="0 0 21 19"><g fill="none" stroke="#222" stroke-width="1.4"><path d="M10.5 1.2 V3.6 M3.7 4.1 L5.5 5.9 M17.3 4.1 L15.5 5.9 M0.5 10.7 H3 M18 10.7 H20.5"/><path d="M5 11 A5.5 5.5 0 0 1 16 11"/><path d="M0.5 13.8 H7.6 L10.5 16.6 L13.4 13.8 H20.5"/></g></svg>
<div class="c" style="left:662.3px;top:553.8px;width:80px;font-size:12px;line-height:14px;color:#333">5:24PM</div>
<svg class="a" style="left:632.3px;top:581px" width="22" height="22" viewBox="-11 -11 22 22"><circle r="9.50" fill="#fff"/><path d="M0 -9.50 A9.50 9.50 0 0 0 0 9.50 A4.84 9.50 0 0 0 0 -9.50 Z" fill="#999"/><path d="M0 -9.50 A4.84 9.50 0 0 1 0 9.50" fill="none" stroke="#111" stroke-width="1.1"/><circle r="9.50" fill="none" stroke="#111" stroke-width="1.2"/></svg>
<svg class="a" style="left:631.8px;top:613px" width="21" height="17" viewBox="0 0 21 17"><g fill="none" stroke="#222" stroke-width="1.4"><path d="M4 9.6 A6.5 6.5 0 0 1 17 9.6"/><path d="M0.5 13 H7.5 L10.5 10 L13.5 13 H20.5"/></g></svg>
<div class="c" style="left:602.3px;top:632.6px;width:80px;font-size:12px;line-height:14px;color:#333">9:49AM</div>
<svg class="a" style="left:752.8px;top:581px" width="22" height="22" viewBox="-11 -11 22 22"><circle r="9.50" fill="#fff"/><path d="M0 -9.50 A9.50 9.50 0 0 0 0 9.50 A4.08 9.50 0 0 0 0 -9.50 Z" fill="#999"/><path d="M0 -9.50 A4.08 9.50 0 0 1 0 9.50" fill="none" stroke="#111" stroke-width="1.1"/><circle r="9.50" fill="none" stroke="#111" stroke-width="1.2"/></svg>
<svg class="a" style="left:752.3px;top:613px" width="21" height="17" viewBox="0 0 21 17"><g fill="none" stroke="#222" stroke-width="1.4"><path d="M4 9.6 A6.5 6.5 0 0 1 17 9.6"/><path d="M0.5 13 H7.5 L10.5 15.5 L13.5 13 H20.5"/></g></svg>
<div class="c" style="left:722.8px;top:632.6px;width:80px;font-size:12px;line-height:14px;color:#333">8:14PM</div>
<svg class="a" style="left:872.8px;top:533px" width="21" height="19" viewBox="0 0 21 19"><g fill="none" stroke="#222" stroke-width="1.4"><path d="M10.5 1.2 V3.6 M3.7 4.1 L5.5 5.9 M17.3 4.1 L15.5 5.9 M0.5 10.7 H3 M18 10.7 H20.5"/><path d="M5 11 A5.5 5.5 0 0 1 16 11"/><path d="M0.5 13.8 H7.6 L10.5 11.3 L13.4 13.8 H20.5"/></g></svg>
<div class="c" style="left:843.3px;top:553.8px;width:80px;font-size:12px;line-height:14px;color:#333">7:24AM</div>
<svg class="a" style="left:932.8px;top:533px" width="21" height="19" viewBox="0 0 21 19"><g fill="none" stroke="#222" stroke-width="1.4"><path d="M10.5 1.2 V3.6 M3.7 4.1 L5.5 5.9 M17.3 4.1 L15.5 5.9 M0.5 10.7 H3 M18 10.7 H20.5"/><path d="M5 11 A5.5 5.5 0 0 1 16 11"/><path d="M0.5 13.8 H7.6 L10.5 16.6 L13.4 13.8 H20.5"/></g></svg>
<div class="c" style="left:903.3px;top:553.8px;width:80px;font-size:12px;line-height:14px;color:#333">5:25PM</div>
<svg class="a" style="left:873.3px;top:581px" width="22" height="22" viewBox="-11 -11 22 22"><circle r="9.50" fill="#fff"/><path d="M0 -9.50 A9.50 9.50 0 0 0 0 9.50 A2.85 9.50 0 0 0 0 -9.50 Z" fill="#999"/><path d="M0 -9.50 A2.85 9.50 0 0 1 0 9.50" fill="none" stroke="#111" stroke-width="1.1"/><circle r="9.50" fill="none" stroke="#111" stroke-width="1.2"/></svg>
<svg class="a" style="left:872.8px;top:613px" width="21" height="17" viewBox="0 0 21 17"><g fill="none" stroke="#222" stroke-width="1.4"><path d="M4 9.6 A6.5 6.5 0 0 1 17 9.6"/><path d="M0.5 13 H7.5 L10.5 10 L13.5 13 H20.5"/></g></svg>
<div class="c" style="left:843.3px;top:632.6px;width:80px;font-size:12px;line-height:14px;color:#333">10:23AM</div>
<svg class="a" style="left:993.3px;top:581px" width="22" height="22" viewBox="-11 -11 22 22"><circle r="9.50" fill="#fff"/><path d="M0 -9.50 A9.50 9.50 0 0 0 0 9.50 A2.57 9.50 0 0 0 0 -9.50 Z" fill="#999"/><path d="M0 -9.50 A2.57 9.50 0 0 1 0 9.50" fill="none" stroke="#111" stroke-width="1.1"/><circle r="9.50" fill="none" stroke="#111" stroke-width="1.2"/></svg>
<svg class="a" style="left:992.8px;top:613px" width="21" height="17" viewBox="0 0 21 17"><g fill="none" stroke="#222" stroke-width="1.4"><path d="M4 9.6 A6.5 6.5 0 0 1 17 9.6"/><path d="M0.5 13 H7.5 L10.5 15.5 L13.5 13 H20.5"/></g></svg>
<div class="c" style="left:963.3px;top:632.6px;width:80px;font-size:12px;line-height:14px;color:#333">9:15PM</div>
<svg class="a" style="left:1112.8px;top:533px" width="21" height="19" viewBox="0 0 21 19"><g fill="none" stroke="#222" stroke-width="1.4"><path d="M10.5 1.2 V3.6 M3.7 4.1 L5.5 5.9 M17.3 4.1 L15.5 5.9 M0.5 10.7 H3 M18 10.7 H20.5"/><path d="M5 11 A5.5 5.5 0 0 1 16 11"/><path d="M0.5 13.8 H7.6 L10.5 11.3 L13.4 13.8 H20.5"/></g></svg>
<div class="c" style="left:1083.3px;top:553.8px;width:80px;font-size:12px;line-height:14px;color:#333">7:25AM</div>
<svg class="a" style="left:1173.3px;top:533px" width="21" height="19" viewBox="0 0 21 19"><g fill="none" stroke="#222" stroke-width="1.4"><path d="M10.5 1.2 V3.6 M3.7 4.1 L5.5 5.9 M17.3 4.1 L15.5 5.9 M0.5 10.7 H3 M18 10.7 H20.5"/><path d="M5 11 A5.5 5.5 0 0 1 16 11"/><path d="M0.5 13.8 H7.6 L10.5 16.6 L13.4 13.8 H20.5"/></g></svg>
<div class="c" style="left:1143.8px;top:553.8px;width:80px;font-size:12px;line-height:14px;color:#333">5:25PM</div>
<svg class="a" style="left:1113.3px;top:581px" width="22" height="22" viewBox="-11 -11 22 22"><circle r="9.50" fill="#fff"/><path d="M0 -9.50 A9.50 9.50 0 0 0 0 9.50 A2.28 9.50 0 0 0 0 -9.50 Z" fill="#999"/><path d="M0 -9.50 A2.28 9.50 0 0 1 0 9.50" fill="none" stroke="#111" stroke-width="1.1"/><circle r="9.50" fill="none" stroke="#111" stroke-width="1.2"/></svg>
<svg class="a" style="left:1112.8px;top:613px" width="21" height="17" viewBox="0 0 21 17"><g fill="none" stroke="#222" stroke-width="1.4"><path d="M4 9.6 A6.5 6.5 0 0 1 17 9.6"/><path d="M0.5 13 H7.5 L10.5 10 L13.5 13 H20.5"/></g></svg>
<div class="c" style="left:1083.3px;top:632.6px;width:80px;font-size:12px;line-height:14px;color:#333">10:53AM</div>
<svg class="a" style="left:1234.3px;top:581px" width="22" height="22" viewBox="-11 -11 22 22"><circle r="9.50" fill="#fff"/><path d="M0 -9.50 A9.50 9.50 0 0 0 0 9.50 A1.90 9.50 0 0 0 0 -9.50 Z" fill="#999"/><path d="M0 -9.50 A1.90 9.50 0 0 1 0 9.50" fill="none" stroke="#111" stroke-width="1.1"/><circle r="9.50" fill="none" stroke="#111" stroke-width="1.2"/></svg>
<svg class="a" style="left:1233.8px;top:613px" width="21" height="17" viewBox="0 0 21 17"><g fill="none" stroke="#222" stroke-width="1.4"><path d="M4 9.6 A6.5 6.5 0 0 1 17 9.6"/><path d="M0.5 13 H7.5 L10.5 15.5 L13.5 13 H20.5"/></g></svg>
<div class="c" style="left:1204.3px;top:632.6px;width:80px;font-size:12px;line-height:14px;color:#333">10:16PM</div>
<svg class="a" style="left:1358.8px;top:533px" width="21" height="19" viewBox="0 0 21 19"><g fill="none" stroke="#222" stroke-width="1.4"><path d="M10.5 1.2 V3.6 M3.7 4.1 L5.5 5.9 M17.3 4.1 L15.5 5.9 M0.5 10.7 H3 M18 10.7 H20.5"/><path d="M5 11 A5.5 5.5 0 0 1 16 11"/><path d="M0.5 13.8 H7.6 L10.5 11.3 L13.4 13.8 H20.5"/></g></svg>
<div class="c" style="left:1329.3px;top:553.8px;width:80px;font-size:12px;line-height:14px;color:#333">7:25AM</div>
<svg class="a" style="left:1418.8px;top:533px" width="21" height="19" viewBox="0 0 21 19"><g fill="none" stroke="#222" stroke-width="1.4"><path d="M10.5 1.2 V3.6 M3.7 4.1 L5.5 5.9 M17.3 4.1 L15.5 5.9 M0.5 10.7 H3 M18 10.7 H20.5"/><path d="M5 11 A5.5 5.5 0 0 1 16 11"/><path d="M0.5 13.8 H7.6 L10.5 16.6 L13.4 13.8 H20.5"/></g></svg>
<div class="c" style="left:1389.3px;top:553.8px;width:80px;font-size:12px;line-height:14px;color:#333">5:26PM</div>
<svg class="a" style="left:1359.3px;top:581px" width="22" height="22" viewBox="-11 -11 22 22"><circle r="9.50" fill="#fff"/><path d="M0 -9.50 A9.50 9.50 0 0 0 0 9.50 A0.95 9.50 0 0 0 0 -9.50 Z" fill="#999"/><path d="M0 -9.50 A0.95 9.50 0 0 1 0 9.50" fill="none" stroke="#111" stroke-width="1.1"/><circle r="9.50" fill="none" stroke="#111" stroke-width="1.2"/></svg>
<svg class="a" style="left:1358.8px;top:613px" width="21" height="17" viewBox="0 0 21 17"><g fill="none" stroke="#222" stroke-width="1.4"><path d="M4 9.6 A6.5 6.5 0 0 1 17 9.6"/><path d="M0.5 13 H7.5 L10.5 10 L13.5 13 H20.5"/></g></svg>
<div class="c" style="left:1329.3px;top:632.6px;width:80px;font-size:12px;line-height:14px;color:#333">11:22AM</div>
<svg class="a" style="left:1479.3px;top:581px" width="22" height="22" viewBox="-11 -11 22 22"><circle r="9.50" fill="#fff"/><path d="M0 -9.50 A9.50 9.50 0 0 0 0 9.50 A0.28 9.50 0 0 0 0 -9.50 Z" fill="#999"/><path d="M0 -9.50 A0.28 9.50 0 0 1 0 9.50" fill="none" stroke="#111" stroke-width="1.1"/><circle r="9.50" fill="none" stroke="#111" stroke-width="1.2"/></svg>
<svg class="a" style="left:1478.8px;top:613px" width="21" height="17" viewBox="0 0 21 17"><g fill="none" stroke="#222" stroke-width="1.4"><path d="M4 9.6 A6.5 6.5 0 0 1 17 9.6"/><path d="M0.5 13 H7.5 L10.5 15.5 L13.5 13 H20.5"/></g></svg>
<div class="c" style="left:1449.3px;top:632.6px;width:80px;font-size:12px;line-height:14px;color:#333">11:17PM</div>
<svg class="a" style="left:1598.8px;top:533px" width="21" height="19" viewBox="0 0 21 19"><g fill="none" stroke="#222" stroke-width="1.4"><path d="M10.5 1.2 V3.6 M3.7 4.1 L5.5 5.9 M17.3 4.1 L15.5 5.9 M0.5 10.7 H3 M18 10.7 H20.5"/><path d="M5 11 A5.5 5.5 0 0 1 16 11"/><path d="M0.5 13.8 H7.6 L10.5 11.3 L13.4 13.8 H20.5"/></g></svg>
<div class="c" style="left:1569.3px;top:553.8px;width:80px;font-size:12px;line-height:14px;color:#333">7:25AM</div>
<svg class="a" style="left:1658.8px;top:533px" width="21" height="19" viewBox="0 0 21 19"><g fill="none" stroke="#222" stroke-width="1.4"><path d="M10.5 1.2 V3.6 M3.7 4.1 L5.5 5.9 M17.3 4.1 L15.5 5.9 M0.5 10.7 H3 M18 10.7 H20.5"/><path d="M5 11 A5.5 5.5 0 0 1 16 11"/><path d="M0.5 13.8 H7.6 L10.5 16.6 L13.4 13.8 H20.5"/></g></svg>
<div class="c" style="left:1629.3px;top:553.8px;width:80px;font-size:12px;line-height:14px;color:#333">5:27PM</div>
<svg class="a" style="left:1599.3px;top:581px" width="22" height="22" viewBox="-11 -11 22 22"><circle r="9.50" fill="#fff"/><path d="M0 -9.50 A9.50 9.50 0 0 0 0 9.50 A0.28 9.50 0 0 1 0 -9.50 Z" fill="#999"/><path d="M0 -9.50 A0.28 9.50 0 0 0 0 9.50" fill="none" stroke="#111" stroke-width="1.1"/><circle r="9.50" fill="none" stroke="#111" stroke-width="1.2"/></svg>
<svg class="a" style="left:1598.8px;top:613px" width="21" height="17" viewBox="0 0 21 17"><g fill="none" stroke="#222" stroke-width="1.4"><path d="M4 9.6 A6.5 6.5 0 0 1 17 9.6"/><path d="M0.5 13 H7.5 L10.5 10 L13.5 13 H20.5"/></g></svg>
<div class="c" style="left:1569.3px;top:632.6px;width:80px;font-size:12px;line-height:14px;color:#333">11:49AM</div>
<div class="c" style="left:0;top:541.5px;width:69px;font-size:14px;line-height:17px;color:#333">Sun</div>
<svg class="a" style="left:0;top:527px" width="69" height="46" viewBox="0 527 69 46"><path d="M30.6 540.8 H39.2 L34.9 535.2Z M30.6 557.6 H39.2 L34.9 563.4Z" fill="#222"/></svg>
<div class="c" style="left:0;top:584px;width:69px;font-size:14px;line-height:17px;color:#333">Moon</div>
<div class="c" style="left:0;top:611.5px;width:69px;font-size:14px;line-height:17px;color:#333">Set</div>
<div class="c" style="left:0;top:632px;width:69px;font-size:14px;line-height:17px;color:#333">Rise</div>
<div class="a" style="left:0;top:651px;width:1752px;height:1px;background:#3a5f85"></div>
<div class="a" style="left:70px;top:652px;width:1682px;height:48px;background:#fff"></div>
<div class="a" style="left:0;top:652px;width:69px;height:108px;background:#f4f4f4"></div>
<div class="a" style="left:69px;top:652px;width:1px;height:48px;background:#6a6a6a"></div>
<div class="a" style="left:130px;top:652px;width:1px;height:48px;background:#ececec"></div>
<div class="a" style="left:190px;top:652px;width:1px;height:48px;background:#ececec"></div>
<div class="a" style="left:250px;top:652px;width:1px;height:48px;background:#ececec"></div>
<div class="a" style="left:310px;top:652px;width:1px;height:48px;background:#6a6a6a"></div>
<div class="a" style="left:370px;top:652px;width:1px;height:48px;background:#ececec"></div>
<div class="a" style="left:432px;top:652px;width:1px;height:48px;background:#ececec"></div>
<div class="a" style="left:492px;top:652px;width:1px;height:48px;background:#ececec"></div>
<div class="a" style="left:552px;top:652px;width:1px;height:48px;background:#6a6a6a"></div>
<div class="a" style="left:612px;top:652px;width:1px;height:48px;background:#ececec"></div>
<div class="a" style="left:672px;top:652px;width:1px;height:48px;background:#ececec"></div>
<div class="a" style="left:732px;top:652px;width:1px;height:48px;background:#ececec"></div>
<div class="a" style="left:793px;top:652px;width:1px;height:48px;background:#6a6a6a"></div>
<div class="a" style="left:853px;top:652px;width:1px;height:48px;background:#ececec"></div>
<div class="a" style="left:913px;top:652px;width:1px;height:48px;background:#ececec"></div>
<div class="a" style="left:973px;top:652px;width:1px;height:48px;background:#ececec"></div>
<div class="a" style="left:1033px;top:652px;width:1px;height:48px;background:#6a6a6a"></div>
<div class="a" style="left:1093px;top:652px;width:1px;height:48px;background:#ececec"></div>
<div class="a" style="left:1153px;top:652px;width:1px;height:48px;background:#ececec"></div>
<div class="a" style="left:1214px;top:652px;width:1px;height:48px;background:#ececec"></div>
<div class="a" style="left:1274px;top:652px;width:1px;height:48px;background:#6a6a6a"></div>
<div class="a" style="left:1339px;top:652px;width:1px;height:48px;background:#ececec"></div>
<div class="a" style="left:1399px;top:652px;width:1px;height:48px;background:#ececec"></div>
<div class="a" style="left:1459px;top:652px;width:1px;height:48px;background:#ececec"></div>
<div class="a" style="left:1519px;top:652px;width:1px;height:48px;background:#6a6a6a"></div>
<div class="a" style="left:1579px;top:652px;width:1px;height:48px;background:#ececec"></div>
<div class="a" style="left:1639px;top:652px;width:1px;height:48px;background:#ececec"></div>
<div class="a" style="left:1699px;top:652px;width:1px;height:48px;background:#ececec"></div>
<div class="c" style="left:0;top:658.5px;width:69px;font-size:14px;line-height:17px;color:#333">Wind<br>(<span style="color:#3a7fc0;text-decoration:underline">km/h</span>)</div>
<svg class="a" style="left:79.7px;top:656px" width="40" height="40" viewBox="-20 -20 40 40"><g transform="rotate(-45)"><path d="M-1.8 0 V14 H-7 L0 20 L7 14 H1.8 V0Z" fill="#000"/></g><circle r="10.5" fill="#000"/><text x="0" y="4.9" text-anchor="middle" font-size="13.5" fill="#2be82b" font-family="Liberation Sans" transform="scale(0.92,1)">20</text></svg>
<svg class="a" style="left:140.2px;top:656px" width="40" height="40" viewBox="-20 -20 40 40"><g transform="rotate(-30)"><path d="M-1.8 0 V14 H-7 L0 20 L7 14 H1.8 V0Z" fill="#000"/></g><circle r="10.5" fill="#000"/><text x="0" y="4.9" text-anchor="middle" font-size="13.5" fill="#f5e400" font-family="Liberation Sans" transform="scale(0.92,1)">50</text></svg>
<svg class="a" style="left:200.2px;top:656px" width="40" height="40" viewBox="-20 -20 40 40"><g transform="rotate(-25)"><path d="M-1.8 0 V14 H-7 L0 20 L7 14 H1.8 V0Z" fill="#000"/></g><circle r="10.5" fill="#000"/><text x="0" y="4.9" text-anchor="middle" font-size="13.5" fill="#f5e400" font-family="Liberation Sans" transform="scale(0.92,1)">45</text></svg>
<svg class="a" style="left:260.2px;top:656px" width="40" height="40" viewBox="-20 -20 40 40"><g transform="rotate(0)"><path d="M-1.8 0 V14 H-7 L0 20 L7 14 H1.8 V0Z" fill="#000"/></g><circle r="10.5" fill="#000"/><text x="0" y="4.9" text-anchor="middle" font-size="13.5" fill="#f5e400" font-family="Liberation Sans" transform="scale(0.92,1)">40</text></svg>
<svg class="a" style="left:320.2px;top:656px" width="40" height="40" viewBox="-20 -20 40 40"><g transform="rotate(0)"><path d="M-1.8 0 V14 H-7 L0 20 L7 14 H1.8 V0Z" fill="#000"/></g><circle r="10.5" fill="#000"/><text x="0" y="4.9" text-anchor="middle" font-size="13.5" fill="#f5e400" font-family="Liberation Sans" transform="scale(0.92,1)">40</text></svg>
<svg class="a" style="left:381.2px;top:656px" width="40" height="40" viewBox="-20 -20 40 40"><g transform="rotate(25)"><path d="M-1.8 0 V14 H-7 L0 20 L7 14 H1.8 V0Z" fill="#000"/></g><circle r="10.5" fill="#000"/><text x="0" y="4.9" text-anchor="middle" font-size="13.5" fill="#2be82b" font-family="Liberation Sans" transform="scale(0.92,1)">30</text></svg>
<svg class="a" style="left:442.2px;top:656px" width="40" height="40" viewBox="-20 -20 40 40"><g transform="rotate(45)"><path d="M-1.8 0 V14 H-7 L0 20 L7 14 H1.8 V0Z" fill="#000"/></g><circle r="10.5" fill="#000"/><text x="0" y="4.9" text-anchor="middle" font-size="13.5" fill="#2be82b" font-family="Liberation Sans" transform="scale(0.92,1)">35</text></svg>
<svg class="a" style="left:502.2px;top:656px" width="40" height="40" viewBox="-20 -20 40 40"><g transform="rotate(45)"><path d="M-1.8 0 V14 H-7 L0 20 L7 14 H1.8 V0Z" fill="#000"/></g><circle r="10.5" fill="#000"/><text x="0" y="4.9" text-anchor="middle" font-size="13.5" fill="#2be82b" font-family="Liberation Sans" transform="scale(0.92,1)">20</text></svg>
<svg class="a" style="left:562.2px;top:656px" width="40" height="40" viewBox="-20 -20 40 40"><g transform="rotate(45)"><path d="M-1.8 0 V14 H-7 L0 20 L7 14 H1.8 V0Z" fill="#000"/></g><circle r="10.5" fill="#000"/><text x="0" y="4.9" text-anchor="middle" font-size="13.5" fill="#2be82b" font-family="Liberation Sans" transform="scale(0.92,1)">20</text></svg>
<svg class="a" style="left:622.2px;top:656px" width="40" height="40" viewBox="-20 -20 40 40"><g transform="rotate(135)"><path d="M-1.8 0 V14 H-7 L0 20 L7 14 H1.8 V0Z" fill="#000"/></g><circle r="10.5" fill="#000"/><text x="0" y="4.9" text-anchor="middle" font-size="13.5" fill="#fff" font-family="Liberation Sans" transform="scale(0.92,1)">15</text></svg>
<svg class="a" style="left:682.2px;top:656px" width="40" height="40" viewBox="-20 -20 40 40"><g transform="rotate(160)"><path d="M-1.8 0 V14 H-7 L0 20 L7 14 H1.8 V0Z" fill="#000"/></g><circle r="10.5" fill="#000"/><text x="0" y="4.9" text-anchor="middle" font-size="13.5" fill="#f5e400" font-family="Liberation Sans" transform="scale(0.92,1)">40</text></svg>
<svg class="a" style="left:742.7px;top:656px" width="40" height="40" viewBox="-20 -20 40 40"><g transform="rotate(-150)"><path d="M-1.8 0 V14 H-7 L0 20 L7 14 H1.8 V0Z" fill="#000"/></g><circle r="10.5" fill="#000"/><text x="0" y="4.9" text-anchor="middle" font-size="13.5" fill="#2be82b" font-family="Liberation Sans" transform="scale(0.92,1)">35</text></svg>
<svg class="a" style="left:803.2px;top:656px" width="40" height="40" viewBox="-20 -20 40 40"><g transform="rotate(-150)"><path d="M-1.8 0 V14 H-7 L0 20 L7 14 H1.8 V0Z" fill="#000"/></g><circle r="10.5" fill="#000"/><text x="0" y="4.9" text-anchor="middle" font-size="13.5" fill="#2be82b" font-family="Liberation Sans" transform="scale(0.92,1)">35</text></svg>
<svg class="a" style="left:863.2px;top:656px" width="40" height="40" viewBox="-20 -20 40 40"><g transform="rotate(-45)"><path d="M-1.8 0 V14 H-7 L0 20 L7 14 H1.8 V0Z" fill="#000"/></g><circle r="10.5" fill="#000"/><text x="0" y="4.9" text-anchor="middle" font-size="13.5" fill="#f5e400" font-family="Liberation Sans" transform="scale(0.92,1)">40</text></svg>
<svg class="a" style="left:923.2px;top:656px" width="40" height="40" viewBox="-20 -20 40 40"><g transform="rotate(-45)"><path d="M-1.8 0 V14 H-7 L0 20 L7 14 H1.8 V0Z" fill="#000"/></g><circle r="10.5" fill="#000"/><text x="0" y="4.9" text-anchor="middle" font-size="13.5" fill="#f5e400" font-family="Liberation Sans" transform="scale(0.92,1)">40</text></svg>
<svg class="a" style="left:983.2px;top:656px" width="40" height="40" viewBox="-20 -20 40 40"><g transform="rotate(-25)"><path d="M-1.8 0 V14 H-7 L0 20 L7 14 H1.8 V0Z" fill="#000"/></g><circle r="10.5" fill="#000"/><text x="0" y="4.9" text-anchor="middle" font-size="13.5" fill="#f5e400" font-family="Liberation Sans" transform="scale(0.92,1)">40</text></svg>
<svg class="a" style="left:1043.2px;top:656px" width="40" height="40" viewBox="-20 -20 40 40"><g transform="rotate(-25)"><path d="M-1.8 0 V14 H-7 L0 20 L7 14 H1.8 V0Z" fill="#000"/></g><circle r="10.5" fill="#000"/><text x="0" y="4.9" text-anchor="middle" font-size="13.5" fill="#f5e400" font-family="Liberation Sans" transform="scale(0.92,1)">40</text></svg>
<svg class="a" style="left:1103.2px;top:656px" width="40" height="40" viewBox="-20 -20 40 40"><g transform="rotate(-25)"><path d="M-1.8 0 V14 H-7 L0 20 L7 14 H1.8 V0Z" fill="#000"/></g><circle r="10.5" fill="#000"/><text x="0" y="4.9" text-anchor="middle" font-size="13.5" fill="#2be82b" font-family="Liberation Sans" transform="scale(0.92,1)">35</text></svg>
<svg class="a" style="left:1163.7px;top:656px" width="40" height="40" viewBox="-20 -20 40 40"><g transform="rotate(-30)"><path d="M-1.8 0 V14 H-7 L0 20 L7 14 H1.8 V0Z" fill="#000"/></g><circle r="10.5" fill="#000"/><text x="0" y="4.9" text-anchor="middle" font-size="13.5" fill="#f5e400" font-family="Liberation Sans" transform="scale(0.92,1)">50</text></svg>
<svg class="a" style="left:1224.2px;top:656px" width="40" height="40" viewBox="-20 -20 40 40"><g transform="rotate(-30)"><path d="M-1.8 0 V14 H-7 L0 20 L7 14 H1.8 V0Z" fill="#000"/></g><circle r="10.5" fill="#000"/><text x="0" y="4.9" text-anchor="middle" font-size="13.5" fill="#f5e400" font-family="Liberation Sans" transform="scale(0.92,1)">50</text></svg>
<svg class="a" style="left:1286.7px;top:656px" width="40" height="40" viewBox="-20 -20 40 40"><g transform="rotate(-30)"><path d="M-1.8 0 V14 H-7 L0 20 L7 14 H1.8 V0Z" fill="#000"/></g><circle r="10.5" fill="#000"/><text x="0" y="4.9" text-anchor="middle" font-size="13.5" fill="#f5e400" font-family="Liberation Sans" transform="scale(0.92,1)">50</text></svg>
<svg class="a" style="left:1349.2px;top:656px" width="40" height="40" viewBox="-20 -20 40 40"><g transform="rotate(-30)"><path d="M-1.8 0 V14 H-7 L0 20 L7 14 H1.8 V0Z" fill="#000"/></g><circle r="10.5" fill="#000"/><text x="0" y="4.9" text-anchor="middle" font-size="13.5" fill="#f5e400" font-family="Liberation Sans" transform="scale(0.92,1)">45</text></svg>
<svg class="a" style="left:1409.2px;top:656px" width="40" height="40" viewBox="-20 -20 40 40"><g transform="rotate(-30)"><path d="M-1.8 0 V14 H-7 L0 20 L7 14 H1.8 V0Z" fill="#000"/></g><circle r="10.5" fill="#000"/><text x="0" y="4.9" text-anchor="middle" font-size="13.5" fill="#f5e400" font-family="Liberation Sans" transform="scale(0.92,1)">40</text></svg>
<svg class="a" style="left:1469.2px;top:656px" width="40" height="40" viewBox="-20 -20 40 40"><g transform="rotate(0)"><path d="M-1.8 0 V14 H-7 L0 20 L7 14 H1.8 V0Z" fill="#000"/></g><circle r="10.5" fill="#000"/><text x="0" y="4.9" text-anchor="middle" font-size="13.5" fill="#2be82b" font-family="Liberation Sans" transform="scale(0.92,1)">25</text></svg>
<svg class="a" style="left:1529.2px;top:656px" width="40" height="40" viewBox="-20 -20 40 40"><g transform="rotate(0)"><path d="M-1.8 0 V14 H-7 L0 20 L7 14 H1.8 V0Z" fill="#000"/></g><circle r="10.5" fill="#000"/><text x="0" y="4.9" text-anchor="middle" font-size="13.5" fill="#2be82b" font-family="Liberation Sans" transform="scale(0.92,1)">25</text></svg>
<svg class="a" style="left:1589.2px;top:656px" width="40" height="40" viewBox="-20 -20 40 40"><g transform="rotate(-30)"><path d="M-1.8 0 V14 H-7 L0 20 L7 14 H1.8 V0Z" fill="#000"/></g><circle r="10.5" fill="#000"/><text x="0" y="4.9" text-anchor="middle" font-size="13.5" fill="#2be82b" font-family="Liberation Sans" transform="scale(0.92,1)">25</text></svg>
<svg class="a" style="left:1649.2px;top:656px" width="40" height="40" viewBox="-20 -20 40 40"><g transform="rotate(0)"><path d="M-1.8 0 V14 H-7 L0 20 L7 14 H1.8 V0Z" fill="#000"/></g><circle r="10.5" fill="#000"/><text x="0" y="4.9" text-anchor="middle" font-size="13.5" fill="#2be82b" font-family="Liberation Sans" transform="scale(0.92,1)">25</text></svg>
<svg class="a" style="left:1709.2px;top:656px" width="40" height="40" viewBox="-20 -20 40 40"><g transform="rotate(-30)"><path d="M-1.8 0 V14 H-7 L0 20 L7 14 H1.8 V0Z" fill="#000"/></g><circle r="10.5" fill="#000"/><text x="0" y="4.9" text-anchor="middle" font-size="13.5" fill="#2be82b" font-family="Liberation Sans" transform="scale(0.92,1)">25</text></svg>
<svg width="0" height="0" style="position:absolute"><defs>
<linearGradient id="gsky" x1="0" y1="0" x2="0" y2="1"><stop offset="0" stop-color="#5a6db2"/><stop offset="1" stop-color="#b1bbd8"/></linearGradient>
<linearGradient id="gov" x1="0" y1="0" x2="0" y2="1"><stop offset="0" stop-color="#636a76"/><stop offset="0.45" stop-color="#a9acb3"/><stop offset="1" stop-color="#d8d8dc"/></linearGradient>
<linearGradient id="govr" x1="0" y1="0" x2="0" y2="1"><stop offset="0" stop-color="#5c6574"/><stop offset="1" stop-color="#7d8898"/></linearGradient>
<radialGradient id="gsun" cx="0.5" cy="0.5" r="0.55"><stop offset="0" stop-color="#f8e27c"/><stop offset="1" stop-color="#ecc22f"/></radialGradient>
<radialGradient id="gglow" cx="0.5" cy="0.5" r="0.5"><stop offset="0.5" stop-color="#fff3a8" stop-opacity="1"/><stop offset="0.75" stop-color="#f3d65a" stop-opacity="0.55"/><stop offset="1" stop-color="#f3d65a" stop-opacity="0"/></radialGradient>
<radialGradient id="gmoon" cx="0.35" cy="0.45" r="0.7"><stop offset="0" stop-color="#eeecb8"/><stop offset="0.6" stop-color="#e6e4ac"/><stop offset="1" stop-color="#cfcc8e"/></radialGradient>
<linearGradient id="gcl" x1="0" y1="0" x2="0" y2="1"><stop offset="0" stop-color="#f5f5f8"/><stop offset="0.55" stop-color="#d0d1d6"/><stop offset="1" stop-color="#8c8e96"/></linearGradient>
<linearGradient id="gcb" x1="0" y1="0" x2="0" y2="1"><stop offset="0" stop-color="#a4a6ad"/><stop offset="1" stop-color="#6f727b"/></linearGradient>
<filter id="blur1" x="-20%" y="-20%" width="140%" height="140%"><feGaussianBlur stdDeviation="1.6"/></filter>
<g id="sunbig"><path d="M30.00 5.00 L32.44 17.74 L39.57 6.90 L36.94 19.61 L47.68 12.32 L40.39 23.06 L53.10 20.43 L42.26 27.56 L55.00 30.00 L42.26 32.44 L53.10 39.57 L40.39 36.94 L47.68 47.68 L36.94 40.39 L39.57 53.10 L32.44 42.26 L30.00 55.00 L27.56 42.26 L20.43 53.10 L23.06 40.39 L12.32 47.68 L19.61 36.94 L6.90 39.57 L17.74 32.44 L5.00 30.00 L17.74 27.56 L6.90 20.43 L19.61 23.06 L12.32 12.32 L23.06 19.61 L20.43 6.90 L27.56 17.74Z" fill="#f0cd3c"/><path d="M32.35 12.15 L33.75 15.99 L36.89 13.37 L37.25 17.44 L40.96 15.72 L40.25 19.75 L44.28 19.04 L42.56 22.75 L46.63 23.11 L44.01 26.25 L47.85 27.65 L44.50 30.00 L47.85 32.35 L44.01 33.75 L46.63 36.89 L42.56 37.25 L44.28 40.96 L40.25 40.25 L40.96 44.28 L37.25 42.56 L36.89 46.63 L33.75 44.01 L32.35 47.85 L30.00 44.50 L27.65 47.85 L26.25 44.01 L23.11 46.63 L22.75 42.56 L19.04 44.28 L19.75 40.25 L15.72 40.96 L17.44 37.25 L13.37 36.89 L15.99 33.75 L12.15 32.35 L15.50 30.00 L12.15 27.65 L15.99 26.25 L13.37 23.11 L17.44 22.75 L15.72 19.04 L19.75 19.75 L19.04 15.72 L22.75 17.44 L23.11 13.37 L26.25 15.99 L27.65 12.15 L30.00 15.50Z" fill="#fff"/><circle cx="30" cy="30" r="14.6" fill="url(#gsun)"/></g>
<g id="cloudA"><linearGradient id="cg1" gradientUnits="userSpaceOnUse" x1="0" y1="7.0" x2="0" y2="31.0"><stop offset="0" stop-color="#f0f0f4"/><stop offset="0.38" stop-color="#dadbe0"/><stop offset="0.62" stop-color="#a6a8af"/><stop offset="1" stop-color="#6e7179"/></linearGradient><g fill="#8a8c93"><rect x="15.4" y="15.4" width="41.2" height="16.2" rx="8.1"/><ellipse cx="24.0" cy="15.0" rx="8.6" ry="6.6"/><ellipse cx="35.0" cy="12.0" rx="8.6" ry="5.6"/><ellipse cx="46.0" cy="17.0" rx="7.6" ry="5.6"/></g><g fill="url(#cg1)"><rect x="16.0" y="16.0" width="40.0" height="15.0" rx="7.5"/><ellipse cx="24.0" cy="15.0" rx="8.0" ry="6.0"/><ellipse cx="35.0" cy="12.0" rx="8.0" ry="5.0"/><ellipse cx="46.0" cy="17.0" rx="7.0" ry="5.0"/></g><linearGradient id="cg2" gradientUnits="userSpaceOnUse" x1="0" y1="14.0" x2="0" y2="37.0"><stop offset="0" stop-color="#f0f0f4"/><stop offset="0.38" stop-color="#dadbe0"/><stop offset="0.62" stop-color="#a6a8af"/><stop offset="1" stop-color="#6e7179"/></linearGradient><g fill="#8a8c93"><rect x="13.4" y="21.4" width="33.2" height="16.2" rx="8.1"/><ellipse cx="21.0" cy="22.0" rx="7.6" ry="6.1"/><ellipse cx="31.0" cy="19.0" rx="8.6" ry="5.6"/><ellipse cx="40.0" cy="23.0" rx="6.6" ry="4.6"/></g><g fill="url(#cg2)"><rect x="14.0" y="22.0" width="32.0" height="15.0" rx="7.5"/><ellipse cx="21.0" cy="22.0" rx="7.0" ry="5.5"/><ellipse cx="31.0" cy="19.0" rx="8.0" ry="5.0"/><ellipse cx="40.0" cy="23.0" rx="6.0" ry="4.0"/></g><linearGradient id="cg3" gradientUnits="userSpaceOnUse" x1="0" y1="19.0" x2="0" y2="37.0"><stop offset="0" stop-color="#f0f0f4"/><stop offset="0.38" stop-color="#dadbe0"/><stop offset="0.62" stop-color="#a6a8af"/><stop offset="1" stop-color="#6e7179"/></linearGradient><g fill="#8a8c93"><rect x="28.4" y="26.4" width="36.2" height="11.2" rx="5.6"/><ellipse cx="38.0" cy="26.0" rx="7.6" ry="6.1"/><ellipse cx="49.0" cy="24.0" rx="7.6" ry="5.6"/><ellipse cx="58.0" cy="27.0" rx="5.6" ry="4.6"/></g><g fill="url(#cg3)"><rect x="29.0" y="27.0" width="35.0" height="10.0" rx="5.0"/><ellipse cx="38.0" cy="26.0" rx="7.0" ry="5.5"/><ellipse cx="49.0" cy="24.0" rx="7.0" ry="5.0"/><ellipse cx="58.0" cy="27.0" rx="5.0" ry="4.0"/></g></g>
<g id="moonb"><circle cx="0" cy="0" r="14" fill="url(#gmoon)"/><g fill="#d3d08e" opacity="0.75"><circle cx="-8.8" cy="-3.1" r="1.8"/><circle cx="-0.5" cy="-5.1" r="2.3"/><circle cx="4.9" cy="-0.6" r="2.2"/><circle cx="-0.9" cy="4.9" r="2.3"/><circle cx="-3" cy="2.4" r="1.5"/></g></g>
<g id="ovclouds"><linearGradient id="cg4" gradientUnits="userSpaceOnUse" x1="0" y1="1.0" x2="0" y2="24.0"><stop offset="0" stop-color="#f0f0f4"/><stop offset="0.38" stop-color="#dadbe0"/><stop offset="0.62" stop-color="#a6a8af"/><stop offset="1" stop-color="#6e7179"/></linearGradient><g fill="#8a8c93"><rect x="-6.6" y="7.4" width="39.2" height="17.2" rx="8.6"/><ellipse cx="5.0" cy="9.0" rx="8.6" ry="6.1"/><ellipse cx="15.0" cy="6.0" rx="8.6" ry="5.6"/><ellipse cx="25.0" cy="9.0" rx="6.6" ry="5.1"/></g><g fill="url(#cg4)"><rect x="-6.0" y="8.0" width="38.0" height="16.0" rx="8.0"/><ellipse cx="5.0" cy="9.0" rx="8.0" ry="5.5"/><ellipse cx="15.0" cy="6.0" rx="8.0" ry="5.0"/><ellipse cx="25.0" cy="9.0" rx="6.0" ry="4.5"/></g><linearGradient id="cg5" gradientUnits="userSpaceOnUse" x1="0" y1="4.5" x2="0" y2="27.0"><stop offset="0" stop-color="#f0f0f4"/><stop offset="0.38" stop-color="#dadbe0"/><stop offset="0.62" stop-color="#a6a8af"/><stop offset="1" stop-color="#6e7179"/></linearGradient><g fill="#8a8c93"><rect x="26.4" y="11.4" width="42.2" height="16.2" rx="8.1"/><ellipse cx="36.0" cy="14.0" rx="7.6" ry="5.6"/><ellipse cx="46.0" cy="11.0" rx="8.6" ry="6.1"/><ellipse cx="57.0" cy="10.0" rx="8.6" ry="6.1"/></g><g fill="url(#cg5)"><rect x="27.0" y="12.0" width="41.0" height="15.0" rx="7.5"/><ellipse cx="36.0" cy="14.0" rx="7.0" ry="5.0"/><ellipse cx="46.0" cy="11.0" rx="8.0" ry="5.5"/><ellipse cx="57.0" cy="10.0" rx="8.0" ry="5.5"/></g><linearGradient id="cg6" gradientUnits="userSpaceOnUse" x1="0" y1="9.0" x2="0" y2="30.0"><stop offset="0" stop-color="#f0f0f4"/><stop offset="0.38" stop-color="#dadbe0"/><stop offset="0.62" stop-color="#a6a8af"/><stop offset="1" stop-color="#6e7179"/></linearGradient><g fill="#8a8c93"><rect x="-6.6" y="14.4" width="39.2" height="16.2" rx="8.1"/><ellipse cx="6.0" cy="16.0" rx="8.6" ry="6.1"/><ellipse cx="18.0" cy="14.0" rx="8.6" ry="5.6"/><ellipse cx="27.0" cy="17.0" rx="6.6" ry="4.6"/></g><g fill="url(#cg6)"><rect x="-6.0" y="15.0" width="38.0" height="15.0" rx="7.5"/><ellipse cx="6.0" cy="16.0" rx="8.0" ry="5.5"/><ellipse cx="18.0" cy="14.0" rx="8.0" ry="5.0"/><ellipse cx="27.0" cy="17.0" rx="6.0" ry="4.0"/></g><linearGradient id="cg7" gradientUnits="userSpaceOnUse" x1="0" y1="15.5" x2="0" y2="36.0"><stop offset="0" stop-color="#f0f0f4"/><stop offset="0.38" stop-color="#dadbe0"/><stop offset="0.62" stop-color="#a6a8af"/><stop offset="1" stop-color="#6e7179"/></linearGradient><g fill="#8a8c93"><rect x="5.0" y="23.4" width="47.0" height="13.2" rx="6.6"/><ellipse cx="15.0" cy="25.0" rx="9.6" ry="7.6"/><ellipse cx="28.0" cy="22.0" rx="10.6" ry="7.1"/><ellipse cx="40.0" cy="25.0" rx="9.6" ry="6.6"/></g><g fill="url(#cg7)"><rect x="5.6" y="24.0" width="45.8" height="12.0" rx="6.0"/><ellipse cx="15.0" cy="25.0" rx="9.0" ry="7.0"/><ellipse cx="28.0" cy="22.0" rx="10.0" ry="6.5"/><ellipse cx="40.0" cy="25.0" rx="9.0" ry="6.0"/></g></g>
</defs></svg>
<div class="a" style="left:70px;top:700px;width:59px;height:59px;overflow:hidden"><svg width="59" height="59" viewBox="0 0 59 59"><rect width="59" height="59" fill="#0b0b10"/><g transform="translate(17.1,19) scale(0.915)"><use href="#moonb"/></g><use href="#cloudA"/><g stroke="#6e6a80" stroke-width="1.3" stroke-linecap="round"><path d="M23.5 40.5 l-3.8 7.5"/><path d="M38.5 40.5 l-3.8 7.5"/><path d="M53.5 40.5 l-3.8 7.5"/><path d="M27.0 50.0 l-3.8 7.5"/><path d="M42.0 50.0 l-3.8 7.5"/></g></svg></div>
<div class="a" style="left:131px;top:700px;width:59px;height:59px;overflow:hidden"><svg width="59" height="59" viewBox="0 0 59 59"><rect width="59" height="59" fill="url(#gsky)"/><use href="#sunbig" transform="translate(-0.6,-0.7)"/></svg></div>
<div class="a" style="left:191px;top:700px;width:59px;height:59px;overflow:hidden"><svg width="59" height="59" viewBox="0 0 59 59"><rect width="59" height="59" fill="url(#gsky)"/><path d="M28.00 4.00 L30.93 14.29 L37.57 5.90 L36.33 16.53 L45.68 11.32 L40.47 20.67 L51.10 19.43 L42.71 26.07 L53.00 29.00 L42.71 31.93 L51.10 38.57 L40.47 37.33 L45.68 46.68 L36.33 41.47 L37.57 52.10 L30.93 43.71 L28.00 54.00 L25.07 43.71 L18.43 52.10 L19.67 41.47 L10.32 46.68 L15.53 37.33 L4.90 38.57 L13.29 31.93 L3.00 29.00 L13.29 26.07 L4.90 19.43 L15.53 20.67 L10.32 11.32 L19.67 16.53 L18.43 5.90 L25.07 14.29Z" fill="#f3d962" opacity="0.75" filter="url(#blur1)"/><circle cx="28" cy="29" r="19" fill="url(#gglow)"/><circle cx="28" cy="29" r="14.1" fill="url(#gsun)"/><g transform="translate(9,14)"><use href="#cloudA"/></g></svg></div>
<div class="a" style="left:251px;top:700px;width:59px;height:59px;overflow:hidden"><svg width="59" height="59" viewBox="0 0 59 59"><rect width="59" height="59" fill="#0b0b10"/><g transform="translate(19.8,22.1)"><use href="#moonb"/></g><g fill="#8a8a8a"><circle cx="39" cy="8" r="1.1"/><circle cx="41" cy="20.5" r="1"/><circle cx="15.6" cy="45.5" r="1.1"/><circle cx="33.4" cy="49.5" r="1"/></g></svg></div>
<div class="a" style="left:311px;top:700px;width:59px;height:59px;overflow:hidden"><svg width="59" height="59" viewBox="0 0 59 59"><rect width="59" height="59" fill="#0b0b10"/><g transform="translate(19.8,22.1)"><use href="#moonb"/></g><g fill="#8a8a8a"><circle cx="39" cy="8" r="1.1"/><circle cx="41" cy="20.5" r="1"/><circle cx="15.6" cy="45.5" r="1.1"/><circle cx="33.4" cy="49.5" r="1"/></g></svg></div>
<div class="a" style="left:372px;top:700px;width:59px;height:59px;overflow:hidden"><svg width="59" height="59" viewBox="0 0 59 59"><rect width="59" height="59" fill="url(#gsky)"/><use href="#sunbig" transform="translate(-0.6,-0.7)"/></svg></div>
<div class="a" style="left:433px;top:700px;width:59px;height:59px;overflow:hidden"><svg width="59" height="59" viewBox="0 0 59 59"><rect width="59" height="59" fill="url(#gsky)"/><path d="M28.00 4.00 L30.93 14.29 L37.57 5.90 L36.33 16.53 L45.68 11.32 L40.47 20.67 L51.10 19.43 L42.71 26.07 L53.00 29.00 L42.71 31.93 L51.10 38.57 L40.47 37.33 L45.68 46.68 L36.33 41.47 L37.57 52.10 L30.93 43.71 L28.00 54.00 L25.07 43.71 L18.43 52.10 L19.67 41.47 L10.32 46.68 L15.53 37.33 L4.90 38.57 L13.29 31.93 L3.00 29.00 L13.29 26.07 L4.90 19.43 L15.53 20.67 L10.32 11.32 L19.67 16.53 L18.43 5.90 L25.07 14.29Z" fill="#f3d962" opacity="0.75" filter="url(#blur1)"/><circle cx="28" cy="29" r="19" fill="url(#gglow)"/><circle cx="28" cy="29" r="14.1" fill="url(#gsun)"/><g transform="translate(9,14)"><use href="#cloudA"/></g></svg></div>
<div class="a" style="left:493px;top:700px;width:59px;height:59px;overflow:hidden"><svg width="59" height="59" viewBox="0 0 59 59"><rect width="59" height="59" fill="#0b0b10"/><g transform="translate(19.8,22.1)"><use href="#moonb"/></g><g fill="#8a8a8a"><circle cx="39" cy="8" r="1.1"/><circle cx="41" cy="20.5" r="1"/><circle cx="15.6" cy="45.5" r="1.1"/><circle cx="33.4" cy="49.5" r="1"/></g></svg></div>
<div class="a" style="left:553px;top:700px;width:59px;height:59px;overflow:hidden"><svg width="59" height="59" viewBox="0 0 59 59"><rect width="59" height="59" fill="#0b0b10"/><g transform="translate(19.8,22.1)"><use href="#moonb"/></g><g fill="#8a8a8a"><circle cx="39" cy="8" r="1.1"/><circle cx="41" cy="20.5" r="1"/><circle cx="15.6" cy="45.5" r="1.1"/><circle cx="33.4" cy="49.5" r="1"/></g></svg></div>
<div class="a" style="left:613px;top:700px;width:59px;height:59px;overflow:hidden"><svg width="59" height="59" viewBox="0 0 59 59"><rect width="59" height="59" fill="url(#gov)"/><use href="#ovclouds"/></svg></div>
<div class="a" style="left:673px;top:700px;width:59px;height:59px;overflow:hidden"><svg width="59" height="59" viewBox="0 0 59 59"><rect width="59" height="59" fill="url(#govr)"/><use href="#ovclouds"/><g stroke="#e4e0ee" stroke-width="1.3" stroke-linecap="round"><path d="M16.0 39.0 l-3.8 7.5"/><path d="M44.0 39.0 l-3.8 7.5"/><path d="M30.0 47.0 l-3.8 7.5"/></g></svg></div>
<div class="a" style="left:733px;top:700px;width:59px;height:59px;overflow:hidden"><svg width="59" height="59" viewBox="0 0 59 59"><rect width="59" height="59" fill="#0b0b10"/><use href="#ovclouds"/><g stroke="#77708a" stroke-width="1.2" stroke-linecap="round"><path d="M7.0 39.0 l-3.8 7.5"/><path d="M21.0 39.0 l-3.8 7.5"/><path d="M35.0 39.0 l-3.8 7.5"/><path d="M49.0 39.0 l-3.8 7.5"/><path d="M14.0 46.0 l-3.8 7.5"/><path d="M28.0 46.0 l-3.8 7.5"/><path d="M42.0 46.0 l-3.8 7.5"/><path d="M56.0 46.0 l-3.8 7.5"/><path d="M3.0 52.0 l-3.8 7.5"/><path d="M17.0 53.0 l-3.8 7.5"/><path d="M31.0 53.0 l-3.8 7.5"/><path d="M45.0 53.0 l-3.8 7.5"/></g></svg></div>
<div class="a" style="left:794px;top:700px;width:59px;height:59px;overflow:hidden"><svg width="59" height="59" viewBox="0 0 59 59"><rect width="59" height="59" fill="#0b0b10"/><use href="#ovclouds"/><g stroke="#77708a" stroke-width="1.2" stroke-linecap="round"><path d="M7.0 39.0 l-3.8 7.5"/><path d="M21.0 39.0 l-3.8 7.5"/><path d="M35.0 39.0 l-3.8 7.5"/><path d="M49.0 39.0 l-3.8 7.5"/><path d="M14.0 46.0 l-3.8 7.5"/><path d="M28.0 46.0 l-3.8 7.5"/><path d="M42.0 46.0 l-3.8 7.5"/><path d="M56.0 46.0 l-3.8 7.5"/><path d="M3.0 52.0 l-3.8 7.5"/><path d="M17.0 53.0 l-3.8 7.5"/><path d="M31.0 53.0 l-3.8 7.5"/><path d="M45.0 53.0 l-3.8 7.5"/></g></svg></div>
<div class="a" style="left:854px;top:700px;width:59px;height:59px;overflow:hidden"><svg width="59" height="59" viewBox="0 0 59 59"><rect width="59" height="59" fill="url(#gov)"/><use href="#ovclouds"/></svg></div>
<div class="a" style="left:914px;top:700px;width:59px;height:59px;overflow:hidden"><svg width="59" height="59" viewBox="0 0 59 59"><rect width="59" height="59" fill="url(#gov)"/><use href="#ovclouds"/></svg></div>
<div class="a" style="left:974px;top:700px;width:59px;height:59px;overflow:hidden"><svg width="59" height="59" viewBox="0 0 59 59"><rect width="59" height="59" fill="#0b0b10"/><use href="#ovclouds"/></svg></div>
<div class="a" style="left:1034px;top:700px;width:59px;height:59px;overflow:hidden"><svg width="59" height="59" viewBox="0 0 59 59"><rect width="59" height="59" fill="#0b0b10"/><use href="#ovclouds"/></svg></div>
<div class="a" style="left:1094px;top:700px;width:59px;height:59px;overflow:hidden"><svg width="59" height="59" viewBox="0 0 59 59"><rect width="59" height="59" fill="url(#gov)"/><use href="#ovclouds"/></svg></div>
<div class="a" style="left:1154px;top:700px;width:59px;height:59px;overflow:hidden"><svg width="59" height="59" viewBox="0 0 59 59"><rect width="59" height="59" fill="url(#gov)"/><use href="#ovclouds"/></svg></div>
<div class="a" style="left:1215px;top:700px;width:59px;height:59px;overflow:hidden"><svg width="59" height="59" viewBox="0 0 59 59"><rect width="59" height="59" fill="#0b0b10"/><g transform="translate(20.2,22.1)"><use href="#moonb"/></g><g transform="translate(5,9)"><use href="#cloudA"/></g></svg></div>
<div class="a" style="left:1277px;top:700px;width:59px;height:59px;overflow:hidden"><svg width="59" height="59" viewBox="0 0 59 59"><rect width="59" height="59" fill="#0b0b10"/><g transform="translate(20.2,22.1)"><use href="#moonb"/></g><g transform="translate(5,9)"><use href="#cloudA"/></g></svg></div>
<div class="a" style="left:1340px;top:700px;width:59px;height:59px;overflow:hidden"><svg width="59" height="59" viewBox="0 0 59 59"><rect width="59" height="59" fill="url(#gov)"/><use href="#ovclouds"/></svg></div>
<div class="a" style="left:1400px;top:700px;width:59px;height:59px;overflow:hidden"><svg width="59" height="59" viewBox="0 0 59 59"><rect width="59" height="59" fill="url(#gsky)"/><path d="M28.00 4.00 L30.93 14.29 L37.57 5.90 L36.33 16.53 L45.68 11.32 L40.47 20.67 L51.10 19.43 L42.71 26.07 L53.00 29.00 L42.71 31.93 L51.10 38.57 L40.47 37.33 L45.68 46.68 L36.33 41.47 L37.57 52.10 L30.93 43.71 L28.00 54.00 L25.07 43.71 L18.43 52.10 L19.67 41.47 L10.32 46.68 L15.53 37.33 L4.90 38.57 L13.29 31.93 L3.00 29.00 L13.29 26.07 L4.90 19.43 L15.53 20.67 L10.32 11.32 L19.67 16.53 L18.43 5.90 L25.07 14.29Z" fill="#f3d962" opacity="0.75" filter="url(#blur1)"/><circle cx="28" cy="29" r="19" fill="url(#gglow)"/><circle cx="28" cy="29" r="14.1" fill="url(#gsun)"/><g transform="translate(9,14)"><use href="#cloudA"/></g></svg></div>
<div class="a" style="left:1460px;top:700px;width:59px;height:59px;overflow:hidden"><svg width="59" height="59" viewBox="0 0 59 59"><rect width="59" height="59" fill="#0b0b10"/><use href="#ovclouds"/></svg></div>
<div class="a" style="left:1520px;top:700px;width:59px;height:59px;overflow:hidden"><svg width="59" height="59" viewBox="0 0 59 59"><rect width="59" height="59" fill="#0b0b10"/><use href="#ovclouds"/></svg></div>
<div class="a" style="left:1580px;top:700px;width:59px;height:59px;overflow:hidden"><svg width="59" height="59" viewBox="0 0 59 59"><rect width="59" height="59" fill="url(#gov)"/><use href="#ovclouds"/></svg></div>
<div class="a" style="left:1640px;top:700px;width:59px;height:59px;overflow:hidden"><svg width="59" height="59" viewBox="0 0 59 59"><rect width="59" height="59" fill="url(#gsky)"/><path d="M28.00 4.00 L30.93 14.29 L37.57 5.90 L36.33 16.53 L45.68 11.32 L40.47 20.67 L51.10 19.43 L42.71 26.07 L53.00 29.00 L42.71 31.93 L51.10 38.57 L40.47 37.33 L45.68 46.68 L36.33 41.47 L37.57 52.10 L30.93 43.71 L28.00 54.00 L25.07 43.71 L18.43 52.10 L19.67 41.47 L10.32 46.68 L15.53 37.33 L4.90 38.57 L13.29 31.93 L3.00 29.00 L13.29 26.07 L4.90 19.43 L15.53 20.67 L10.32 11.32 L19.67 16.53 L18.43 5.90 L25.07 14.29Z" fill="#f3d962" opacity="0.75" filter="url(#blur1)"/><circle cx="28" cy="29" r="19" fill="url(#gglow)"/><circle cx="28" cy="29" r="14.1" fill="url(#gsun)"/><g transform="translate(9,14)"><use href="#cloudA"/></g></svg></div>
<div class="a" style="left:1700px;top:700px;width:59px;height:59px;overflow:hidden"><svg width="59" height="59" viewBox="0 0 59 59"><rect width="59" height="59" fill="#0b0b10"/><g transform="translate(19.8,22.1)"><use href="#moonb"/></g><g fill="#8a8a8a"><circle cx="39" cy="8" r="1.1"/><circle cx="41" cy="20.5" r="1"/><circle cx="15.6" cy="45.5" r="1.1"/><circle cx="33.4" cy="49.5" r="1"/></g></svg></div>
<div class="a" style="left:70px;top:759px;width:1682px;height:1px;background:#2c4a6a"></div>
<div class="a" style="left:0;top:759px;width:69px;height:1px;background:#2c4a6a"></div>
<div class="a" style="left:70px;top:760px;width:1682px;height:27px;background:#fafafa;overflow:hidden">
<div class="a" style="left:-44.4px;top:5.1px;font-size:15px;line-height:18px;letter-spacing:0.46px;color:#e6e6e6;white-space:nowrap">Powered by Tide-Forecast.com</div><svg class="a" style="left:182.6px;top:5.6px" width="53" height="15" viewBox="0 0 53 15"><rect x="0" y="0" width="15.6" height="15" fill="#e8e8e8"/><rect x="18.5" y="0" width="15.4" height="15" fill="#e8e8e8"/><rect x="37" y="0" width="15.5" height="15" fill="#e8e8e8"/><path d="M1 1 C3 1 4 14 6.5 14 C9 14 10 1 12.5 1 C14 1 14.5 8 15.5 10" fill="none" stroke="#f8f8f8" stroke-width="1"/><path d="M18.5 5.5 H25.5 V10.5 M22.5 8 L25.5 11 L28.5 8" fill="none" stroke="#f8f8f8" stroke-width="1.1"/><path d="M44.7 1.5 L48.3 13.5 H41.2 Z" fill="#f8f8f8"/></svg>
<div class="a" style="left:295.6px;top:5.1px;font-size:15px;line-height:18px;letter-spacing:0.46px;color:#e6e6e6;white-space:nowrap">Powered by Tide-Forecast.com</div><svg class="a" style="left:522.6px;top:5.6px" width="53" height="15" viewBox="0 0 53 15"><rect x="0" y="0" width="15.6" height="15" fill="#e8e8e8"/><rect x="18.5" y="0" width="15.4" height="15" fill="#e8e8e8"/><rect x="37" y="0" width="15.5" height="15" fill="#e8e8e8"/><path d="M1 1 C3 1 4 14 6.5 14 C9 14 10 1 12.5 1 C14 1 14.5 8 15.5 10" fill="none" stroke="#f8f8f8" stroke-width="1"/><path d="M18.5 5.5 H25.5 V10.5 M22.5 8 L25.5 11 L28.5 8" fill="none" stroke="#f8f8f8" stroke-width="1.1"/><path d="M44.7 1.5 L48.3 13.5 H41.2 Z" fill="#f8f8f8"/></svg>
<div class="a" style="left:635.6px;top:5.1px;font-size:15px;line-height:18px;letter-spacing:0.46px;color:#e6e6e6;white-space:nowrap">Powered by Tide-Forecast.com</div><svg class="a" style="left:862.6px;top:5.6px" width="53" height="15" viewBox="0 0 53 15"><rect x="0" y="0" width="15.6" height="15" fill="#e8e8e8"/><rect x="18.5" y="0" width="15.4" height="15" fill="#e8e8e8"/><rect x="37" y="0" width="15.5" height="15" fill="#e8e8e8"/><path d="M1 1 C3 1 4 14 6.5 14 C9 14 10 1 12.5 1 C14 1 14.5 8 15.5 10" fill="none" stroke="#f8f8f8" stroke-width="1"/><path d="M18.5 5.5 H25.5 V10.5 M22.5 8 L25.5 11 L28.5 8" fill="none" stroke="#f8f8f8" stroke-width="1.1"/><path d="M44.7 1.5 L48.3 13.5 H41.2 Z" fill="#f8f8f8"/></svg>
<div class="a" style="left:975.6px;top:5.1px;font-size:15px;line-height:18px;letter-spacing:0.46px;color:#e6e6e6;white-space:nowrap">Powered by Tide-Forecast.com</div><svg class="a" style="left:1202.6px;top:5.6px" width="53" height="15" viewBox="0 0 53 15"><rect x="0" y="0" width="15.6" height="15" fill="#e8e8e8"/><rect x="18.5" y="0" width="15.4" height="15" fill="#e8e8e8"/><rect x="37" y="0" width="15.5" height="15" fill="#e8e8e8"/><path d="M1 1 C3 1 4 14 6.5 14 C9 14 10 1 12.5 1 C14 1 14.5 8 15.5 10" fill="none" stroke="#f8f8f8" stroke-width="1"/><path d="M18.5 5.5 H25.5 V10.5 M22.5 8 L25.5 11 L28.5 8" fill="none" stroke="#f8f8f8" stroke-width="1.1"/><path d="M44.7 1.5 L48.3 13.5 H41.2 Z" fill="#f8f8f8"/></svg>
<div class="a" style="left:1315.6px;top:5.1px;font-size:15px;line-height:18px;letter-spacing:0.46px;color:#e6e6e6;white-space:nowrap">Powered by Tide-Forecast.com</div><svg class="a" style="left:1542.6px;top:5.6px" width="53" height="15" viewBox="0 0 53 15"><rect x="0" y="0" width="15.6" height="15" fill="#e8e8e8"/><rect x="18.5" y="0" width="15.4" height="15" fill="#e8e8e8"/><rect x="37" y="0" width="15.5" height="15" fill="#e8e8e8"/><path d="M1 1 C3 1 4 14 6.5 14 C9 14 10 1 12.5 1 C14 1 14.5 8 15.5 10" fill="none" stroke="#f8f8f8" stroke-width="1"/><path d="M18.5 5.5 H25.5 V10.5 M22.5 8 L25.5 11 L28.5 8" fill="none" stroke="#f8f8f8" stroke-width="1.1"/><path d="M44.7 1.5 L48.3 13.5 H41.2 Z" fill="#f8f8f8"/></svg>
<div class="a" style="left:1655.6px;top:5.1px;font-size:15px;line-height:18px;letter-spacing:0.46px;color:#e6e6e6;white-space:nowrap">Powered by Tide-Forecast.com</div><svg class="a" style="left:1882.6px;top:5.6px" width="53" height="15" viewBox="0 0 53 15"><rect x="0" y="0" width="15.6" height="15" fill="#e8e8e8"/><rect x="18.5" y="0" width="15.4" height="15" fill="#e8e8e8"/><rect x="37" y="0" width="15.5" height="15" fill="#e8e8e8"/><path d="M1 1 C3 1 4 14 6.5 14 C9 14 10 1 12.5 1 C14 1 14.5 8 15.5 10" fill="none" stroke="#f8f8f8" stroke-width="1"/><path d="M18.5 5.5 H25.5 V10.5 M22.5 8 L25.5 11 L28.5 8" fill="none" stroke="#f8f8f8" stroke-width="1.1"/><path d="M44.7 1.5 L48.3 13.5 H41.2 Z" fill="#f8f8f8"/></svg>
</div>
<div class="a" style="left:69px;top:652px;width:1px;height:135px;background:#777"></div>
<div class="a" style="left:69px;top:98px;width:1px;height:23px;background:#1d3550"></div></body></html>
